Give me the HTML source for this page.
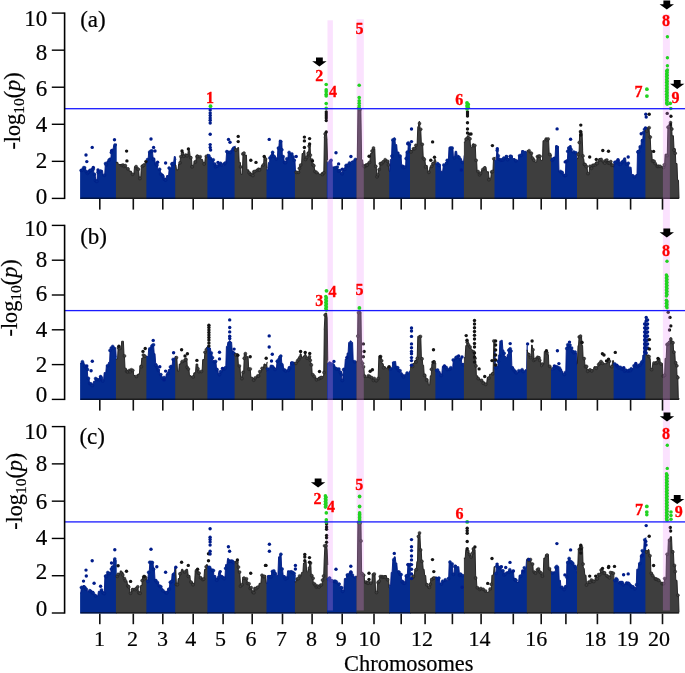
<!DOCTYPE html><html><head><meta charset="utf-8"><style>html,body{margin:0;padding:0;background:#fff;}svg{display:block;will-change:transform;}text{font-family:"Liberation Serif",serif;}</style></head><body>
<svg width="685" height="673" viewBox="0 0 685 673">
<path d="M80.1,199.0 L80.1,169.6 L80.4,169.6 L81.0,169.6 L82.6,169.6 L83.2,168.2 L85.4,168.2 L86.0,171.8 L88.0,171.8 L88.5,170.4 L90.9,170.4 L91.5,168.2 L93.4,168.2 L94.0,174.7 L95.2,174.7 L95.8,180.6 L97.0,180.6 L97.6,171.1 L99.6,171.1 L100.2,170.4 L102.5,170.4 L103.1,175.5 L104.7,175.5 L105.3,163.8 L106.5,163.8 L107.1,160.9 L108.7,160.9 L109.3,158.0 L110.9,158.0 L111.5,149.2 L113.1,149.2 L113.7,145.5 L115.3,145.5 L115.9,144.0 L116.7,144.0 L116.7,199.0Z" fill="#042b90"/>
<path d="M80.1,169.6 L80.4,169.6 L81.0,169.6 L82.6,169.6 L83.2,168.2 L85.4,168.2 L86.0,171.8 L88.0,171.8 L88.5,170.4 L90.9,170.4 L91.5,168.2 L93.4,168.2 L94.0,174.7 L95.2,174.7 L95.8,180.6 L97.0,180.6 L97.6,171.1 L99.6,171.1 L100.2,170.4 L102.5,170.4 L103.1,175.5 L104.7,175.5 L105.3,163.8 L106.5,163.8 L107.1,160.9 L108.7,160.9 L109.3,158.0 L110.9,158.0 L111.5,149.2 L113.1,149.2 L113.7,145.5 L115.3,145.5 L115.9,144.0 L116.7,144.0" fill="none" stroke="#001a85" stroke-width="0.9" stroke-linejoin="round"/>
<g fill="#042b90" stroke="#001a85" stroke-width="0.45"><circle cx="81.1" cy="170.4" r="1.5"/><circle cx="82.5" cy="169.8" r="1.5"/><circle cx="83.7" cy="167.7" r="1.5"/><circle cx="84.6" cy="167.8" r="1.5"/><circle cx="86.3" cy="171.5" r="1.5"/><circle cx="87.4" cy="173.3" r="1.5"/><circle cx="88.4" cy="172.1" r="1.5"/><circle cx="89.9" cy="170.4" r="1.5"/><circle cx="90.7" cy="170.3" r="1.5"/><circle cx="93.3" cy="169.0" r="1.5"/><circle cx="94.5" cy="174.2" r="1.5"/><circle cx="95.5" cy="180.5" r="1.5"/><circle cx="96.8" cy="181.3" r="1.5"/><circle cx="98.0" cy="172.2" r="1.5"/><circle cx="100.5" cy="171.0" r="1.5"/><circle cx="104.4" cy="175.2" r="1.5"/><circle cx="105.5" cy="163.5" r="1.5"/><circle cx="106.2" cy="164.7" r="1.5"/><circle cx="109.1" cy="160.0" r="1.5"/><circle cx="111.3" cy="152.5" r="1.5"/><circle cx="115.0" cy="145.0" r="1.5"/></g>
<path d="M115.9,199.0 L115.9,162.3 L117.8,162.3 L118.4,164.5 L122.2,164.5 L122.8,165.3 L125.9,165.3 L126.5,168.2 L128.8,168.2 L129.4,171.1 L131.3,171.1 L131.9,174.0 L133.9,174.0 L134.5,166.7 L136.5,166.7 L137.1,168.2 L138.6,168.2 L139.2,177.0 L140.8,177.0 L141.4,165.3 L143.0,165.3 L143.6,163.8 L145.5,163.8 L146.1,162.3 L147.2,162.3 L147.2,199.0Z" fill="#3e3e3e"/>
<path d="M115.9,162.3 L117.8,162.3 L118.4,164.5 L122.2,164.5 L122.8,165.3 L125.9,165.3 L126.5,168.2 L128.8,168.2 L129.4,171.1 L131.3,171.1 L131.9,174.0 L133.9,174.0 L134.5,166.7 L136.5,166.7 L137.1,168.2 L138.6,168.2 L139.2,177.0 L140.8,177.0 L141.4,165.3 L143.0,165.3 L143.6,163.8 L145.5,163.8 L146.1,162.3 L147.2,162.3" fill="none" stroke="#1a1a1a" stroke-width="0.9" stroke-linejoin="round"/>
<g fill="#3e3e3e" stroke="#1a1a1a" stroke-width="0.45"><circle cx="121.8" cy="165.4" r="1.5"/><circle cx="123.1" cy="165.1" r="1.5"/><circle cx="124.0" cy="166.4" r="1.5"/><circle cx="125.3" cy="165.6" r="1.5"/><circle cx="127.9" cy="168.8" r="1.5"/><circle cx="132.6" cy="174.2" r="1.5"/><circle cx="136.1" cy="166.6" r="1.5"/><circle cx="137.5" cy="168.9" r="1.5"/><circle cx="138.4" cy="169.3" r="1.5"/><circle cx="139.9" cy="178.5" r="1.5"/><circle cx="142.4" cy="166.2" r="1.5"/><circle cx="143.7" cy="165.2" r="1.5"/></g>
<path d="M146.4,199.0 L146.4,163.8 L146.6,163.8 L147.2,160.0 L148.1,160.0 L148.7,152.1 L150.3,152.1 L150.9,151.4 L152.5,151.4 L153.1,158.0 L154.7,158.0 L155.3,163.8 L157.2,163.8 L157.9,169.6 L160.1,169.6 L160.8,174.0 L163.1,174.0 L163.7,178.4 L166.1,178.4 L166.7,175.5 L168.6,175.5 L169.2,168.2 L171.1,168.2 L171.8,162.3 L173.7,162.3 L174.3,156.5 L175.2,156.5 L175.9,160.0 L176.0,160.0 L176.0,199.0Z" fill="#042b90"/>
<path d="M146.4,163.8 L146.6,163.8 L147.2,160.0 L148.1,160.0 L148.7,152.1 L150.3,152.1 L150.9,151.4 L152.5,151.4 L153.1,158.0 L154.7,158.0 L155.3,163.8 L157.2,163.8 L157.9,169.6 L160.1,169.6 L160.8,174.0 L163.1,174.0 L163.7,178.4 L166.1,178.4 L166.7,175.5 L168.6,175.5 L169.2,168.2 L171.1,168.2 L171.8,162.3 L173.7,162.3 L174.3,156.5 L175.2,156.5 L175.9,160.0 L176.0,160.0" fill="none" stroke="#001a85" stroke-width="0.9" stroke-linejoin="round"/>
<g fill="#042b90" stroke="#001a85" stroke-width="0.45"><circle cx="147.5" cy="159.6" r="1.5"/><circle cx="149.7" cy="152.0" r="1.5"/><circle cx="151.1" cy="150.9" r="1.5"/><circle cx="152.2" cy="151.0" r="1.5"/><circle cx="153.3" cy="159.3" r="1.5"/><circle cx="155.9" cy="164.0" r="1.5"/><circle cx="157.0" cy="165.1" r="1.5"/><circle cx="159.6" cy="169.2" r="1.5"/><circle cx="160.7" cy="174.0" r="1.5"/><circle cx="162.9" cy="176.2" r="1.5"/><circle cx="164.2" cy="179.0" r="1.5"/><circle cx="165.6" cy="180.0" r="1.5"/><circle cx="169.1" cy="168.0" r="1.5"/><circle cx="171.8" cy="163.9" r="1.5"/><circle cx="173.0" cy="163.9" r="1.5"/></g>
<path d="M175.2,199.0 L175.2,165.0 L175.9,165.0 L176.5,169.8 L178.0,169.8 L178.7,163.9 L179.9,163.9 L180.5,156.5 L181.3,156.5 L182.0,152.0 L183.2,152.0 L183.9,156.5 L185.5,156.5 L186.1,155.0 L187.7,155.0 L188.3,150.5 L189.5,150.5 L190.2,156.5 L191.4,156.5 L192.0,165.4 L193.6,165.4 L194.2,160.9 L195.9,160.9 L196.5,155.0 L198.1,155.0 L198.7,156.5 L200.3,156.5 L200.9,159.4 L202.5,159.4 L203.2,162.4 L204.8,162.4 L205.4,156.5 L206.9,156.5 L207.5,154.2 L208.2,154.2 L208.2,199.0Z" fill="#3e3e3e"/>
<path d="M175.2,165.0 L175.9,165.0 L176.5,169.8 L178.0,169.8 L178.7,163.9 L179.9,163.9 L180.5,156.5 L181.3,156.5 L182.0,152.0 L183.2,152.0 L183.9,156.5 L185.5,156.5 L186.1,155.0 L187.7,155.0 L188.3,150.5 L189.5,150.5 L190.2,156.5 L191.4,156.5 L192.0,165.4 L193.6,165.4 L194.2,160.9 L195.9,160.9 L196.5,155.0 L198.1,155.0 L198.7,156.5 L200.3,156.5 L200.9,159.4 L202.5,159.4 L203.2,162.4 L204.8,162.4 L205.4,156.5 L206.9,156.5 L207.5,154.2 L208.2,154.2" fill="none" stroke="#1a1a1a" stroke-width="0.9" stroke-linejoin="round"/>
<g fill="#3e3e3e" stroke="#1a1a1a" stroke-width="0.45"><circle cx="180.0" cy="162.8" r="1.5"/><circle cx="180.9" cy="156.5" r="1.5"/><circle cx="182.5" cy="153.5" r="1.5"/><circle cx="183.9" cy="156.2" r="1.5"/><circle cx="185.8" cy="155.1" r="1.5"/><circle cx="187.0" cy="155.8" r="1.5"/><circle cx="190.9" cy="157.7" r="1.5"/><circle cx="192.1" cy="166.8" r="1.5"/><circle cx="195.4" cy="162.0" r="1.5"/><circle cx="197.0" cy="156.5" r="1.5"/><circle cx="197.9" cy="156.5" r="1.5"/><circle cx="200.2" cy="156.7" r="1.5"/><circle cx="204.2" cy="164.0" r="1.5"/><circle cx="206.4" cy="156.2" r="1.5"/></g>
<path d="M207.4,199.0 L207.4,155.0 L207.6,155.0 L208.2,155.0 L209.2,155.0 L209.9,158.0 L211.5,158.0 L212.1,159.4 L213.3,159.4 L214.0,163.9 L215.2,163.9 L215.8,165.4 L217.8,165.4 L218.4,163.9 L220.8,163.9 L221.4,165.4 L223.7,165.4 L224.3,162.4 L225.9,162.4 L226.6,152.0 L227.8,152.0 L228.4,151.3 L230.0,151.3 L230.7,150.5 L232.3,150.5 L232.9,147.5 L234.2,147.5 L234.9,146.1 L235.4,146.1 L235.4,199.0Z" fill="#042b90"/>
<path d="M207.4,155.0 L207.6,155.0 L208.2,155.0 L209.2,155.0 L209.9,158.0 L211.5,158.0 L212.1,159.4 L213.3,159.4 L214.0,163.9 L215.2,163.9 L215.8,165.4 L217.8,165.4 L218.4,163.9 L220.8,163.9 L221.4,165.4 L223.7,165.4 L224.3,162.4 L225.9,162.4 L226.6,152.0 L227.8,152.0 L228.4,151.3 L230.0,151.3 L230.7,150.5 L232.3,150.5 L232.9,147.5 L234.2,147.5 L234.9,146.1 L235.4,146.1" fill="none" stroke="#001a85" stroke-width="0.9" stroke-linejoin="round"/>
<g fill="#042b90" stroke="#001a85" stroke-width="0.45"><circle cx="208.9" cy="155.8" r="1.5"/><circle cx="210.1" cy="158.1" r="1.5"/><circle cx="213.3" cy="159.8" r="1.5"/><circle cx="214.7" cy="163.9" r="1.5"/><circle cx="215.6" cy="166.8" r="1.5"/><circle cx="217.0" cy="166.1" r="1.5"/><circle cx="219.7" cy="164.4" r="1.5"/><circle cx="220.6" cy="163.3" r="1.5"/><circle cx="221.6" cy="164.8" r="1.5"/><circle cx="224.2" cy="163.9" r="1.5"/><circle cx="225.3" cy="162.9" r="1.5"/><circle cx="226.8" cy="151.6" r="1.5"/><circle cx="227.6" cy="152.0" r="1.5"/><circle cx="230.2" cy="152.2" r="1.5"/><circle cx="232.7" cy="149.5" r="1.5"/><circle cx="233.9" cy="147.9" r="1.5"/></g>
<path d="M234.6,199.0 L234.6,147.5 L235.3,147.5 L235.9,149.0 L237.1,149.0 L237.8,147.5 L238.6,147.5 L239.2,162.4 L240.4,162.4 L241.1,174.3 L242.3,174.3 L243.0,153.5 L244.2,153.5 L244.8,155.0 L246.4,155.0 L247.0,169.8 L248.6,169.8 L249.2,172.8 L250.8,172.8 L251.5,174.3 L253.1,174.3 L253.7,171.3 L255.3,171.3 L255.9,169.8 L257.9,169.8 L258.5,168.4 L260.9,168.4 L261.5,165.4 L263.5,165.4 L264.1,156.5 L265.3,156.5 L265.9,159.4 L266.5,159.4 L267.1,168.0 L267.3,168.0 L267.3,199.0Z" fill="#3e3e3e"/>
<path d="M234.6,147.5 L235.3,147.5 L235.9,149.0 L237.1,149.0 L237.8,147.5 L238.6,147.5 L239.2,162.4 L240.4,162.4 L241.1,174.3 L242.3,174.3 L243.0,153.5 L244.2,153.5 L244.8,155.0 L246.4,155.0 L247.0,169.8 L248.6,169.8 L249.2,172.8 L250.8,172.8 L251.5,174.3 L253.1,174.3 L253.7,171.3 L255.3,171.3 L255.9,169.8 L257.9,169.8 L258.5,168.4 L260.9,168.4 L261.5,165.4 L263.5,165.4 L264.1,156.5 L265.3,156.5 L265.9,159.4 L266.5,159.4 L267.1,168.0 L267.3,168.0" fill="none" stroke="#1a1a1a" stroke-width="0.9" stroke-linejoin="round"/>
<g fill="#3e3e3e" stroke="#1a1a1a" stroke-width="0.45"><circle cx="235.8" cy="150.1" r="1.5"/><circle cx="240.6" cy="166.9" r="1.5"/><circle cx="242.8" cy="153.9" r="1.5"/><circle cx="244.0" cy="153.1" r="1.5"/><circle cx="249.1" cy="172.7" r="1.5"/><circle cx="250.4" cy="174.3" r="1.5"/><circle cx="251.7" cy="174.5" r="1.5"/><circle cx="252.9" cy="175.5" r="1.5"/><circle cx="253.8" cy="171.8" r="1.5"/><circle cx="254.8" cy="171.4" r="1.5"/><circle cx="257.4" cy="170.2" r="1.5"/><circle cx="258.5" cy="169.2" r="1.5"/><circle cx="259.5" cy="170.0" r="1.5"/><circle cx="263.3" cy="164.9" r="1.5"/><circle cx="265.6" cy="159.0" r="1.5"/></g>
<path d="M266.5,199.0 L266.5,169.8 L266.8,169.8 L267.4,169.8 L267.9,169.8 L268.5,162.4 L269.5,162.4 L270.1,156.5 L271.3,156.5 L271.9,152.0 L273.2,152.0 L273.8,156.5 L275.5,156.5 L276.1,159.4 L277.3,159.4 L277.9,147.5 L278.8,147.5 L279.4,140.1 L280.3,140.1 L280.9,140.9 L281.8,140.9 L282.4,156.5 L283.7,156.5 L284.3,162.4 L285.9,162.4 L286.5,159.4 L287.8,159.4 L288.4,152.0 L289.6,152.0 L290.2,153.5 L291.8,153.5 L292.4,156.5 L293.6,156.5 L294.2,159.4 L294.9,159.4 L295.5,171.3 L295.7,171.3 L295.7,199.0Z" fill="#042b90"/>
<path d="M266.5,169.8 L266.8,169.8 L267.4,169.8 L267.9,169.8 L268.5,162.4 L269.5,162.4 L270.1,156.5 L271.3,156.5 L271.9,152.0 L273.2,152.0 L273.8,156.5 L275.5,156.5 L276.1,159.4 L277.3,159.4 L277.9,147.5 L278.8,147.5 L279.4,140.1 L280.3,140.1 L280.9,140.9 L281.8,140.9 L282.4,156.5 L283.7,156.5 L284.3,162.4 L285.9,162.4 L286.5,159.4 L287.8,159.4 L288.4,152.0 L289.6,152.0 L290.2,153.5 L291.8,153.5 L292.4,156.5 L293.6,156.5 L294.2,159.4 L294.9,159.4 L295.5,171.3 L295.7,171.3" fill="none" stroke="#001a85" stroke-width="0.9" stroke-linejoin="round"/>
<g fill="#042b90" stroke="#001a85" stroke-width="0.45"><circle cx="269.9" cy="157.9" r="1.5"/><circle cx="271.4" cy="156.1" r="1.5"/><circle cx="272.6" cy="152.3" r="1.5"/><circle cx="274.0" cy="156.2" r="1.5"/><circle cx="276.3" cy="158.9" r="1.5"/><circle cx="278.4" cy="148.1" r="1.5"/><circle cx="280.7" cy="141.5" r="1.5"/><circle cx="281.9" cy="149.8" r="1.5"/><circle cx="283.1" cy="156.6" r="1.5"/><circle cx="284.7" cy="162.4" r="1.5"/><circle cx="285.5" cy="162.6" r="1.5"/><circle cx="286.8" cy="158.8" r="1.5"/><circle cx="289.1" cy="152.4" r="1.5"/><circle cx="291.9" cy="153.9" r="1.5"/><circle cx="293.1" cy="156.8" r="1.5"/><circle cx="294.2" cy="160.2" r="1.5"/></g>
<path d="M294.9,199.0 L294.9,171.3 L295.2,171.3 L295.9,171.3 L297.0,171.3 L297.6,172.8 L299.2,172.8 L299.8,165.4 L301.5,165.4 L302.1,153.5 L303.3,153.5 L303.9,150.5 L304.8,150.5 L305.4,159.4 L306.7,159.4 L307.3,152.0 L308.6,152.0 L309.2,144.6 L310.1,144.6 L310.7,159.4 L311.9,159.4 L312.5,165.4 L314.1,165.4 L314.7,171.3 L316.3,171.3 L316.9,172.8 L318.6,172.8 L319.2,174.3 L320.8,174.3 L321.4,172.8 L322.7,172.8 L323.3,172.0 L323.8,172.0 L324.4,138.0 L324.2,138.0 L324.9,132.5 L325.3,132.5 L325.9,132.5 L326.4,132.5 L327.1,140.0 L327.0,140.0 L327.6,160.0 L327.6,160.0 L327.6,199.0Z" fill="#3e3e3e"/>
<path d="M294.9,171.3 L295.2,171.3 L295.9,171.3 L297.0,171.3 L297.6,172.8 L299.2,172.8 L299.8,165.4 L301.5,165.4 L302.1,153.5 L303.3,153.5 L303.9,150.5 L304.8,150.5 L305.4,159.4 L306.7,159.4 L307.3,152.0 L308.6,152.0 L309.2,144.6 L310.1,144.6 L310.7,159.4 L311.9,159.4 L312.5,165.4 L314.1,165.4 L314.7,171.3 L316.3,171.3 L316.9,172.8 L318.6,172.8 L319.2,174.3 L320.8,174.3 L321.4,172.8 L322.7,172.8 L323.3,172.0 L323.8,172.0 L324.4,138.0 L324.2,138.0 L324.9,132.5 L325.3,132.5 L325.9,132.5 L326.4,132.5 L327.1,140.0 L327.0,140.0 L327.6,160.0 L327.6,160.0" fill="none" stroke="#1a1a1a" stroke-width="0.9" stroke-linejoin="round"/>
<g fill="#3e3e3e" stroke="#1a1a1a" stroke-width="0.45"><circle cx="296.3" cy="172.3" r="1.5"/><circle cx="298.4" cy="172.3" r="1.5"/><circle cx="299.4" cy="168.3" r="1.5"/><circle cx="300.7" cy="165.0" r="1.5"/><circle cx="305.5" cy="159.4" r="1.5"/><circle cx="306.7" cy="157.3" r="1.5"/><circle cx="308.4" cy="153.5" r="1.5"/><circle cx="309.1" cy="146.1" r="1.5"/><circle cx="310.4" cy="155.1" r="1.5"/><circle cx="311.7" cy="159.9" r="1.5"/><circle cx="312.9" cy="164.8" r="1.5"/><circle cx="313.9" cy="165.7" r="1.5"/><circle cx="315.0" cy="171.4" r="1.5"/><circle cx="316.6" cy="172.4" r="1.5"/><circle cx="322.4" cy="174.4" r="1.5"/><circle cx="323.8" cy="172.8" r="1.5"/><circle cx="325.1" cy="133.9" r="1.5"/></g>
<path d="M326.8,199.0 L326.8,162.4 L326.8,162.4 L327.4,162.4 L328.6,162.4 L329.2,160.9 L331.6,160.9 L332.2,166.9 L334.6,166.9 L335.2,166.9 L337.5,166.9 L338.1,169.8 L340.1,169.8 L340.7,172.8 L342.3,172.8 L342.9,169.8 L344.6,169.8 L345.2,165.4 L346.8,165.4 L347.4,163.9 L349.0,163.9 L349.6,162.4 L351.2,162.4 L351.8,160.9 L353.5,160.9 L354.1,159.4 L355.7,159.4 L356.3,158.7 L357.2,158.7 L357.2,199.0Z" fill="#042b90"/>
<path d="M326.8,162.4 L326.8,162.4 L327.4,162.4 L328.6,162.4 L329.2,160.9 L331.6,160.9 L332.2,166.9 L334.6,166.9 L335.2,166.9 L337.5,166.9 L338.1,169.8 L340.1,169.8 L340.7,172.8 L342.3,172.8 L342.9,169.8 L344.6,169.8 L345.2,165.4 L346.8,165.4 L347.4,163.9 L349.0,163.9 L349.6,162.4 L351.2,162.4 L351.8,160.9 L353.5,160.9 L354.1,159.4 L355.7,159.4 L356.3,158.7 L357.2,158.7" fill="none" stroke="#001a85" stroke-width="0.9" stroke-linejoin="round"/>
<g fill="#042b90" stroke="#001a85" stroke-width="0.45"><circle cx="330.4" cy="161.4" r="1.5"/><circle cx="335.4" cy="167.8" r="1.5"/><circle cx="337.3" cy="167.1" r="1.5"/><circle cx="338.6" cy="171.0" r="1.5"/><circle cx="340.1" cy="170.6" r="1.5"/><circle cx="342.1" cy="173.7" r="1.5"/><circle cx="344.8" cy="169.2" r="1.5"/><circle cx="346.1" cy="165.4" r="1.5"/><circle cx="347.1" cy="165.4" r="1.5"/><circle cx="348.5" cy="165.4" r="1.5"/><circle cx="349.5" cy="162.9" r="1.5"/><circle cx="355.4" cy="159.4" r="1.5"/></g>
<path d="M356.4,199.0 L356.4,160.0 L356.7,160.0 L357.3,158.0 L357.3,158.0 L357.9,110.0 L357.8,110.0 L358.4,108.5 L359.2,108.5 L359.8,108.5 L360.6,108.5 L361.2,110.0 L360.9,110.0 L361.6,158.0 L361.3,158.0 L361.9,160.0 L362.6,160.0 L363.2,165.4 L364.7,165.4 L365.3,163.9 L367.3,163.9 L367.9,162.4 L369.9,162.4 L370.5,153.5 L371.8,153.5 L372.4,148.3 L373.2,148.3 L373.9,149.0 L374.8,149.0 L375.4,165.4 L376.2,165.4 L376.9,177.3 L377.8,177.3 L378.4,169.8 L379.6,169.8 L380.2,162.4 L381.8,162.4 L382.4,160.9 L384.1,160.9 L384.7,159.4 L386.3,159.4 L386.9,160.9 L388.6,160.9 L389.2,171.3 L390.0,171.3 L390.0,199.0Z" fill="#3e3e3e"/>
<path d="M356.4,160.0 L356.7,160.0 L357.3,158.0 L357.3,158.0 L357.9,110.0 L357.8,110.0 L358.4,108.5 L359.2,108.5 L359.8,108.5 L360.6,108.5 L361.2,110.0 L360.9,110.0 L361.6,158.0 L361.3,158.0 L361.9,160.0 L362.6,160.0 L363.2,165.4 L364.7,165.4 L365.3,163.9 L367.3,163.9 L367.9,162.4 L369.9,162.4 L370.5,153.5 L371.8,153.5 L372.4,148.3 L373.2,148.3 L373.9,149.0 L374.8,149.0 L375.4,165.4 L376.2,165.4 L376.9,177.3 L377.8,177.3 L378.4,169.8 L379.6,169.8 L380.2,162.4 L381.8,162.4 L382.4,160.9 L384.1,160.9 L384.7,159.4 L386.3,159.4 L386.9,160.9 L388.6,160.9 L389.2,171.3 L390.0,171.3" fill="none" stroke="#1a1a1a" stroke-width="0.9" stroke-linejoin="round"/>
<g fill="#3e3e3e" stroke="#1a1a1a" stroke-width="0.45"><circle cx="358.8" cy="107.9" r="1.5"/><circle cx="359.9" cy="109.4" r="1.5"/><circle cx="363.6" cy="165.8" r="1.5"/><circle cx="364.6" cy="166.5" r="1.5"/><circle cx="366.3" cy="165.4" r="1.5"/><circle cx="367.2" cy="165.1" r="1.5"/><circle cx="369.5" cy="162.3" r="1.5"/><circle cx="372.0" cy="151.0" r="1.5"/><circle cx="373.5" cy="148.0" r="1.5"/><circle cx="375.8" cy="166.3" r="1.5"/><circle cx="377.0" cy="176.8" r="1.5"/><circle cx="377.7" cy="174.7" r="1.5"/><circle cx="379.1" cy="169.5" r="1.5"/><circle cx="380.3" cy="163.6" r="1.5"/><circle cx="381.8" cy="163.6" r="1.5"/><circle cx="383.1" cy="161.9" r="1.5"/><circle cx="385.1" cy="159.7" r="1.5"/><circle cx="387.5" cy="161.2" r="1.5"/><circle cx="388.5" cy="164.9" r="1.5"/></g>
<path d="M389.2,199.0 L389.2,171.3 L389.7,171.3 L390.3,159.4 L391.5,159.4 L392.1,140.1 L393.3,140.1 L393.9,137.9 L394.8,137.9 L395.4,144.6 L396.7,144.6 L397.3,152.0 L398.9,152.0 L399.5,156.5 L401.1,156.5 L401.7,165.4 L403.3,165.4 L403.9,166.9 L405.6,166.9 L406.2,152.0 L407.8,152.0 L408.4,143.1 L409.7,143.1 L410.3,144.6 L410.8,144.6 L410.8,199.0Z" fill="#042b90"/>
<path d="M389.2,171.3 L389.7,171.3 L390.3,159.4 L391.5,159.4 L392.1,140.1 L393.3,140.1 L393.9,137.9 L394.8,137.9 L395.4,144.6 L396.7,144.6 L397.3,152.0 L398.9,152.0 L399.5,156.5 L401.1,156.5 L401.7,165.4 L403.3,165.4 L403.9,166.9 L405.6,166.9 L406.2,152.0 L407.8,152.0 L408.4,143.1 L409.7,143.1 L410.3,144.6 L410.8,144.6" fill="none" stroke="#001a85" stroke-width="0.9" stroke-linejoin="round"/>
<g fill="#042b90" stroke="#001a85" stroke-width="0.45"><circle cx="391.9" cy="156.1" r="1.5"/><circle cx="392.8" cy="139.9" r="1.5"/><circle cx="394.3" cy="139.2" r="1.5"/><circle cx="400.1" cy="156.0" r="1.5"/><circle cx="402.6" cy="166.2" r="1.5"/><circle cx="403.3" cy="167.5" r="1.5"/><circle cx="404.8" cy="167.1" r="1.5"/><circle cx="406.1" cy="158.5" r="1.5"/><circle cx="407.3" cy="152.1" r="1.5"/><circle cx="408.3" cy="142.9" r="1.5"/><circle cx="409.4" cy="144.5" r="1.5"/></g>
<path d="M410.0,199.0 L410.0,150.0 L410.4,150.0 L411.1,150.5 L412.6,150.5 L413.2,149.0 L415.2,149.0 L415.8,144.6 L417.1,144.6 L417.8,126.7 L418.4,126.7 L419.0,121.5 L419.5,121.5 L420.1,129.7 L420.8,129.7 L421.4,144.6 L422.7,144.6 L423.3,159.4 L424.9,159.4 L425.5,165.4 L427.2,165.4 L427.8,171.3 L429.4,171.3 L430.0,166.9 L431.6,166.9 L432.2,162.4 L433.8,162.4 L434.4,159.4 L435.4,159.4 L436.0,162.0 L436.2,162.0 L436.2,199.0Z" fill="#3e3e3e"/>
<path d="M410.0,150.0 L410.4,150.0 L411.1,150.5 L412.6,150.5 L413.2,149.0 L415.2,149.0 L415.8,144.6 L417.1,144.6 L417.8,126.7 L418.4,126.7 L419.0,121.5 L419.5,121.5 L420.1,129.7 L420.8,129.7 L421.4,144.6 L422.7,144.6 L423.3,159.4 L424.9,159.4 L425.5,165.4 L427.2,165.4 L427.8,171.3 L429.4,171.3 L430.0,166.9 L431.6,166.9 L432.2,162.4 L433.8,162.4 L434.4,159.4 L435.4,159.4 L436.0,162.0 L436.2,162.0" fill="none" stroke="#1a1a1a" stroke-width="0.9" stroke-linejoin="round"/>
<g fill="#3e3e3e" stroke="#1a1a1a" stroke-width="0.45"><circle cx="411.0" cy="151.9" r="1.5"/><circle cx="413.4" cy="148.8" r="1.5"/><circle cx="414.7" cy="148.6" r="1.5"/><circle cx="415.9" cy="145.3" r="1.5"/><circle cx="419.5" cy="123.4" r="1.5"/><circle cx="420.7" cy="129.2" r="1.5"/><circle cx="422.3" cy="144.3" r="1.5"/><circle cx="423.3" cy="158.2" r="1.5"/><circle cx="424.3" cy="159.3" r="1.5"/><circle cx="425.6" cy="166.9" r="1.5"/><circle cx="428.9" cy="172.3" r="1.5"/><circle cx="431.7" cy="166.3" r="1.5"/><circle cx="433.1" cy="163.6" r="1.5"/></g>
<path d="M435.4,199.0 L435.4,163.9 L435.8,163.9 L436.4,163.9 L437.6,163.9 L438.2,163.9 L440.1,163.9 L440.8,171.3 L442.7,171.3 L443.3,165.4 L445.0,165.4 L445.6,162.4 L446.6,162.4 L447.2,160.3 L448.4,160.3 L449.0,147.2 L450.8,147.2 L451.4,148.0 L452.9,148.0 L453.5,158.6 L454.5,158.6 L455.1,151.3 L456.6,151.3 L457.2,155.4 L459.0,155.4 L459.6,158.6 L461.4,158.6 L462.1,161.9 L463.6,161.9 L464.2,155.4 L464.7,155.4 L464.7,199.0Z" fill="#042b90"/>
<path d="M435.4,163.9 L435.8,163.9 L436.4,163.9 L437.6,163.9 L438.2,163.9 L440.1,163.9 L440.8,171.3 L442.7,171.3 L443.3,165.4 L445.0,165.4 L445.6,162.4 L446.6,162.4 L447.2,160.3 L448.4,160.3 L449.0,147.2 L450.8,147.2 L451.4,148.0 L452.9,148.0 L453.5,158.6 L454.5,158.6 L455.1,151.3 L456.6,151.3 L457.2,155.4 L459.0,155.4 L459.6,158.6 L461.4,158.6 L462.1,161.9 L463.6,161.9 L464.2,155.4 L464.7,155.4" fill="none" stroke="#001a85" stroke-width="0.9" stroke-linejoin="round"/>
<g fill="#042b90" stroke="#001a85" stroke-width="0.45"><circle cx="437.6" cy="163.6" r="1.5"/><circle cx="439.1" cy="165.4" r="1.5"/><circle cx="443.8" cy="164.9" r="1.5"/><circle cx="446.5" cy="163.2" r="1.5"/><circle cx="447.2" cy="160.3" r="1.5"/><circle cx="450.7" cy="148.0" r="1.5"/><circle cx="452.1" cy="147.9" r="1.5"/><circle cx="454.5" cy="157.8" r="1.5"/><circle cx="459.2" cy="157.5" r="1.5"/><circle cx="462.7" cy="162.4" r="1.5"/></g>
<path d="M463.9,199.0 L463.9,142.3 L464.8,142.3 L465.4,138.2 L466.7,138.2 L467.3,135.8 L468.4,135.8 L469.0,139.0 L470.0,139.0 L470.6,147.2 L472.1,147.2 L472.7,143.9 L474.1,143.9 L474.7,145.6 L475.3,145.6 L475.9,160.3 L476.6,160.3 L477.2,171.7 L478.6,171.7 L479.2,173.3 L481.1,173.3 L481.7,170.0 L483.5,170.0 L484.1,166.8 L485.9,166.8 L486.6,171.7 L488.4,171.7 L489.0,178.2 L490.8,178.2 L491.4,171.7 L492.9,171.7 L493.5,158.6 L494.3,158.6 L494.9,157.0 L495.3,157.0 L495.3,199.0Z" fill="#3e3e3e"/>
<path d="M463.9,142.3 L464.8,142.3 L465.4,138.2 L466.7,138.2 L467.3,135.8 L468.4,135.8 L469.0,139.0 L470.0,139.0 L470.6,147.2 L472.1,147.2 L472.7,143.9 L474.1,143.9 L474.7,145.6 L475.3,145.6 L475.9,160.3 L476.6,160.3 L477.2,171.7 L478.6,171.7 L479.2,173.3 L481.1,173.3 L481.7,170.0 L483.5,170.0 L484.1,166.8 L485.9,166.8 L486.6,171.7 L488.4,171.7 L489.0,178.2 L490.8,178.2 L491.4,171.7 L492.9,171.7 L493.5,158.6 L494.3,158.6 L494.9,157.0 L495.3,157.0" fill="none" stroke="#1a1a1a" stroke-width="0.9" stroke-linejoin="round"/>
<g fill="#3e3e3e" stroke="#1a1a1a" stroke-width="0.45"><circle cx="466.2" cy="139.1" r="1.5"/><circle cx="468.4" cy="137.5" r="1.5"/><circle cx="470.0" cy="138.8" r="1.5"/><circle cx="473.3" cy="145.4" r="1.5"/><circle cx="474.9" cy="145.5" r="1.5"/><circle cx="476.1" cy="160.3" r="1.5"/><circle cx="478.1" cy="171.6" r="1.5"/><circle cx="479.6" cy="174.8" r="1.5"/><circle cx="480.6" cy="173.2" r="1.5"/><circle cx="482.8" cy="169.5" r="1.5"/><circle cx="484.5" cy="168.1" r="1.5"/><circle cx="488.9" cy="179.7" r="1.5"/><circle cx="491.6" cy="171.9" r="1.5"/><circle cx="492.6" cy="171.5" r="1.5"/><circle cx="493.8" cy="158.8" r="1.5"/></g>
<path d="M494.5,199.0 L494.5,160.3 L494.8,160.3 L495.4,160.3 L496.2,160.3 L496.8,150.5 L497.8,150.5 L498.4,158.6 L499.8,158.6 L500.4,160.3 L502.3,160.3 L502.9,158.6 L504.8,158.6 L505.4,155.4 L507.2,155.4 L507.8,158.6 L509.6,158.6 L510.2,155.4 L512.1,155.4 L512.7,158.6 L515.0,158.6 L515.5,160.3 L518.2,160.3 L518.8,155.4 L521.1,155.4 L521.7,150.5 L523.6,150.5 L524.1,151.3 L526.1,151.3 L526.6,152.1 L527.6,152.1 L527.6,199.0Z" fill="#042b90"/>
<path d="M494.5,160.3 L494.8,160.3 L495.4,160.3 L496.2,160.3 L496.8,150.5 L497.8,150.5 L498.4,158.6 L499.8,158.6 L500.4,160.3 L502.3,160.3 L502.9,158.6 L504.8,158.6 L505.4,155.4 L507.2,155.4 L507.8,158.6 L509.6,158.6 L510.2,155.4 L512.1,155.4 L512.7,158.6 L515.0,158.6 L515.5,160.3 L518.2,160.3 L518.8,155.4 L521.1,155.4 L521.7,150.5 L523.6,150.5 L524.1,151.3 L526.1,151.3 L526.6,152.1 L527.6,152.1" fill="none" stroke="#001a85" stroke-width="0.9" stroke-linejoin="round"/>
<g fill="#042b90" stroke="#001a85" stroke-width="0.45"><circle cx="497.2" cy="150.4" r="1.5"/><circle cx="498.3" cy="155.8" r="1.5"/><circle cx="499.0" cy="159.0" r="1.5"/><circle cx="500.8" cy="160.1" r="1.5"/><circle cx="501.9" cy="159.8" r="1.5"/><circle cx="503.1" cy="159.7" r="1.5"/><circle cx="503.8" cy="158.1" r="1.5"/><circle cx="506.6" cy="156.8" r="1.5"/><circle cx="507.6" cy="159.6" r="1.5"/><circle cx="510.2" cy="156.3" r="1.5"/><circle cx="511.0" cy="156.5" r="1.5"/><circle cx="515.9" cy="160.7" r="1.5"/><circle cx="519.6" cy="155.7" r="1.5"/><circle cx="521.2" cy="155.2" r="1.5"/></g>
<path d="M526.8,199.0 L526.8,150.5 L527.2,150.5 L527.8,150.5 L529.2,150.5 L529.8,152.1 L531.7,152.1 L532.3,158.6 L534.2,158.6 L534.8,161.9 L536.6,161.9 L537.2,157.0 L538.3,157.0 L538.9,155.4 L540.0,155.4 L540.6,160.3 L542.5,160.3 L543.0,140.7 L544.5,140.7 L545.1,139.0 L546.6,139.0 L547.1,139.0 L548.6,139.0 L549.2,153.7 L550.5,153.7 L551.0,155.4 L551.8,155.4 L551.8,199.0Z" fill="#3e3e3e"/>
<path d="M526.8,150.5 L527.2,150.5 L527.8,150.5 L529.2,150.5 L529.8,152.1 L531.7,152.1 L532.3,158.6 L534.2,158.6 L534.8,161.9 L536.6,161.9 L537.2,157.0 L538.3,157.0 L538.9,155.4 L540.0,155.4 L540.6,160.3 L542.5,160.3 L543.0,140.7 L544.5,140.7 L545.1,139.0 L546.6,139.0 L547.1,139.0 L548.6,139.0 L549.2,153.7 L550.5,153.7 L551.0,155.4 L551.8,155.4" fill="none" stroke="#1a1a1a" stroke-width="0.9" stroke-linejoin="round"/>
<g fill="#3e3e3e" stroke="#1a1a1a" stroke-width="0.45"><circle cx="529.1" cy="150.7" r="1.5"/><circle cx="531.4" cy="153.2" r="1.5"/><circle cx="532.5" cy="158.1" r="1.5"/><circle cx="533.9" cy="160.2" r="1.5"/><circle cx="537.4" cy="156.6" r="1.5"/><circle cx="538.9" cy="156.0" r="1.5"/><circle cx="540.0" cy="156.2" r="1.5"/><circle cx="546.2" cy="139.0" r="1.5"/><circle cx="547.1" cy="140.0" r="1.5"/><circle cx="548.2" cy="138.9" r="1.5"/><circle cx="549.8" cy="154.4" r="1.5"/></g>
<path d="M551.0,199.0 L551.0,158.6 L551.3,158.6 L551.9,158.6 L553.1,158.6 L553.7,157.0 L555.1,157.0 L555.7,145.6 L556.8,145.6 L557.3,146.4 L558.4,146.4 L559.0,171.7 L560.5,171.7 L561.0,171.7 L562.9,171.7 L563.5,175.0 L565.4,175.0 L565.9,160.3 L567.4,160.3 L568.0,147.2 L569.0,147.2 L569.6,145.6 L571.1,145.6 L571.6,152.1 L573.5,152.1 L574.1,152.1 L576.1,152.1 L576.7,158.6 L577.8,158.6 L577.8,199.0Z" fill="#042b90"/>
<path d="M551.0,158.6 L551.3,158.6 L551.9,158.6 L553.1,158.6 L553.7,157.0 L555.1,157.0 L555.7,145.6 L556.8,145.6 L557.3,146.4 L558.4,146.4 L559.0,171.7 L560.5,171.7 L561.0,171.7 L562.9,171.7 L563.5,175.0 L565.4,175.0 L565.9,160.3 L567.4,160.3 L568.0,147.2 L569.0,147.2 L569.6,145.6 L571.1,145.6 L571.6,152.1 L573.5,152.1 L574.1,152.1 L576.1,152.1 L576.7,158.6 L577.8,158.6" fill="none" stroke="#001a85" stroke-width="0.9" stroke-linejoin="round"/>
<g fill="#042b90" stroke="#001a85" stroke-width="0.45"><circle cx="552.1" cy="160.2" r="1.5"/><circle cx="553.2" cy="159.0" r="1.5"/><circle cx="557.0" cy="147.1" r="1.5"/><circle cx="560.5" cy="171.4" r="1.5"/><circle cx="562.1" cy="172.4" r="1.5"/><circle cx="564.4" cy="175.4" r="1.5"/><circle cx="565.6" cy="175.3" r="1.5"/><circle cx="566.7" cy="161.1" r="1.5"/><circle cx="567.7" cy="151.3" r="1.5"/><circle cx="568.9" cy="147.9" r="1.5"/><circle cx="571.1" cy="149.5" r="1.5"/><circle cx="573.7" cy="151.9" r="1.5"/><circle cx="575.9" cy="152.8" r="1.5"/></g>
<path d="M577.0,199.0 L577.0,158.6 L577.8,158.6 L578.3,152.1 L579.1,152.1 L579.6,134.0 L579.9,134.0 L580.5,131.5 L581.2,131.5 L581.8,133.0 L582.1,133.0 L582.7,150.0 L582.6,150.0 L583.2,158.6 L583.7,158.6 L584.3,163.5 L585.4,163.5 L585.9,165.2 L587.0,165.2 L587.6,173.3 L589.1,173.3 L589.6,166.8 L591.9,166.8 L592.5,165.2 L595.2,165.2 L595.8,161.9 L598.5,161.9 L599.0,158.6 L601.7,158.6 L602.3,161.9 L605.0,161.9 L605.5,160.3 L607.5,160.3 L608.1,161.6 L609.2,161.6 L609.8,161.9 L611.0,161.9 L611.6,164.4 L613.1,164.4 L613.7,165.2 L614.4,165.2 L614.4,199.0Z" fill="#3e3e3e"/>
<path d="M577.0,158.6 L577.8,158.6 L578.3,152.1 L579.1,152.1 L579.6,134.0 L579.9,134.0 L580.5,131.5 L581.2,131.5 L581.8,133.0 L582.1,133.0 L582.7,150.0 L582.6,150.0 L583.2,158.6 L583.7,158.6 L584.3,163.5 L585.4,163.5 L585.9,165.2 L587.0,165.2 L587.6,173.3 L589.1,173.3 L589.6,166.8 L591.9,166.8 L592.5,165.2 L595.2,165.2 L595.8,161.9 L598.5,161.9 L599.0,158.6 L601.7,158.6 L602.3,161.9 L605.0,161.9 L605.5,160.3 L607.5,160.3 L608.1,161.6 L609.2,161.6 L609.8,161.9 L611.0,161.9 L611.6,164.4 L613.1,164.4 L613.7,165.2 L614.4,165.2" fill="none" stroke="#1a1a1a" stroke-width="0.9" stroke-linejoin="round"/>
<g fill="#3e3e3e" stroke="#1a1a1a" stroke-width="0.45"><circle cx="578.2" cy="154.5" r="1.5"/><circle cx="579.2" cy="142.5" r="1.5"/><circle cx="580.5" cy="131.6" r="1.5"/><circle cx="583.0" cy="155.9" r="1.5"/><circle cx="584.4" cy="164.3" r="1.5"/><circle cx="585.2" cy="164.6" r="1.5"/><circle cx="586.3" cy="166.6" r="1.5"/><circle cx="588.0" cy="173.6" r="1.5"/><circle cx="590.0" cy="166.2" r="1.5"/><circle cx="591.5" cy="168.2" r="1.5"/><circle cx="592.7" cy="165.4" r="1.5"/><circle cx="593.6" cy="165.2" r="1.5"/><circle cx="595.3" cy="164.8" r="1.5"/><circle cx="596.4" cy="163.4" r="1.5"/><circle cx="597.2" cy="163.4" r="1.5"/><circle cx="599.5" cy="160.0" r="1.5"/><circle cx="601.2" cy="159.4" r="1.5"/><circle cx="603.6" cy="161.8" r="1.5"/><circle cx="604.8" cy="163.1" r="1.5"/><circle cx="605.6" cy="160.6" r="1.5"/><circle cx="606.9" cy="160.0" r="1.5"/><circle cx="608.3" cy="163.0" r="1.5"/><circle cx="609.4" cy="162.8" r="1.5"/><circle cx="610.8" cy="161.6" r="1.5"/><circle cx="611.8" cy="165.2" r="1.5"/><circle cx="613.0" cy="165.1" r="1.5"/></g>
<path d="M613.6,199.0 L613.6,167.2 L614.0,167.2 L614.6,161.9 L616.0,161.9 L616.5,160.3 L617.9,160.3 L618.5,159.8 L619.2,159.8 L619.8,165.2 L620.6,165.2 L621.1,161.6 L621.8,161.6 L622.3,161.9 L623.2,161.9 L623.8,157.9 L625.6,157.9 L626.2,163.5 L628.4,163.5 L628.9,167.2 L631.1,167.2 L631.7,174.6 L633.5,174.6 L634.0,176.5 L635.3,176.5 L635.9,174.6 L637.0,174.6 L637.5,150.5 L638.9,150.5 L639.4,146.8 L640.9,146.8 L641.5,139.4 L642.8,139.4 L643.3,132.0 L644.4,132.0 L645.0,128.2 L645.5,128.2 L646.1,128.0 L646.2,128.0 L646.2,199.0Z" fill="#042b90"/>
<path d="M613.6,167.2 L614.0,167.2 L614.6,161.9 L616.0,161.9 L616.5,160.3 L617.9,160.3 L618.5,159.8 L619.2,159.8 L619.8,165.2 L620.6,165.2 L621.1,161.6 L621.8,161.6 L622.3,161.9 L623.2,161.9 L623.8,157.9 L625.6,157.9 L626.2,163.5 L628.4,163.5 L628.9,167.2 L631.1,167.2 L631.7,174.6 L633.5,174.6 L634.0,176.5 L635.3,176.5 L635.9,174.6 L637.0,174.6 L637.5,150.5 L638.9,150.5 L639.4,146.8 L640.9,146.8 L641.5,139.4 L642.8,139.4 L643.3,132.0 L644.4,132.0 L645.0,128.2 L645.5,128.2 L646.1,128.0 L646.2,128.0" fill="none" stroke="#001a85" stroke-width="0.9" stroke-linejoin="round"/>
<g fill="#042b90" stroke="#001a85" stroke-width="0.45"><circle cx="614.9" cy="162.3" r="1.5"/><circle cx="615.7" cy="162.5" r="1.5"/><circle cx="617.0" cy="161.4" r="1.5"/><circle cx="619.4" cy="164.3" r="1.5"/><circle cx="620.6" cy="164.0" r="1.5"/><circle cx="622.0" cy="162.2" r="1.5"/><circle cx="623.3" cy="161.1" r="1.5"/><circle cx="626.5" cy="164.0" r="1.5"/><circle cx="628.3" cy="163.2" r="1.5"/><circle cx="634.3" cy="176.8" r="1.5"/><circle cx="637.8" cy="151.9" r="1.5"/><circle cx="638.7" cy="151.6" r="1.5"/><circle cx="640.2" cy="146.8" r="1.5"/><circle cx="642.4" cy="140.8" r="1.5"/><circle cx="643.5" cy="132.5" r="1.5"/><circle cx="644.5" cy="129.3" r="1.5"/></g>
<path d="M645.4,199.0 L645.4,130.1 L645.5,130.1 L646.1,130.1 L647.1,130.1 L647.7,127.3 L649.0,127.3 L649.5,135.7 L650.2,135.7 L650.8,150.5 L651.7,150.5 L652.2,159.8 L653.7,159.8 L654.3,163.5 L656.2,163.5 L656.8,165.3 L659.0,165.3 L659.6,166.3 L661.8,166.3 L662.3,167.2 L664.5,167.2 L665.1,154.2 L667.3,154.2 L667.9,126.4 L669.7,126.4 L670.2,122.7 L671.5,122.7 L672.1,135.7 L673.4,135.7 L674.0,148.6 L675.2,148.6 L675.8,163.5 L677.0,163.5 L677.6,180.2 L678.5,180.2 L679.0,198.0 L679.2,198.0 L679.2,199.0Z" fill="#3e3e3e"/>
<path d="M645.4,130.1 L645.5,130.1 L646.1,130.1 L647.1,130.1 L647.7,127.3 L649.0,127.3 L649.5,135.7 L650.2,135.7 L650.8,150.5 L651.7,150.5 L652.2,159.8 L653.7,159.8 L654.3,163.5 L656.2,163.5 L656.8,165.3 L659.0,165.3 L659.6,166.3 L661.8,166.3 L662.3,167.2 L664.5,167.2 L665.1,154.2 L667.3,154.2 L667.9,126.4 L669.7,126.4 L670.2,122.7 L671.5,122.7 L672.1,135.7 L673.4,135.7 L674.0,148.6 L675.2,148.6 L675.8,163.5 L677.0,163.5 L677.6,180.2 L678.5,180.2 L679.0,198.0 L679.2,198.0" fill="none" stroke="#1a1a1a" stroke-width="0.9" stroke-linejoin="round"/>
<g fill="#3e3e3e" stroke="#1a1a1a" stroke-width="0.45"><circle cx="646.9" cy="131.0" r="1.5"/><circle cx="649.2" cy="127.7" r="1.5"/><circle cx="650.3" cy="137.1" r="1.5"/><circle cx="652.6" cy="161.1" r="1.5"/><circle cx="654.1" cy="161.2" r="1.5"/><circle cx="655.2" cy="163.5" r="1.5"/><circle cx="657.3" cy="166.4" r="1.5"/><circle cx="658.4" cy="166.3" r="1.5"/><circle cx="660.0" cy="166.3" r="1.5"/><circle cx="663.5" cy="167.3" r="1.5"/><circle cx="664.3" cy="164.8" r="1.5"/><circle cx="667.0" cy="155.6" r="1.5"/><circle cx="668.0" cy="127.2" r="1.5"/><circle cx="669.1" cy="126.6" r="1.5"/><circle cx="670.5" cy="122.6" r="1.5"/><circle cx="671.9" cy="129.0" r="1.5"/><circle cx="674.0" cy="150.1" r="1.5"/><circle cx="675.2" cy="153.2" r="1.5"/></g>
<rect x="80.5" y="197.5" width="598.3" height="1.5" fill="#000" fill-opacity="0.55"/>
<circle cx="86.0" cy="155.0" r="1.7" fill="#001c8a"/>
<circle cx="86.8" cy="161.6" r="1.7" fill="#001c8a"/>
<circle cx="92.2" cy="147.4" r="1.7" fill="#001c8a"/>
<circle cx="114.5" cy="139.7" r="1.7" fill="#001c8a"/>
<circle cx="111.6" cy="150.7" r="1.7" fill="#001c8a"/>
<circle cx="93.3" cy="167.4" r="1.7" fill="#001c8a"/>
<circle cx="98.0" cy="170.0" r="1.7" fill="#001c8a"/>
<circle cx="126.6" cy="151.1" r="1.7" fill="#141414"/>
<circle cx="126.9" cy="160.9" r="1.7" fill="#141414"/>
<circle cx="145.9" cy="161.6" r="1.7" fill="#141414"/>
<circle cx="151.0" cy="139.0" r="1.7" fill="#001c8a"/>
<circle cx="153.6" cy="147.4" r="1.7" fill="#001c8a"/>
<circle cx="155.0" cy="151.0" r="1.7" fill="#001c8a"/>
<circle cx="157.6" cy="162.3" r="1.7" fill="#001c8a"/>
<circle cx="165.6" cy="163.0" r="1.7" fill="#001c8a"/>
<circle cx="188.4" cy="149.0" r="1.7" fill="#141414"/>
<circle cx="182.0" cy="151.0" r="1.7" fill="#141414"/>
<circle cx="210.2" cy="109.9" r="1.7" fill="#001c8a"/>
<circle cx="210.2" cy="113.0" r="1.7" fill="#001c8a"/>
<circle cx="210.2" cy="115.5" r="1.7" fill="#001c8a"/>
<circle cx="210.2" cy="118.0" r="1.7" fill="#001c8a"/>
<circle cx="210.2" cy="120.3" r="1.7" fill="#001c8a"/>
<circle cx="210.2" cy="123.0" r="1.7" fill="#001c8a"/>
<circle cx="210.2" cy="134.2" r="1.7" fill="#001c8a"/>
<circle cx="210.2" cy="144.6" r="1.7" fill="#001c8a"/>
<circle cx="210.2" cy="147.5" r="1.7" fill="#001c8a"/>
<circle cx="210.6" cy="150.0" r="1.7" fill="#001c8a"/>
<circle cx="228.5" cy="139.4" r="1.7" fill="#001c8a"/>
<circle cx="230.0" cy="142.3" r="1.7" fill="#001c8a"/>
<circle cx="218.0" cy="162.4" r="1.7" fill="#001c8a"/>
<circle cx="238.2" cy="136.4" r="1.7" fill="#141414"/>
<circle cx="238.2" cy="141.6" r="1.7" fill="#141414"/>
<circle cx="250.8" cy="160.2" r="1.7" fill="#141414"/>
<circle cx="256.0" cy="162.4" r="1.7" fill="#141414"/>
<circle cx="264.2" cy="156.5" r="1.7" fill="#141414"/>
<circle cx="269.2" cy="139.4" r="1.7" fill="#001c8a"/>
<circle cx="296.2" cy="156.5" r="1.7" fill="#001c8a"/>
<circle cx="304.4" cy="137.1" r="1.7" fill="#141414"/>
<circle cx="304.4" cy="140.9" r="1.7" fill="#141414"/>
<circle cx="304.4" cy="147.5" r="1.7" fill="#141414"/>
<circle cx="309.6" cy="138.6" r="1.7" fill="#141414"/>
<circle cx="309.6" cy="144.0" r="1.7" fill="#141414"/>
<circle cx="312.5" cy="161.0" r="1.7" fill="#141414"/>
<circle cx="326.3" cy="111.9" r="1.7" fill="#141414"/>
<circle cx="326.3" cy="114.0" r="1.7" fill="#141414"/>
<circle cx="326.3" cy="116.0" r="1.7" fill="#141414"/>
<circle cx="326.3" cy="118.0" r="1.7" fill="#141414"/>
<circle cx="326.3" cy="120.5" r="1.7" fill="#141414"/>
<circle cx="326.3" cy="132.0" r="1.7" fill="#141414"/>
<circle cx="331.1" cy="160.2" r="1.7" fill="#001c8a"/>
<circle cx="336.0" cy="152.7" r="1.7" fill="#001c8a"/>
<circle cx="338.6" cy="163.9" r="1.7" fill="#001c8a"/>
<circle cx="342.3" cy="169.1" r="1.7" fill="#001c8a"/>
<circle cx="350.9" cy="156.5" r="1.7" fill="#001c8a"/>
<circle cx="369.1" cy="156.2" r="1.7" fill="#141414"/>
<circle cx="411.5" cy="129.0" r="1.7" fill="#001c8a"/>
<circle cx="407.7" cy="143.8" r="1.7" fill="#001c8a"/>
<circle cx="411.5" cy="141.6" r="1.7" fill="#001c8a"/>
<circle cx="432.6" cy="141.9" r="1.7" fill="#141414"/>
<circle cx="434.5" cy="157.2" r="1.7" fill="#141414"/>
<circle cx="430.8" cy="160.2" r="1.7" fill="#141414"/>
<circle cx="461.3" cy="170.0" r="1.7" fill="#001c8a"/>
<circle cx="467.5" cy="112.0" r="1.7" fill="#141414"/>
<circle cx="467.5" cy="114.0" r="1.7" fill="#141414"/>
<circle cx="467.5" cy="116.0" r="1.7" fill="#141414"/>
<circle cx="467.5" cy="122.7" r="1.7" fill="#141414"/>
<circle cx="467.5" cy="129.0" r="1.7" fill="#141414"/>
<circle cx="467.5" cy="133.0" r="1.7" fill="#141414"/>
<circle cx="469.5" cy="134.1" r="1.7" fill="#141414"/>
<circle cx="471.0" cy="134.0" r="1.7" fill="#141414"/>
<circle cx="492.4" cy="145.6" r="1.7" fill="#141414"/>
<circle cx="497.3" cy="148.8" r="1.7" fill="#001c8a"/>
<circle cx="557.1" cy="128.9" r="1.7" fill="#001c8a"/>
<circle cx="570.6" cy="139.3" r="1.7" fill="#001c8a"/>
<circle cx="565.2" cy="161.9" r="1.7" fill="#001c8a"/>
<circle cx="580.8" cy="125.1" r="1.7" fill="#141414"/>
<circle cx="580.8" cy="132.0" r="1.7" fill="#141414"/>
<circle cx="580.8" cy="135.0" r="1.7" fill="#141414"/>
<circle cx="589.7" cy="157.0" r="1.7" fill="#141414"/>
<circle cx="596.3" cy="159.4" r="1.7" fill="#141414"/>
<circle cx="602.8" cy="150.5" r="1.7" fill="#141414"/>
<circle cx="608.5" cy="151.3" r="1.7" fill="#141414"/>
<circle cx="618.0" cy="159.8" r="1.7" fill="#001c8a"/>
<circle cx="628.2" cy="157.0" r="1.7" fill="#001c8a"/>
<circle cx="641.2" cy="133.8" r="1.7" fill="#001c8a"/>
<circle cx="645.8" cy="114.3" r="1.7" fill="#001c8a"/>
<circle cx="646.2" cy="117.1" r="1.7" fill="#001c8a"/>
<circle cx="645.5" cy="128.0" r="1.7" fill="#001c8a"/>
<circle cx="649.2" cy="114.3" r="1.7" fill="#141414"/>
<circle cx="653.6" cy="151.4" r="1.7" fill="#141414"/>
<circle cx="670.9" cy="116.2" r="1.7" fill="#141414"/>
<circle cx="670.3" cy="124.5" r="1.7" fill="#141414"/>
<circle cx="667.2" cy="113.4" r="1.7" fill="#141414"/>
<path d="M80.1,400.0 L80.1,363.1 L80.2,363.1 L80.8,363.1 L81.7,363.1 L82.3,362.3 L83.9,362.3 L84.5,365.3 L85.8,365.3 L86.3,368.2 L87.2,368.2 L87.8,378.4 L89.0,378.4 L89.6,384.2 L91.2,384.2 L91.8,385.0 L93.0,385.0 L93.6,381.3 L94.9,381.3 L95.5,378.4 L97.0,378.4 L97.6,379.1 L99.2,379.1 L99.8,376.2 L101.4,376.2 L102.0,379.9 L103.6,379.9 L104.2,372.6 L105.8,372.6 L106.4,365.3 L108.0,365.3 L108.6,362.3 L109.6,362.3 L110.2,347.0 L111.4,347.0 L112.0,347.0 L113.8,347.0 L114.4,347.7 L115.7,347.7 L116.2,356.5 L116.7,356.5 L116.7,400.0Z" fill="#042b90"/>
<path d="M80.1,363.1 L80.2,363.1 L80.8,363.1 L81.7,363.1 L82.3,362.3 L83.9,362.3 L84.5,365.3 L85.8,365.3 L86.3,368.2 L87.2,368.2 L87.8,378.4 L89.0,378.4 L89.6,384.2 L91.2,384.2 L91.8,385.0 L93.0,385.0 L93.6,381.3 L94.9,381.3 L95.5,378.4 L97.0,378.4 L97.6,379.1 L99.2,379.1 L99.8,376.2 L101.4,376.2 L102.0,379.9 L103.6,379.9 L104.2,372.6 L105.8,372.6 L106.4,365.3 L108.0,365.3 L108.6,362.3 L109.6,362.3 L110.2,347.0 L111.4,347.0 L112.0,347.0 L113.8,347.0 L114.4,347.7 L115.7,347.7 L116.2,356.5 L116.7,356.5" fill="none" stroke="#001a85" stroke-width="0.9" stroke-linejoin="round"/>
<g fill="#042b90" stroke="#001a85" stroke-width="0.45"><circle cx="82.4" cy="361.7" r="1.5"/><circle cx="84.8" cy="366.1" r="1.5"/><circle cx="86.4" cy="368.0" r="1.5"/><circle cx="87.5" cy="369.4" r="1.5"/><circle cx="88.4" cy="378.3" r="1.5"/><circle cx="89.9" cy="383.6" r="1.5"/><circle cx="91.2" cy="383.9" r="1.5"/><circle cx="92.2" cy="385.5" r="1.5"/><circle cx="95.6" cy="378.5" r="1.5"/><circle cx="97.1" cy="379.5" r="1.5"/><circle cx="99.5" cy="379.7" r="1.5"/><circle cx="100.6" cy="376.6" r="1.5"/><circle cx="101.5" cy="378.0" r="1.5"/><circle cx="102.8" cy="380.9" r="1.5"/><circle cx="107.7" cy="365.7" r="1.5"/><circle cx="110.0" cy="350.4" r="1.5"/><circle cx="112.7" cy="346.4" r="1.5"/><circle cx="113.5" cy="348.0" r="1.5"/></g>
<path d="M115.9,400.0 L115.9,359.4 L116.0,359.4 L116.6,359.4 L117.5,359.4 L118.1,347.7 L119.7,347.7 L120.3,349.2 L121.1,349.2 L121.7,341.2 L122.2,341.2 L122.8,341.2 L123.4,341.2 L124.0,355.0 L124.4,355.0 L125.0,368.2 L126.2,368.2 L126.8,371.1 L128.8,371.1 L129.4,370.4 L131.3,370.4 L131.9,369.6 L133.1,369.6 L133.8,375.5 L135.0,375.5 L135.6,376.2 L137.2,376.2 L137.8,374.0 L139.4,374.0 L140.0,365.3 L141.2,365.3 L141.8,358.0 L143.0,358.0 L143.6,355.0 L145.5,355.0 L146.1,356.5 L147.2,356.5 L147.2,400.0Z" fill="#3e3e3e"/>
<path d="M115.9,359.4 L116.0,359.4 L116.6,359.4 L117.5,359.4 L118.1,347.7 L119.7,347.7 L120.3,349.2 L121.1,349.2 L121.7,341.2 L122.2,341.2 L122.8,341.2 L123.4,341.2 L124.0,355.0 L124.4,355.0 L125.0,368.2 L126.2,368.2 L126.8,371.1 L128.8,371.1 L129.4,370.4 L131.3,370.4 L131.9,369.6 L133.1,369.6 L133.8,375.5 L135.0,375.5 L135.6,376.2 L137.2,376.2 L137.8,374.0 L139.4,374.0 L140.0,365.3 L141.2,365.3 L141.8,358.0 L143.0,358.0 L143.6,355.0 L145.5,355.0 L146.1,356.5 L147.2,356.5" fill="none" stroke="#1a1a1a" stroke-width="0.9" stroke-linejoin="round"/>
<g fill="#3e3e3e" stroke="#1a1a1a" stroke-width="0.45"><circle cx="118.5" cy="347.8" r="1.5"/><circle cx="119.7" cy="348.5" r="1.5"/><circle cx="124.5" cy="355.9" r="1.5"/><circle cx="126.8" cy="371.3" r="1.5"/><circle cx="127.7" cy="371.9" r="1.5"/><circle cx="129.3" cy="370.5" r="1.5"/><circle cx="130.1" cy="371.8" r="1.5"/><circle cx="131.3" cy="369.7" r="1.5"/><circle cx="132.8" cy="370.4" r="1.5"/><circle cx="136.4" cy="376.4" r="1.5"/><circle cx="141.3" cy="366.7" r="1.5"/><circle cx="143.3" cy="355.1" r="1.5"/><circle cx="144.9" cy="356.2" r="1.5"/></g>
<path d="M146.4,400.0 L146.4,356.5 L146.6,356.5 L147.2,356.5 L148.1,356.5 L148.7,349.2 L150.3,349.2 L150.9,345.5 L152.1,345.5 L152.8,344.8 L153.6,344.8 L154.2,353.6 L155.0,353.6 L155.7,363.8 L156.9,363.8 L157.5,369.6 L159.1,369.6 L159.7,374.0 L161.3,374.0 L161.9,378.4 L163.5,378.4 L164.1,377.7 L165.7,377.7 L166.3,374.0 L167.8,374.0 L168.4,369.6 L170.0,369.6 L170.6,365.3 L172.2,365.3 L172.8,359.4 L174.5,359.4 L175.1,356.5 L176.0,356.5 L176.0,400.0Z" fill="#042b90"/>
<path d="M146.4,356.5 L146.6,356.5 L147.2,356.5 L148.1,356.5 L148.7,349.2 L150.3,349.2 L150.9,345.5 L152.1,345.5 L152.8,344.8 L153.6,344.8 L154.2,353.6 L155.0,353.6 L155.7,363.8 L156.9,363.8 L157.5,369.6 L159.1,369.6 L159.7,374.0 L161.3,374.0 L161.9,378.4 L163.5,378.4 L164.1,377.7 L165.7,377.7 L166.3,374.0 L167.8,374.0 L168.4,369.6 L170.0,369.6 L170.6,365.3 L172.2,365.3 L172.8,359.4 L174.5,359.4 L175.1,356.5 L176.0,356.5" fill="none" stroke="#001a85" stroke-width="0.9" stroke-linejoin="round"/>
<g fill="#042b90" stroke="#001a85" stroke-width="0.45"><circle cx="149.8" cy="348.8" r="1.5"/><circle cx="152.3" cy="345.5" r="1.5"/><circle cx="153.5" cy="344.8" r="1.5"/><circle cx="155.9" cy="365.3" r="1.5"/><circle cx="157.4" cy="367.5" r="1.5"/><circle cx="158.3" cy="370.0" r="1.5"/><circle cx="160.9" cy="374.6" r="1.5"/><circle cx="162.2" cy="378.0" r="1.5"/><circle cx="164.1" cy="377.5" r="1.5"/><circle cx="168.0" cy="373.4" r="1.5"/><circle cx="170.4" cy="366.9" r="1.5"/><circle cx="173.1" cy="359.4" r="1.5"/><circle cx="174.1" cy="359.9" r="1.5"/></g>
<path d="M175.2,400.0 L175.2,358.0 L175.5,358.0 L176.2,358.0 L176.9,358.0 L177.5,371.3 L178.7,371.3 L179.3,364.0 L180.5,364.0 L181.2,361.1 L182.4,361.1 L183.0,361.8 L184.6,361.8 L185.2,358.2 L186.8,358.2 L187.4,368.4 L188.9,368.4 L189.5,375.7 L191.1,375.7 L191.7,377.2 L193.3,377.2 L193.9,372.8 L195.5,372.8 L196.1,364.0 L197.7,364.0 L198.3,371.3 L199.9,371.3 L200.5,371.3 L202.1,371.3 L202.7,359.6 L204.3,359.6 L204.9,352.3 L206.1,352.3 L206.7,347.2 L207.3,347.2 L208.0,346.0 L208.2,346.0 L208.2,400.0Z" fill="#3e3e3e"/>
<path d="M175.2,358.0 L175.5,358.0 L176.2,358.0 L176.9,358.0 L177.5,371.3 L178.7,371.3 L179.3,364.0 L180.5,364.0 L181.2,361.1 L182.4,361.1 L183.0,361.8 L184.6,361.8 L185.2,358.2 L186.8,358.2 L187.4,368.4 L188.9,368.4 L189.5,375.7 L191.1,375.7 L191.7,377.2 L193.3,377.2 L193.9,372.8 L195.5,372.8 L196.1,364.0 L197.7,364.0 L198.3,371.3 L199.9,371.3 L200.5,371.3 L202.1,371.3 L202.7,359.6 L204.3,359.6 L204.9,352.3 L206.1,352.3 L206.7,347.2 L207.3,347.2 L208.0,346.0 L208.2,346.0" fill="none" stroke="#1a1a1a" stroke-width="0.9" stroke-linejoin="round"/>
<g fill="#3e3e3e" stroke="#1a1a1a" stroke-width="0.45"><circle cx="176.5" cy="357.6" r="1.5"/><circle cx="182.3" cy="361.4" r="1.5"/><circle cx="185.0" cy="360.1" r="1.5"/><circle cx="185.9" cy="359.6" r="1.5"/><circle cx="187.1" cy="367.2" r="1.5"/><circle cx="188.4" cy="369.0" r="1.5"/><circle cx="193.1" cy="376.9" r="1.5"/><circle cx="198.0" cy="368.8" r="1.5"/><circle cx="199.0" cy="371.7" r="1.5"/><circle cx="201.4" cy="371.4" r="1.5"/><circle cx="205.0" cy="352.2" r="1.5"/><circle cx="206.4" cy="349.5" r="1.5"/></g>
<path d="M207.4,400.0 L207.4,346.0 L208.4,346.0 L209.0,348.0 L210.4,348.0 L211.1,353.8 L211.9,353.8 L212.6,360.4 L213.8,360.4 L214.4,361.1 L215.9,361.1 L216.5,368.4 L217.8,368.4 L218.4,374.2 L219.6,374.2 L220.2,371.3 L221.8,371.3 L222.4,368.4 L224.0,368.4 L224.6,366.9 L225.8,366.9 L226.4,346.5 L227.2,346.5 L227.9,342.1 L228.7,342.1 L229.3,340.7 L230.1,340.7 L230.8,342.1 L231.6,342.1 L232.2,350.9 L233.1,350.9 L233.7,352.3 L234.4,352.3 L235.1,353.0 L235.4,353.0 L235.4,400.0Z" fill="#042b90"/>
<path d="M207.4,346.0 L208.4,346.0 L209.0,348.0 L210.4,348.0 L211.1,353.8 L211.9,353.8 L212.6,360.4 L213.8,360.4 L214.4,361.1 L215.9,361.1 L216.5,368.4 L217.8,368.4 L218.4,374.2 L219.6,374.2 L220.2,371.3 L221.8,371.3 L222.4,368.4 L224.0,368.4 L224.6,366.9 L225.8,366.9 L226.4,346.5 L227.2,346.5 L227.9,342.1 L228.7,342.1 L229.3,340.7 L230.1,340.7 L230.8,342.1 L231.6,342.1 L232.2,350.9 L233.1,350.9 L233.7,352.3 L234.4,352.3 L235.1,353.0 L235.4,353.0" fill="none" stroke="#001a85" stroke-width="0.9" stroke-linejoin="round"/>
<g fill="#042b90" stroke="#001a85" stroke-width="0.45"><circle cx="208.4" cy="348.2" r="1.5"/><circle cx="211.3" cy="352.9" r="1.5"/><circle cx="212.5" cy="357.7" r="1.5"/><circle cx="214.4" cy="361.9" r="1.5"/><circle cx="215.6" cy="361.4" r="1.5"/><circle cx="216.9" cy="369.5" r="1.5"/><circle cx="219.5" cy="374.6" r="1.5"/><circle cx="220.7" cy="371.6" r="1.5"/><circle cx="224.2" cy="368.9" r="1.5"/><circle cx="225.2" cy="367.9" r="1.5"/><circle cx="233.7" cy="353.1" r="1.5"/></g>
<path d="M234.6,400.0 L234.6,353.8 L235.5,353.8 L236.1,353.8 L237.8,353.8 L238.4,365.5 L240.0,365.5 L240.6,377.2 L241.8,377.2 L242.5,371.3 L243.7,371.3 L244.3,353.8 L245.9,353.8 L246.5,356.7 L248.1,356.7 L248.7,368.4 L250.2,368.4 L250.9,377.2 L252.4,377.2 L253.0,378.6 L254.6,378.6 L255.2,377.2 L256.8,377.2 L257.4,375.7 L259.0,375.7 L259.6,371.3 L261.2,371.3 L261.8,368.4 L263.4,368.4 L264.0,364.0 L265.2,364.0 L265.8,365.5 L266.4,365.5 L267.1,362.0 L267.3,362.0 L267.3,400.0Z" fill="#3e3e3e"/>
<path d="M234.6,353.8 L235.5,353.8 L236.1,353.8 L237.8,353.8 L238.4,365.5 L240.0,365.5 L240.6,377.2 L241.8,377.2 L242.5,371.3 L243.7,371.3 L244.3,353.8 L245.9,353.8 L246.5,356.7 L248.1,356.7 L248.7,368.4 L250.2,368.4 L250.9,377.2 L252.4,377.2 L253.0,378.6 L254.6,378.6 L255.2,377.2 L256.8,377.2 L257.4,375.7 L259.0,375.7 L259.6,371.3 L261.2,371.3 L261.8,368.4 L263.4,368.4 L264.0,364.0 L265.2,364.0 L265.8,365.5 L266.4,365.5 L267.1,362.0 L267.3,362.0" fill="none" stroke="#1a1a1a" stroke-width="0.9" stroke-linejoin="round"/>
<g fill="#3e3e3e" stroke="#1a1a1a" stroke-width="0.45"><circle cx="235.8" cy="354.9" r="1.5"/><circle cx="239.4" cy="365.9" r="1.5"/><circle cx="241.9" cy="378.6" r="1.5"/><circle cx="243.1" cy="372.4" r="1.5"/><circle cx="244.2" cy="358.3" r="1.5"/><circle cx="245.4" cy="353.6" r="1.5"/><circle cx="248.8" cy="369.1" r="1.5"/><circle cx="250.3" cy="368.9" r="1.5"/><circle cx="253.7" cy="380.1" r="1.5"/><circle cx="255.1" cy="377.9" r="1.5"/><circle cx="257.7" cy="375.9" r="1.5"/><circle cx="258.5" cy="376.0" r="1.5"/><circle cx="259.8" cy="371.6" r="1.5"/><circle cx="262.1" cy="368.3" r="1.5"/><circle cx="265.6" cy="366.7" r="1.5"/></g>
<path d="M266.5,400.0 L266.5,371.2 L267.3,371.2 L267.9,368.2 L269.7,368.2 L270.3,365.2 L271.9,365.2 L272.5,366.7 L274.2,366.7 L274.8,368.2 L276.4,368.2 L277.1,360.6 L278.3,360.6 L278.9,356.1 L279.8,356.1 L280.4,356.1 L281.3,356.1 L281.9,365.2 L283.2,365.2 L283.8,369.7 L285.6,369.7 L286.2,371.2 L287.8,371.2 L288.4,366.7 L290.1,366.7 L290.7,362.1 L292.3,362.1 L292.9,362.1 L294.4,362.1 L295.1,365.2 L295.7,365.2 L295.7,400.0Z" fill="#042b90"/>
<path d="M266.5,371.2 L267.3,371.2 L267.9,368.2 L269.7,368.2 L270.3,365.2 L271.9,365.2 L272.5,366.7 L274.2,366.7 L274.8,368.2 L276.4,368.2 L277.1,360.6 L278.3,360.6 L278.9,356.1 L279.8,356.1 L280.4,356.1 L281.3,356.1 L281.9,365.2 L283.2,365.2 L283.8,369.7 L285.6,369.7 L286.2,371.2 L287.8,371.2 L288.4,366.7 L290.1,366.7 L290.7,362.1 L292.3,362.1 L292.9,362.1 L294.4,362.1 L295.1,365.2 L295.7,365.2" fill="none" stroke="#001a85" stroke-width="0.9" stroke-linejoin="round"/>
<g fill="#042b90" stroke="#001a85" stroke-width="0.45"><circle cx="267.5" cy="369.1" r="1.5"/><circle cx="272.5" cy="366.6" r="1.5"/><circle cx="275.0" cy="369.4" r="1.5"/><circle cx="277.2" cy="361.2" r="1.5"/><circle cx="278.7" cy="359.7" r="1.5"/><circle cx="280.8" cy="356.1" r="1.5"/><circle cx="281.9" cy="364.6" r="1.5"/><circle cx="284.3" cy="369.8" r="1.5"/><circle cx="285.7" cy="370.9" r="1.5"/><circle cx="288.4" cy="370.2" r="1.5"/><circle cx="289.5" cy="368.1" r="1.5"/><circle cx="291.9" cy="362.9" r="1.5"/><circle cx="292.6" cy="363.6" r="1.5"/></g>
<path d="M294.9,400.0 L294.9,363.6 L295.2,363.6 L295.8,363.6 L296.6,363.6 L297.2,360.6 L298.1,360.6 L298.7,357.6 L299.6,357.6 L300.2,353.8 L301.1,353.8 L301.7,357.6 L302.6,357.6 L303.2,356.1 L304.1,356.1 L304.7,354.5 L306.0,354.5 L306.6,357.6 L308.2,357.6 L308.8,356.1 L310.1,356.1 L310.8,363.6 L311.6,363.6 L312.2,374.2 L313.6,374.2 L314.2,377.3 L315.8,377.3 L316.4,378.8 L318.1,378.8 L318.7,377.3 L320.3,377.3 L320.9,376.5 L322.4,376.5 L323.0,375.8 L323.7,375.8 L324.3,330.0 L324.2,330.0 L324.9,316.0 L324.8,316.0 L325.4,313.0 L325.7,313.0 L326.3,313.0 L326.6,313.0 L327.2,318.0 L327.2,318.0 L327.8,360.6 L327.8,360.6 L327.8,400.0Z" fill="#3e3e3e"/>
<path d="M294.9,363.6 L295.2,363.6 L295.8,363.6 L296.6,363.6 L297.2,360.6 L298.1,360.6 L298.7,357.6 L299.6,357.6 L300.2,353.8 L301.1,353.8 L301.7,357.6 L302.6,357.6 L303.2,356.1 L304.1,356.1 L304.7,354.5 L306.0,354.5 L306.6,357.6 L308.2,357.6 L308.8,356.1 L310.1,356.1 L310.8,363.6 L311.6,363.6 L312.2,374.2 L313.6,374.2 L314.2,377.3 L315.8,377.3 L316.4,378.8 L318.1,378.8 L318.7,377.3 L320.3,377.3 L320.9,376.5 L322.4,376.5 L323.0,375.8 L323.7,375.8 L324.3,330.0 L324.2,330.0 L324.9,316.0 L324.8,316.0 L325.4,313.0 L325.7,313.0 L326.3,313.0 L326.6,313.0 L327.2,318.0 L327.2,318.0 L327.8,360.6 L327.8,360.6" fill="none" stroke="#1a1a1a" stroke-width="0.9" stroke-linejoin="round"/>
<g fill="#3e3e3e" stroke="#1a1a1a" stroke-width="0.45"><circle cx="295.9" cy="363.3" r="1.5"/><circle cx="297.5" cy="360.8" r="1.5"/><circle cx="298.7" cy="359.5" r="1.5"/><circle cx="299.9" cy="357.4" r="1.5"/><circle cx="307.0" cy="358.2" r="1.5"/><circle cx="309.5" cy="356.7" r="1.5"/><circle cx="310.3" cy="360.2" r="1.5"/><circle cx="311.4" cy="364.9" r="1.5"/><circle cx="312.9" cy="374.7" r="1.5"/><circle cx="314.3" cy="376.5" r="1.5"/><circle cx="316.5" cy="379.7" r="1.5"/><circle cx="318.9" cy="378.8" r="1.5"/><circle cx="320.2" cy="378.1" r="1.5"/><circle cx="321.4" cy="377.4" r="1.5"/><circle cx="324.0" cy="372.5" r="1.5"/><circle cx="325.1" cy="315.0" r="1.5"/></g>
<path d="M327.0,400.0 L327.0,363.6 L327.0,363.6 L327.6,363.6 L328.2,363.6 L328.8,362.9 L330.2,362.9 L330.8,363.6 L332.5,363.6 L333.1,365.2 L334.7,365.2 L335.3,368.2 L337.1,368.2 L337.7,368.9 L339.3,368.9 L339.9,371.2 L341.2,371.2 L341.9,380.3 L342.8,380.3 L343.4,368.2 L344.7,368.2 L345.3,359.1 L346.6,359.1 L347.2,353.0 L348.1,353.0 L348.7,342.4 L349.6,342.4 L350.2,340.9 L351.1,340.9 L351.7,342.4 L352.6,342.4 L353.2,360.6 L354.1,360.6 L354.7,362.1 L355.9,362.1 L356.5,362.1 L357.2,362.1 L357.2,400.0Z" fill="#042b90"/>
<path d="M327.0,363.6 L327.0,363.6 L327.6,363.6 L328.2,363.6 L328.8,362.9 L330.2,362.9 L330.8,363.6 L332.5,363.6 L333.1,365.2 L334.7,365.2 L335.3,368.2 L337.1,368.2 L337.7,368.9 L339.3,368.9 L339.9,371.2 L341.2,371.2 L341.9,380.3 L342.8,380.3 L343.4,368.2 L344.7,368.2 L345.3,359.1 L346.6,359.1 L347.2,353.0 L348.1,353.0 L348.7,342.4 L349.6,342.4 L350.2,340.9 L351.1,340.9 L351.7,342.4 L352.6,342.4 L353.2,360.6 L354.1,360.6 L354.7,362.1 L355.9,362.1 L356.5,362.1 L357.2,362.1" fill="none" stroke="#001a85" stroke-width="0.9" stroke-linejoin="round"/>
<g fill="#042b90" stroke="#001a85" stroke-width="0.45"><circle cx="329.6" cy="363.1" r="1.5"/><circle cx="330.6" cy="364.4" r="1.5"/><circle cx="331.8" cy="363.9" r="1.5"/><circle cx="333.2" cy="365.0" r="1.5"/><circle cx="335.4" cy="368.2" r="1.5"/><circle cx="336.9" cy="369.0" r="1.5"/><circle cx="338.9" cy="369.0" r="1.5"/><circle cx="340.3" cy="372.3" r="1.5"/><circle cx="341.5" cy="374.8" r="1.5"/><circle cx="342.3" cy="380.4" r="1.5"/><circle cx="343.6" cy="369.6" r="1.5"/><circle cx="354.7" cy="361.7" r="1.5"/></g>
<path d="M356.4,400.0 L356.4,362.1 L356.7,362.1 L357.3,360.0 L357.3,360.0 L357.9,313.0 L357.7,313.0 L358.3,311.5 L359.2,311.5 L359.8,311.5 L360.6,311.5 L361.2,313.0 L361.0,313.0 L361.6,360.0 L361.3,360.0 L361.9,360.6 L362.2,360.6 L362.9,366.7 L363.8,366.7 L364.4,375.8 L365.7,375.8 L366.3,377.3 L367.9,377.3 L368.6,375.8 L370.2,375.8 L370.8,377.3 L372.5,377.3 L373.1,378.8 L374.7,378.8 L375.3,381.8 L376.6,381.8 L377.2,378.8 L378.1,378.8 L378.8,357.6 L379.7,357.6 L380.3,356.8 L381.2,356.8 L381.9,363.6 L383.1,363.6 L383.7,366.7 L385.3,366.7 L385.9,368.2 L387.2,368.2 L387.9,366.7 L388.8,366.7 L389.4,371.2 L390.0,371.2 L390.0,400.0Z" fill="#3e3e3e"/>
<path d="M356.4,362.1 L356.7,362.1 L357.3,360.0 L357.3,360.0 L357.9,313.0 L357.7,313.0 L358.3,311.5 L359.2,311.5 L359.8,311.5 L360.6,311.5 L361.2,313.0 L361.0,313.0 L361.6,360.0 L361.3,360.0 L361.9,360.6 L362.2,360.6 L362.9,366.7 L363.8,366.7 L364.4,375.8 L365.7,375.8 L366.3,377.3 L367.9,377.3 L368.6,375.8 L370.2,375.8 L370.8,377.3 L372.5,377.3 L373.1,378.8 L374.7,378.8 L375.3,381.8 L376.6,381.8 L377.2,378.8 L378.1,378.8 L378.8,357.6 L379.7,357.6 L380.3,356.8 L381.2,356.8 L381.9,363.6 L383.1,363.6 L383.7,366.7 L385.3,366.7 L385.9,368.2 L387.2,368.2 L387.9,366.7 L388.8,366.7 L389.4,371.2 L390.0,371.2" fill="none" stroke="#1a1a1a" stroke-width="0.9" stroke-linejoin="round"/>
<g fill="#3e3e3e" stroke="#1a1a1a" stroke-width="0.45"><circle cx="357.8" cy="336.1" r="1.5"/><circle cx="358.5" cy="312.6" r="1.5"/><circle cx="362.6" cy="363.3" r="1.5"/><circle cx="363.5" cy="366.8" r="1.5"/><circle cx="364.7" cy="376.1" r="1.5"/><circle cx="368.4" cy="375.7" r="1.5"/><circle cx="369.8" cy="376.5" r="1.5"/><circle cx="371.7" cy="377.6" r="1.5"/><circle cx="373.5" cy="380.4" r="1.5"/><circle cx="374.3" cy="378.4" r="1.5"/><circle cx="376.6" cy="380.5" r="1.5"/><circle cx="378.1" cy="378.5" r="1.5"/><circle cx="380.6" cy="356.5" r="1.5"/><circle cx="381.7" cy="360.7" r="1.5"/><circle cx="383.7" cy="367.8" r="1.5"/><circle cx="388.9" cy="367.7" r="1.5"/></g>
<path d="M389.2,400.0 L389.2,369.7 L390.0,369.7 L390.6,368.2 L392.2,368.2 L392.8,362.1 L394.1,362.1 L394.7,361.4 L395.6,361.4 L396.2,366.7 L397.5,366.7 L398.1,369.7 L399.7,369.7 L400.3,372.7 L402.1,372.7 L402.7,375.8 L404.3,375.8 L404.9,374.2 L406.6,374.2 L407.2,373.5 L408.8,373.5 L409.4,371.2 L410.2,371.2 L410.8,366.7 L410.8,366.7 L410.8,400.0Z" fill="#042b90"/>
<path d="M389.2,369.7 L390.0,369.7 L390.6,368.2 L392.2,368.2 L392.8,362.1 L394.1,362.1 L394.7,361.4 L395.6,361.4 L396.2,366.7 L397.5,366.7 L398.1,369.7 L399.7,369.7 L400.3,372.7 L402.1,372.7 L402.7,375.8 L404.3,375.8 L404.9,374.2 L406.6,374.2 L407.2,373.5 L408.8,373.5 L409.4,371.2 L410.2,371.2 L410.8,366.7 L410.8,366.7" fill="none" stroke="#001a85" stroke-width="0.9" stroke-linejoin="round"/>
<g fill="#042b90" stroke="#001a85" stroke-width="0.45"><circle cx="390.7" cy="368.7" r="1.5"/><circle cx="393.7" cy="362.9" r="1.5"/><circle cx="396.3" cy="367.7" r="1.5"/><circle cx="397.8" cy="367.7" r="1.5"/><circle cx="398.7" cy="370.4" r="1.5"/><circle cx="400.1" cy="370.7" r="1.5"/><circle cx="402.5" cy="375.3" r="1.5"/><circle cx="403.5" cy="376.9" r="1.5"/><circle cx="407.1" cy="373.0" r="1.5"/></g>
<path d="M410.0,400.0 L410.0,366.7 L410.4,366.7 L411.0,366.7 L412.1,366.7 L412.7,363.6 L414.2,363.6 L414.8,360.6 L416.1,360.6 L416.7,357.6 L417.2,357.6 L417.8,336.4 L418.3,336.4 L418.9,335.6 L419.6,335.6 L420.2,336.4 L420.8,336.4 L421.4,357.6 L422.1,357.6 L422.8,365.2 L423.6,365.2 L424.2,374.2 L425.6,374.2 L426.2,378.8 L427.8,378.8 L428.4,384.8 L429.7,384.8 L430.3,375.8 L431.2,375.8 L431.9,363.6 L432.8,363.6 L433.4,360.6 L434.7,360.6 L435.3,363.6 L436.2,363.6 L436.2,400.0Z" fill="#3e3e3e"/>
<path d="M410.0,366.7 L410.4,366.7 L411.0,366.7 L412.1,366.7 L412.7,363.6 L414.2,363.6 L414.8,360.6 L416.1,360.6 L416.7,357.6 L417.2,357.6 L417.8,336.4 L418.3,336.4 L418.9,335.6 L419.6,335.6 L420.2,336.4 L420.8,336.4 L421.4,357.6 L422.1,357.6 L422.8,365.2 L423.6,365.2 L424.2,374.2 L425.6,374.2 L426.2,378.8 L427.8,378.8 L428.4,384.8 L429.7,384.8 L430.3,375.8 L431.2,375.8 L431.9,363.6 L432.8,363.6 L433.4,360.6 L434.7,360.6 L435.3,363.6 L436.2,363.6" fill="none" stroke="#1a1a1a" stroke-width="0.9" stroke-linejoin="round"/>
<g fill="#3e3e3e" stroke="#1a1a1a" stroke-width="0.45"><circle cx="412.5" cy="366.4" r="1.5"/><circle cx="416.0" cy="362.0" r="1.5"/><circle cx="417.3" cy="358.3" r="1.5"/><circle cx="420.5" cy="336.4" r="1.5"/><circle cx="422.1" cy="358.8" r="1.5"/><circle cx="424.6" cy="375.4" r="1.5"/><circle cx="426.7" cy="380.1" r="1.5"/><circle cx="431.4" cy="369.3" r="1.5"/><circle cx="434.2" cy="362.0" r="1.5"/></g>
<path d="M435.4,400.0 L435.4,369.7 L435.8,369.7 L436.4,369.7 L437.7,369.7 L438.3,371.2 L439.9,371.2 L440.6,374.2 L441.8,374.2 L442.4,366.7 L443.3,366.7 L443.9,365.2 L445.2,365.2 L445.8,366.7 L446.7,366.7 L447.3,369.7 L448.1,369.7 L448.7,368.9 L450.3,368.9 L450.9,368.2 L452.7,368.2 L453.3,359.1 L454.9,359.1 L455.6,357.6 L457.2,357.6 L457.8,357.6 L459.4,357.6 L460.1,359.1 L461.3,359.1 L461.9,363.6 L463.2,363.6 L463.8,363.6 L464.7,363.6 L464.7,400.0Z" fill="#042b90"/>
<path d="M435.4,369.7 L435.8,369.7 L436.4,369.7 L437.7,369.7 L438.3,371.2 L439.9,371.2 L440.6,374.2 L441.8,374.2 L442.4,366.7 L443.3,366.7 L443.9,365.2 L445.2,365.2 L445.8,366.7 L446.7,366.7 L447.3,369.7 L448.1,369.7 L448.7,368.9 L450.3,368.9 L450.9,368.2 L452.7,368.2 L453.3,359.1 L454.9,359.1 L455.6,357.6 L457.2,357.6 L457.8,357.6 L459.4,357.6 L460.1,359.1 L461.3,359.1 L461.9,363.6 L463.2,363.6 L463.8,363.6 L464.7,363.6" fill="none" stroke="#001a85" stroke-width="0.9" stroke-linejoin="round"/>
<g fill="#042b90" stroke="#001a85" stroke-width="0.45"><circle cx="436.7" cy="370.6" r="1.5"/><circle cx="437.6" cy="370.0" r="1.5"/><circle cx="441.2" cy="375.4" r="1.5"/><circle cx="443.8" cy="366.9" r="1.5"/><circle cx="446.2" cy="367.4" r="1.5"/><circle cx="447.2" cy="369.5" r="1.5"/><circle cx="449.8" cy="369.2" r="1.5"/><circle cx="450.8" cy="367.7" r="1.5"/><circle cx="453.2" cy="359.9" r="1.5"/><circle cx="455.9" cy="357.8" r="1.5"/><circle cx="456.7" cy="357.1" r="1.5"/><circle cx="460.6" cy="359.1" r="1.5"/><circle cx="463.3" cy="364.7" r="1.5"/></g>
<path d="M463.9,400.0 L463.9,357.6 L464.0,357.6 L464.6,357.6 L465.1,357.6 L465.8,345.5 L466.6,345.5 L467.2,342.4 L468.1,342.4 L468.8,345.5 L469.7,345.5 L470.3,348.5 L471.2,348.5 L471.9,350.0 L472.8,350.0 L473.4,351.5 L474.2,351.5 L474.9,360.6 L475.8,360.6 L476.4,375.8 L477.7,375.8 L478.3,378.8 L479.9,378.8 L480.6,380.3 L482.2,380.3 L482.8,381.8 L484.4,381.8 L485.1,383.3 L486.7,383.3 L487.3,377.3 L489.1,377.3 L489.7,374.2 L491.3,374.2 L491.9,372.7 L493.1,372.7 L493.8,340.9 L494.4,340.9 L495.1,340.9 L495.3,340.9 L495.3,400.0Z" fill="#3e3e3e"/>
<path d="M463.9,357.6 L464.0,357.6 L464.6,357.6 L465.1,357.6 L465.8,345.5 L466.6,345.5 L467.2,342.4 L468.1,342.4 L468.8,345.5 L469.7,345.5 L470.3,348.5 L471.2,348.5 L471.9,350.0 L472.8,350.0 L473.4,351.5 L474.2,351.5 L474.9,360.6 L475.8,360.6 L476.4,375.8 L477.7,375.8 L478.3,378.8 L479.9,378.8 L480.6,380.3 L482.2,380.3 L482.8,381.8 L484.4,381.8 L485.1,383.3 L486.7,383.3 L487.3,377.3 L489.1,377.3 L489.7,374.2 L491.3,374.2 L491.9,372.7 L493.1,372.7 L493.8,340.9 L494.4,340.9 L495.1,340.9 L495.3,340.9" fill="none" stroke="#1a1a1a" stroke-width="0.9" stroke-linejoin="round"/>
<g fill="#3e3e3e" stroke="#1a1a1a" stroke-width="0.45"><circle cx="467.2" cy="342.2" r="1.5"/><circle cx="468.5" cy="344.8" r="1.5"/><circle cx="470.1" cy="346.9" r="1.5"/><circle cx="473.6" cy="351.8" r="1.5"/><circle cx="475.0" cy="358.3" r="1.5"/><circle cx="476.0" cy="365.9" r="1.5"/><circle cx="478.3" cy="378.6" r="1.5"/><circle cx="481.6" cy="380.3" r="1.5"/><circle cx="483.3" cy="383.2" r="1.5"/><circle cx="485.7" cy="384.3" r="1.5"/><circle cx="488.9" cy="378.1" r="1.5"/><circle cx="492.8" cy="373.8" r="1.5"/><circle cx="493.8" cy="340.9" r="1.5"/></g>
<path d="M494.5,400.0 L494.5,350.0 L494.8,350.0 L495.4,368.2 L496.2,368.2 L496.9,366.7 L497.8,366.7 L498.4,357.6 L499.2,357.6 L499.9,340.9 L500.8,340.9 L501.4,340.2 L502.2,340.2 L502.9,350.0 L503.8,350.0 L504.4,356.1 L505.3,356.1 L505.9,357.6 L506.8,357.6 L507.4,354.5 L508.3,354.5 L508.9,348.5 L509.8,348.5 L510.4,350.0 L511.3,350.0 L511.9,366.7 L513.2,366.7 L513.8,371.2 L515.6,371.2 L516.1,372.7 L517.8,372.7 L518.4,371.2 L520.1,371.2 L520.6,369.7 L522.4,369.7 L522.9,371.2 L524.7,371.2 L525.2,369.7 L526.6,369.7 L527.1,345.5 L527.6,345.5 L527.6,400.0Z" fill="#042b90"/>
<path d="M494.5,350.0 L494.8,350.0 L495.4,368.2 L496.2,368.2 L496.9,366.7 L497.8,366.7 L498.4,357.6 L499.2,357.6 L499.9,340.9 L500.8,340.9 L501.4,340.2 L502.2,340.2 L502.9,350.0 L503.8,350.0 L504.4,356.1 L505.3,356.1 L505.9,357.6 L506.8,357.6 L507.4,354.5 L508.3,354.5 L508.9,348.5 L509.8,348.5 L510.4,350.0 L511.3,350.0 L511.9,366.7 L513.2,366.7 L513.8,371.2 L515.6,371.2 L516.1,372.7 L517.8,372.7 L518.4,371.2 L520.1,371.2 L520.6,369.7 L522.4,369.7 L522.9,371.2 L524.7,371.2 L525.2,369.7 L526.6,369.7 L527.1,345.5 L527.6,345.5" fill="none" stroke="#001a85" stroke-width="0.9" stroke-linejoin="round"/>
<g fill="#042b90" stroke="#001a85" stroke-width="0.45"><circle cx="495.7" cy="368.0" r="1.5"/><circle cx="496.7" cy="367.6" r="1.5"/><circle cx="498.2" cy="361.2" r="1.5"/><circle cx="499.6" cy="356.1" r="1.5"/><circle cx="504.1" cy="353.2" r="1.5"/><circle cx="508.8" cy="350.2" r="1.5"/><circle cx="510.2" cy="348.8" r="1.5"/><circle cx="511.0" cy="351.0" r="1.5"/><circle cx="512.3" cy="368.0" r="1.5"/><circle cx="513.6" cy="369.8" r="1.5"/><circle cx="515.1" cy="371.3" r="1.5"/><circle cx="516.1" cy="372.7" r="1.5"/><circle cx="518.8" cy="370.7" r="1.5"/><circle cx="522.1" cy="369.7" r="1.5"/><circle cx="523.1" cy="371.4" r="1.5"/></g>
<path d="M526.8,400.0 L526.8,350.0 L527.2,350.0 L527.8,353.0 L529.2,353.0 L529.8,357.6 L531.1,357.6 L531.6,345.0 L532.2,345.0 L532.8,350.0 L533.4,350.0 L534.0,359.1 L535.2,359.1 L535.8,357.6 L537.5,357.6 L538.1,356.8 L539.4,356.8 L540.0,360.6 L540.5,360.6 L541.1,366.7 L541.9,366.7 L542.5,363.6 L543.8,363.6 L544.3,351.5 L545.3,351.5 L545.9,351.5 L546.9,351.5 L547.4,354.5 L548.4,354.5 L548.9,366.7 L549.9,366.7 L550.4,366.7 L551.0,366.7 L551.6,369.7 L551.8,369.7 L551.8,400.0Z" fill="#3e3e3e"/>
<path d="M526.8,350.0 L527.2,350.0 L527.8,353.0 L529.2,353.0 L529.8,357.6 L531.1,357.6 L531.6,345.0 L532.2,345.0 L532.8,350.0 L533.4,350.0 L534.0,359.1 L535.2,359.1 L535.8,357.6 L537.5,357.6 L538.1,356.8 L539.4,356.8 L540.0,360.6 L540.5,360.6 L541.1,366.7 L541.9,366.7 L542.5,363.6 L543.8,363.6 L544.3,351.5 L545.3,351.5 L545.9,351.5 L546.9,351.5 L547.4,354.5 L548.4,354.5 L548.9,366.7 L549.9,366.7 L550.4,366.7 L551.0,366.7 L551.6,369.7 L551.8,369.7" fill="none" stroke="#1a1a1a" stroke-width="0.9" stroke-linejoin="round"/>
<g fill="#3e3e3e" stroke="#1a1a1a" stroke-width="0.45"><circle cx="529.1" cy="354.8" r="1.5"/><circle cx="530.5" cy="357.6" r="1.5"/><circle cx="533.0" cy="349.7" r="1.5"/><circle cx="533.7" cy="360.3" r="1.5"/><circle cx="535.0" cy="359.5" r="1.5"/><circle cx="537.6" cy="357.2" r="1.5"/><circle cx="539.0" cy="357.8" r="1.5"/><circle cx="539.7" cy="360.2" r="1.5"/><circle cx="542.3" cy="364.0" r="1.5"/><circle cx="547.0" cy="352.8" r="1.5"/><circle cx="549.7" cy="366.2" r="1.5"/></g>
<path d="M551.0,400.0 L551.0,369.7 L551.4,369.7 L552.0,369.7 L552.9,369.7 L553.4,366.7 L554.8,366.7 L555.3,366.7 L557.1,366.7 L557.6,367.4 L559.4,367.4 L559.9,368.9 L561.2,368.9 L561.8,371.2 L562.8,371.2 L563.3,374.2 L564.2,374.2 L564.8,371.2 L565.8,371.2 L566.3,347.0 L567.2,347.0 L567.8,343.9 L568.8,343.9 L569.3,345.5 L570.3,345.5 L570.9,348.5 L571.9,348.5 L572.4,351.5 L573.4,351.5 L573.9,352.3 L574.9,352.3 L575.4,353.0 L576.5,353.0 L577.1,365.2 L577.8,365.2 L577.8,400.0Z" fill="#042b90"/>
<path d="M551.0,369.7 L551.4,369.7 L552.0,369.7 L552.9,369.7 L553.4,366.7 L554.8,366.7 L555.3,366.7 L557.1,366.7 L557.6,367.4 L559.4,367.4 L559.9,368.9 L561.2,368.9 L561.8,371.2 L562.8,371.2 L563.3,374.2 L564.2,374.2 L564.8,371.2 L565.8,371.2 L566.3,347.0 L567.2,347.0 L567.8,343.9 L568.8,343.9 L569.3,345.5 L570.3,345.5 L570.9,348.5 L571.9,348.5 L572.4,351.5 L573.4,351.5 L573.9,352.3 L574.9,352.3 L575.4,353.0 L576.5,353.0 L577.1,365.2 L577.8,365.2" fill="none" stroke="#001a85" stroke-width="0.9" stroke-linejoin="round"/>
<g fill="#042b90" stroke="#001a85" stroke-width="0.45"><circle cx="553.6" cy="368.3" r="1.5"/><circle cx="554.3" cy="368.1" r="1.5"/><circle cx="556.0" cy="366.7" r="1.5"/><circle cx="557.2" cy="366.9" r="1.5"/><circle cx="558.1" cy="368.1" r="1.5"/><circle cx="559.4" cy="367.9" r="1.5"/><circle cx="560.4" cy="369.9" r="1.5"/><circle cx="564.3" cy="374.4" r="1.5"/><circle cx="566.8" cy="348.5" r="1.5"/><circle cx="567.8" cy="344.7" r="1.5"/><circle cx="568.7" cy="346.1" r="1.5"/><circle cx="570.0" cy="345.1" r="1.5"/><circle cx="571.6" cy="348.0" r="1.5"/><circle cx="572.7" cy="351.3" r="1.5"/><circle cx="573.9" cy="352.8" r="1.5"/><circle cx="575.1" cy="352.1" r="1.5"/></g>
<path d="M577.0,400.0 L577.0,363.6 L577.4,363.6 L578.0,345.5 L578.5,345.5 L579.1,336.4 L580.0,336.4 L580.5,336.4 L581.5,336.4 L582.0,345.5 L582.6,345.5 L583.1,357.6 L584.4,357.6 L584.9,365.2 L586.6,365.2 L587.2,369.7 L588.9,369.7 L589.4,369.7 L591.2,369.7 L591.8,369.7 L593.4,369.7 L594.0,366.7 L595.7,366.7 L596.2,366.7 L598.0,366.7 L598.5,363.6 L600.2,363.6 L600.8,362.1 L602.5,362.1 L603.1,363.6 L604.8,363.6 L605.3,363.6 L607.0,363.6 L607.6,360.1 L609.3,360.1 L609.9,366.7 L611.0,366.7 L611.6,365.2 L612.1,365.2 L612.7,360.6 L613.4,360.6 L614.0,363.6 L614.4,363.6 L614.4,400.0Z" fill="#3e3e3e"/>
<path d="M577.0,363.6 L577.4,363.6 L578.0,345.5 L578.5,345.5 L579.1,336.4 L580.0,336.4 L580.5,336.4 L581.5,336.4 L582.0,345.5 L582.6,345.5 L583.1,357.6 L584.4,357.6 L584.9,365.2 L586.6,365.2 L587.2,369.7 L588.9,369.7 L589.4,369.7 L591.2,369.7 L591.8,369.7 L593.4,369.7 L594.0,366.7 L595.7,366.7 L596.2,366.7 L598.0,366.7 L598.5,363.6 L600.2,363.6 L600.8,362.1 L602.5,362.1 L603.1,363.6 L604.8,363.6 L605.3,363.6 L607.0,363.6 L607.6,360.1 L609.3,360.1 L609.9,366.7 L611.0,366.7 L611.6,365.2 L612.1,365.2 L612.7,360.6 L613.4,360.6 L614.0,363.6 L614.4,363.6" fill="none" stroke="#1a1a1a" stroke-width="0.9" stroke-linejoin="round"/>
<g fill="#3e3e3e" stroke="#1a1a1a" stroke-width="0.45"><circle cx="579.2" cy="336.9" r="1.5"/><circle cx="580.5" cy="336.1" r="1.5"/><circle cx="581.6" cy="342.4" r="1.5"/><circle cx="584.2" cy="358.6" r="1.5"/><circle cx="585.6" cy="366.7" r="1.5"/><circle cx="586.6" cy="366.4" r="1.5"/><circle cx="587.7" cy="371.2" r="1.5"/><circle cx="590.0" cy="369.8" r="1.5"/><circle cx="591.7" cy="370.9" r="1.5"/><circle cx="596.2" cy="368.2" r="1.5"/><circle cx="598.6" cy="364.4" r="1.5"/><circle cx="599.8" cy="363.2" r="1.5"/><circle cx="601.0" cy="361.5" r="1.5"/><circle cx="602.5" cy="363.2" r="1.5"/><circle cx="609.5" cy="361.2" r="1.5"/><circle cx="611.8" cy="366.6" r="1.5"/></g>
<path d="M613.6,400.0 L613.6,363.5 L613.7,363.5 L614.3,363.5 L615.4,363.5 L616.0,365.2 L618.0,365.2 L618.5,366.9 L620.5,366.9 L621.1,368.6 L623.1,368.6 L623.7,370.3 L625.7,370.3 L626.2,370.3 L628.2,370.3 L628.8,370.3 L630.8,370.3 L631.4,368.6 L633.4,368.6 L633.9,365.2 L635.9,365.2 L636.5,365.2 L638.5,365.2 L639.0,365.2 L640.6,365.2 L641.2,361.8 L642.4,361.8 L642.9,355.0 L643.8,355.0 L644.4,332.7 L644.7,332.7 L645.2,320.8 L645.4,320.8 L646.0,317.4 L646.2,317.4 L646.2,400.0Z" fill="#042b90"/>
<path d="M613.6,363.5 L613.7,363.5 L614.3,363.5 L615.4,363.5 L616.0,365.2 L618.0,365.2 L618.5,366.9 L620.5,366.9 L621.1,368.6 L623.1,368.6 L623.7,370.3 L625.7,370.3 L626.2,370.3 L628.2,370.3 L628.8,370.3 L630.8,370.3 L631.4,368.6 L633.4,368.6 L633.9,365.2 L635.9,365.2 L636.5,365.2 L638.5,365.2 L639.0,365.2 L640.6,365.2 L641.2,361.8 L642.4,361.8 L642.9,355.0 L643.8,355.0 L644.4,332.7 L644.7,332.7 L645.2,320.8 L645.4,320.8 L646.0,317.4 L646.2,317.4" fill="none" stroke="#001a85" stroke-width="0.9" stroke-linejoin="round"/>
<g fill="#042b90" stroke="#001a85" stroke-width="0.45"><circle cx="614.8" cy="363.9" r="1.5"/><circle cx="617.1" cy="366.0" r="1.5"/><circle cx="618.5" cy="368.0" r="1.5"/><circle cx="619.5" cy="367.3" r="1.5"/><circle cx="620.6" cy="367.4" r="1.5"/><circle cx="621.9" cy="368.9" r="1.5"/><circle cx="623.0" cy="368.5" r="1.5"/><circle cx="624.6" cy="371.0" r="1.5"/><circle cx="625.7" cy="370.1" r="1.5"/><circle cx="628.0" cy="371.0" r="1.5"/><circle cx="629.1" cy="370.2" r="1.5"/><circle cx="630.4" cy="370.5" r="1.5"/><circle cx="631.3" cy="368.8" r="1.5"/><circle cx="634.0" cy="365.7" r="1.5"/><circle cx="635.5" cy="365.3" r="1.5"/><circle cx="637.3" cy="366.5" r="1.5"/><circle cx="638.5" cy="365.5" r="1.5"/><circle cx="640.1" cy="364.8" r="1.5"/><circle cx="641.5" cy="362.8" r="1.5"/><circle cx="642.3" cy="361.4" r="1.5"/></g>
<path d="M645.4,400.0 L645.4,340.0 L645.9,340.0 L646.4,355.0 L647.5,355.0 L648.0,355.0 L648.9,355.0 L649.5,358.4 L650.2,358.4 L650.8,368.6 L652.2,368.6 L652.8,363.5 L654.7,363.5 L655.3,361.8 L657.2,361.8 L657.8,358.4 L659.8,358.4 L660.4,363.5 L662.4,363.5 L663.0,375.5 L664.6,375.5 L665.1,358.4 L666.2,358.4 L666.8,344.7 L668.0,344.7 L668.5,341.3 L669.7,341.3 L670.2,337.9 L671.4,337.9 L671.9,341.3 L673.1,341.3 L673.6,351.5 L674.8,351.5 L675.3,361.8 L676.5,361.8 L677.0,375.5 L677.8,375.5 L678.3,397.7 L678.5,397.7 L679.1,399.0 L679.2,399.0 L679.2,400.0Z" fill="#3e3e3e"/>
<path d="M645.4,340.0 L645.9,340.0 L646.4,355.0 L647.5,355.0 L648.0,355.0 L648.9,355.0 L649.5,358.4 L650.2,358.4 L650.8,368.6 L652.2,368.6 L652.8,363.5 L654.7,363.5 L655.3,361.8 L657.2,361.8 L657.8,358.4 L659.8,358.4 L660.4,363.5 L662.4,363.5 L663.0,375.5 L664.6,375.5 L665.1,358.4 L666.2,358.4 L666.8,344.7 L668.0,344.7 L668.5,341.3 L669.7,341.3 L670.2,337.9 L671.4,337.9 L671.9,341.3 L673.1,341.3 L673.6,351.5 L674.8,351.5 L675.3,361.8 L676.5,361.8 L677.0,375.5 L677.8,375.5 L678.3,397.7 L678.5,397.7 L679.1,399.0 L679.2,399.0" fill="none" stroke="#1a1a1a" stroke-width="0.9" stroke-linejoin="round"/>
<g fill="#3e3e3e" stroke="#1a1a1a" stroke-width="0.45"><circle cx="649.1" cy="356.6" r="1.5"/><circle cx="651.6" cy="369.6" r="1.5"/><circle cx="654.0" cy="362.9" r="1.5"/><circle cx="656.2" cy="363.3" r="1.5"/><circle cx="657.4" cy="362.1" r="1.5"/><circle cx="661.0" cy="363.9" r="1.5"/><circle cx="663.3" cy="376.1" r="1.5"/><circle cx="664.5" cy="375.2" r="1.5"/><circle cx="667.0" cy="344.5" r="1.5"/><circle cx="668.0" cy="343.9" r="1.5"/><circle cx="669.2" cy="342.7" r="1.5"/><circle cx="670.8" cy="339.1" r="1.5"/><circle cx="673.0" cy="342.7" r="1.5"/><circle cx="673.9" cy="352.1" r="1.5"/><circle cx="675.7" cy="362.9" r="1.5"/><circle cx="676.9" cy="365.8" r="1.5"/><circle cx="677.9" cy="377.6" r="1.5"/></g>
<rect x="80.5" y="398.5" width="598.3" height="1.5" fill="#000" fill-opacity="0.55"/>
<circle cx="92.3" cy="361.2" r="1.7" fill="#001c8a"/>
<circle cx="91.1" cy="370.8" r="1.7" fill="#001c8a"/>
<circle cx="86.8" cy="366.0" r="1.7" fill="#001c8a"/>
<circle cx="145.2" cy="348.5" r="1.7" fill="#141414"/>
<circle cx="143.0" cy="351.4" r="1.7" fill="#141414"/>
<circle cx="118.9" cy="346.3" r="1.7" fill="#141414"/>
<circle cx="153.2" cy="340.4" r="1.7" fill="#001c8a"/>
<circle cx="159.8" cy="366.7" r="1.7" fill="#001c8a"/>
<circle cx="165.6" cy="371.1" r="1.7" fill="#001c8a"/>
<circle cx="164.1" cy="379.9" r="1.7" fill="#001c8a"/>
<circle cx="173.6" cy="352.8" r="1.7" fill="#001c8a"/>
<circle cx="181.6" cy="349.7" r="1.7" fill="#141414"/>
<circle cx="187.4" cy="353.8" r="1.7" fill="#141414"/>
<circle cx="185.0" cy="356.0" r="1.7" fill="#141414"/>
<circle cx="196.9" cy="360.4" r="1.7" fill="#141414"/>
<circle cx="208.9" cy="325.3" r="1.7" fill="#141414"/>
<circle cx="208.9" cy="327.5" r="1.7" fill="#141414"/>
<circle cx="208.9" cy="330.0" r="1.7" fill="#141414"/>
<circle cx="208.9" cy="332.5" r="1.7" fill="#141414"/>
<circle cx="208.9" cy="335.0" r="1.7" fill="#141414"/>
<circle cx="208.9" cy="337.5" r="1.7" fill="#141414"/>
<circle cx="208.9" cy="340.0" r="1.7" fill="#141414"/>
<circle cx="208.9" cy="343.0" r="1.7" fill="#141414"/>
<circle cx="208.9" cy="346.0" r="1.7" fill="#141414"/>
<circle cx="229.7" cy="319.9" r="1.7" fill="#001c8a"/>
<circle cx="229.7" cy="327.5" r="1.7" fill="#001c8a"/>
<circle cx="229.7" cy="331.9" r="1.7" fill="#001c8a"/>
<circle cx="229.7" cy="336.3" r="1.7" fill="#001c8a"/>
<circle cx="229.7" cy="338.5" r="1.7" fill="#001c8a"/>
<circle cx="234.1" cy="349.1" r="1.7" fill="#001c8a"/>
<circle cx="219.5" cy="352.3" r="1.7" fill="#001c8a"/>
<circle cx="219.5" cy="358.9" r="1.7" fill="#001c8a"/>
<circle cx="222.4" cy="368.4" r="1.7" fill="#001c8a"/>
<circle cx="237.8" cy="355.3" r="1.7" fill="#141414"/>
<circle cx="250.2" cy="356.7" r="1.7" fill="#141414"/>
<circle cx="266.2" cy="358.2" r="1.7" fill="#141414"/>
<circle cx="269.2" cy="335.9" r="1.7" fill="#001c8a"/>
<circle cx="269.2" cy="347.0" r="1.7" fill="#001c8a"/>
<circle cx="272.3" cy="354.2" r="1.7" fill="#001c8a"/>
<circle cx="271.5" cy="361.0" r="1.7" fill="#001c8a"/>
<circle cx="319.5" cy="371.5" r="1.7" fill="#141414"/>
<circle cx="300.6" cy="351.5" r="1.7" fill="#141414"/>
<circle cx="305.2" cy="352.5" r="1.7" fill="#141414"/>
<circle cx="309.7" cy="353.5" r="1.7" fill="#141414"/>
<circle cx="333.9" cy="361.4" r="1.7" fill="#001c8a"/>
<circle cx="346.8" cy="357.6" r="1.7" fill="#001c8a"/>
<circle cx="363.3" cy="343.9" r="1.7" fill="#141414"/>
<circle cx="364.1" cy="351.5" r="1.7" fill="#141414"/>
<circle cx="363.3" cy="356.8" r="1.7" fill="#141414"/>
<circle cx="370.2" cy="371.2" r="1.7" fill="#141414"/>
<circle cx="372.4" cy="369.7" r="1.7" fill="#141414"/>
<circle cx="380.0" cy="356.8" r="1.7" fill="#141414"/>
<circle cx="389.1" cy="366.7" r="1.7" fill="#141414"/>
<circle cx="411.5" cy="328.0" r="1.7" fill="#001c8a"/>
<circle cx="411.5" cy="331.0" r="1.7" fill="#001c8a"/>
<circle cx="411.5" cy="336.4" r="1.7" fill="#001c8a"/>
<circle cx="411.5" cy="343.9" r="1.7" fill="#001c8a"/>
<circle cx="411.5" cy="347.7" r="1.7" fill="#001c8a"/>
<circle cx="411.5" cy="351.5" r="1.7" fill="#001c8a"/>
<circle cx="411.5" cy="353.8" r="1.7" fill="#001c8a"/>
<circle cx="411.5" cy="357.6" r="1.7" fill="#001c8a"/>
<circle cx="411.5" cy="360.6" r="1.7" fill="#001c8a"/>
<circle cx="411.5" cy="365.2" r="1.7" fill="#001c8a"/>
<circle cx="433.5" cy="349.7" r="1.7" fill="#141414"/>
<circle cx="433.0" cy="362.1" r="1.7" fill="#141414"/>
<circle cx="444.4" cy="365.9" r="1.7" fill="#001c8a"/>
<circle cx="458.6" cy="356.0" r="1.7" fill="#001c8a"/>
<circle cx="462.0" cy="357.0" r="1.7" fill="#001c8a"/>
<circle cx="466.2" cy="335.6" r="1.7" fill="#141414"/>
<circle cx="467.0" cy="340.2" r="1.7" fill="#141414"/>
<circle cx="474.5" cy="320.5" r="1.7" fill="#141414"/>
<circle cx="474.5" cy="324.0" r="1.7" fill="#141414"/>
<circle cx="474.5" cy="327.7" r="1.7" fill="#141414"/>
<circle cx="474.5" cy="331.5" r="1.7" fill="#141414"/>
<circle cx="474.5" cy="335.2" r="1.7" fill="#141414"/>
<circle cx="474.5" cy="339.0" r="1.7" fill="#141414"/>
<circle cx="474.5" cy="343.5" r="1.7" fill="#141414"/>
<circle cx="474.5" cy="347.0" r="1.7" fill="#141414"/>
<circle cx="474.5" cy="353.0" r="1.7" fill="#141414"/>
<circle cx="474.5" cy="357.0" r="1.7" fill="#141414"/>
<circle cx="474.5" cy="362.1" r="1.7" fill="#141414"/>
<circle cx="479.1" cy="368.9" r="1.7" fill="#141414"/>
<circle cx="484.7" cy="376.5" r="1.7" fill="#141414"/>
<circle cx="492.0" cy="360.6" r="1.7" fill="#141414"/>
<circle cx="495.6" cy="341.0" r="1.7" fill="#141414"/>
<circle cx="495.6" cy="345.0" r="1.7" fill="#141414"/>
<circle cx="495.6" cy="350.0" r="1.7" fill="#141414"/>
<circle cx="495.6" cy="355.0" r="1.7" fill="#141414"/>
<circle cx="495.6" cy="360.0" r="1.7" fill="#141414"/>
<circle cx="495.6" cy="365.0" r="1.7" fill="#141414"/>
<circle cx="510.2" cy="343.6" r="1.7" fill="#001c8a"/>
<circle cx="527.6" cy="343.9" r="1.7" fill="#001c8a"/>
<circle cx="532.1" cy="341.0" r="1.7" fill="#141414"/>
<circle cx="546.4" cy="350.8" r="1.7" fill="#141414"/>
<circle cx="557.4" cy="350.8" r="1.7" fill="#001c8a"/>
<circle cx="554.4" cy="365.9" r="1.7" fill="#001c8a"/>
<circle cx="558.9" cy="363.6" r="1.7" fill="#001c8a"/>
<circle cx="569.5" cy="342.1" r="1.7" fill="#001c8a"/>
<circle cx="582.0" cy="342.4" r="1.7" fill="#141414"/>
<circle cx="602.4" cy="353.8" r="1.7" fill="#141414"/>
<circle cx="604.0" cy="355.0" r="1.7" fill="#141414"/>
<circle cx="608.5" cy="359.1" r="1.7" fill="#141414"/>
<circle cx="615.3" cy="352.4" r="1.7" fill="#141414"/>
<circle cx="606.5" cy="361.0" r="1.7" fill="#141414"/>
<circle cx="616.8" cy="365.2" r="1.7" fill="#001c8a"/>
<circle cx="623.8" cy="367.8" r="1.7" fill="#001c8a"/>
<circle cx="635.8" cy="363.5" r="1.7" fill="#001c8a"/>
<circle cx="646.2" cy="317.4" r="1.7" fill="#001c8a"/>
<circle cx="646.2" cy="321.0" r="1.7" fill="#001c8a"/>
<circle cx="646.2" cy="325.0" r="1.7" fill="#001c8a"/>
<circle cx="646.2" cy="329.0" r="1.7" fill="#001c8a"/>
<circle cx="646.2" cy="333.0" r="1.7" fill="#001c8a"/>
<circle cx="646.2" cy="337.0" r="1.7" fill="#001c8a"/>
<circle cx="646.2" cy="341.0" r="1.7" fill="#001c8a"/>
<circle cx="646.2" cy="345.0" r="1.7" fill="#001c8a"/>
<circle cx="646.2" cy="349.0" r="1.7" fill="#001c8a"/>
<circle cx="646.2" cy="353.0" r="1.7" fill="#001c8a"/>
<circle cx="644.6" cy="324.0" r="1.7" fill="#001c8a"/>
<circle cx="644.6" cy="328.0" r="1.7" fill="#001c8a"/>
<circle cx="644.6" cy="332.0" r="1.7" fill="#001c8a"/>
<circle cx="644.6" cy="336.0" r="1.7" fill="#001c8a"/>
<circle cx="644.6" cy="340.0" r="1.7" fill="#001c8a"/>
<circle cx="644.6" cy="344.0" r="1.7" fill="#001c8a"/>
<circle cx="644.6" cy="348.0" r="1.7" fill="#001c8a"/>
<circle cx="644.6" cy="352.0" r="1.7" fill="#001c8a"/>
<circle cx="647.6" cy="320.0" r="1.7" fill="#001c8a"/>
<circle cx="647.6" cy="324.0" r="1.7" fill="#001c8a"/>
<circle cx="647.6" cy="328.0" r="1.7" fill="#001c8a"/>
<circle cx="647.6" cy="332.0" r="1.7" fill="#001c8a"/>
<circle cx="647.6" cy="336.0" r="1.7" fill="#001c8a"/>
<circle cx="647.6" cy="340.0" r="1.7" fill="#001c8a"/>
<circle cx="647.6" cy="344.0" r="1.7" fill="#001c8a"/>
<circle cx="647.6" cy="348.0" r="1.7" fill="#001c8a"/>
<circle cx="649.4" cy="339.6" r="1.7" fill="#141414"/>
<circle cx="649.4" cy="349.0" r="1.7" fill="#141414"/>
<circle cx="658.0" cy="358.4" r="1.7" fill="#141414"/>
<circle cx="668.2" cy="312.2" r="1.7" fill="#141414"/>
<circle cx="670.0" cy="317.4" r="1.7" fill="#141414"/>
<circle cx="670.8" cy="325.9" r="1.7" fill="#141414"/>
<circle cx="669.5" cy="330.0" r="1.7" fill="#141414"/>
<path d="M80.1,613.6 L80.1,592.8 L80.0,592.8 L80.6,592.8 L80.8,592.8 L81.4,586.2 L82.4,586.2 L83.0,585.5 L84.6,585.5 L85.2,588.4 L86.8,588.4 L87.4,591.3 L89.0,591.3 L89.6,589.9 L91.2,589.9 L91.8,591.3 L93.4,591.3 L94.0,594.2 L95.6,594.2 L96.2,595.7 L97.8,595.7 L98.4,591.3 L100.0,591.3 L100.6,589.9 L102.2,589.9 L102.8,592.8 L104.3,592.8 L104.9,575.3 L106.5,575.3 L107.1,573.1 L108.7,573.1 L109.3,572.3 L110.9,572.3 L111.5,566.5 L113.1,566.5 L113.7,559.2 L115.3,559.2 L115.9,560.7 L116.7,560.7 L116.7,613.6Z" fill="#042b90"/>
<path d="M80.1,592.8 L80.0,592.8 L80.6,592.8 L80.8,592.8 L81.4,586.2 L82.4,586.2 L83.0,585.5 L84.6,585.5 L85.2,588.4 L86.8,588.4 L87.4,591.3 L89.0,591.3 L89.6,589.9 L91.2,589.9 L91.8,591.3 L93.4,591.3 L94.0,594.2 L95.6,594.2 L96.2,595.7 L97.8,595.7 L98.4,591.3 L100.0,591.3 L100.6,589.9 L102.2,589.9 L102.8,592.8 L104.3,592.8 L104.9,575.3 L106.5,575.3 L107.1,573.1 L108.7,573.1 L109.3,572.3 L110.9,572.3 L111.5,566.5 L113.1,566.5 L113.7,559.2 L115.3,559.2 L115.9,560.7 L116.7,560.7" fill="none" stroke="#001a85" stroke-width="0.9" stroke-linejoin="round"/>
<g fill="#042b90" stroke="#001a85" stroke-width="0.45"><circle cx="81.4" cy="587.5" r="1.5"/><circle cx="84.7" cy="587.2" r="1.5"/><circle cx="86.1" cy="589.1" r="1.5"/><circle cx="89.7" cy="590.7" r="1.5"/><circle cx="92.1" cy="592.5" r="1.5"/><circle cx="93.2" cy="592.9" r="1.5"/><circle cx="95.5" cy="595.8" r="1.5"/><circle cx="101.5" cy="589.9" r="1.5"/><circle cx="102.9" cy="592.6" r="1.5"/><circle cx="104.2" cy="593.5" r="1.5"/><circle cx="105.6" cy="576.1" r="1.5"/><circle cx="106.4" cy="576.4" r="1.5"/><circle cx="107.8" cy="572.5" r="1.5"/><circle cx="109.1" cy="573.5" r="1.5"/><circle cx="111.3" cy="569.1" r="1.5"/><circle cx="112.6" cy="567.1" r="1.5"/><circle cx="114.8" cy="558.9" r="1.5"/></g>
<path d="M115.9,613.6 L115.9,576.7 L116.0,576.7 L116.6,576.7 L117.5,576.7 L118.1,573.8 L119.7,573.8 L120.3,570.9 L121.5,570.9 L122.1,572.3 L123.0,572.3 L123.5,578.2 L124.8,578.2 L125.4,581.1 L127.0,581.1 L127.6,585.5 L129.2,585.5 L129.8,592.8 L131.3,592.8 L131.9,588.4 L133.5,588.4 L134.1,588.4 L135.7,588.4 L136.3,586.9 L137.9,586.9 L138.5,592.8 L140.1,592.8 L140.7,585.5 L141.9,585.5 L142.6,576.7 L143.8,576.7 L144.4,578.2 L145.9,578.2 L146.5,579.6 L147.2,579.6 L147.2,613.6Z" fill="#3e3e3e"/>
<path d="M115.9,576.7 L116.0,576.7 L116.6,576.7 L117.5,576.7 L118.1,573.8 L119.7,573.8 L120.3,570.9 L121.5,570.9 L122.1,572.3 L123.0,572.3 L123.5,578.2 L124.8,578.2 L125.4,581.1 L127.0,581.1 L127.6,585.5 L129.2,585.5 L129.8,592.8 L131.3,592.8 L131.9,588.4 L133.5,588.4 L134.1,588.4 L135.7,588.4 L136.3,586.9 L137.9,586.9 L138.5,592.8 L140.1,592.8 L140.7,585.5 L141.9,585.5 L142.6,576.7 L143.8,576.7 L144.4,578.2 L145.9,578.2 L146.5,579.6 L147.2,579.6" fill="none" stroke="#1a1a1a" stroke-width="0.9" stroke-linejoin="round"/>
<g fill="#3e3e3e" stroke="#1a1a1a" stroke-width="0.45"><circle cx="117.3" cy="576.3" r="1.5"/><circle cx="118.1" cy="574.3" r="1.5"/><circle cx="122.8" cy="574.9" r="1.5"/><circle cx="124.4" cy="578.4" r="1.5"/><circle cx="125.4" cy="580.7" r="1.5"/><circle cx="127.8" cy="585.9" r="1.5"/><circle cx="128.8" cy="586.9" r="1.5"/><circle cx="130.6" cy="593.2" r="1.5"/><circle cx="132.4" cy="589.8" r="1.5"/><circle cx="135.3" cy="589.6" r="1.5"/><circle cx="136.4" cy="588.4" r="1.5"/><circle cx="137.8" cy="586.8" r="1.5"/><circle cx="138.8" cy="592.7" r="1.5"/><circle cx="140.1" cy="593.3" r="1.5"/><circle cx="142.1" cy="580.6" r="1.5"/><circle cx="143.8" cy="576.7" r="1.5"/><circle cx="144.5" cy="578.8" r="1.5"/><circle cx="145.8" cy="577.7" r="1.5"/></g>
<path d="M146.4,613.6 L146.4,581.1 L146.6,581.1 L147.2,581.1 L147.8,581.1 L148.4,572.3 L149.2,572.3 L149.9,561.4 L151.1,561.4 L151.7,561.4 L152.9,561.4 L153.5,568.0 L154.3,568.0 L155.0,579.6 L156.2,579.6 L156.8,582.6 L158.4,582.6 L159.0,585.5 L160.6,585.5 L161.2,588.4 L162.7,588.4 L163.3,591.3 L164.9,591.3 L165.5,592.8 L167.1,592.8 L167.7,588.4 L169.3,588.4 L169.9,582.6 L171.5,582.6 L172.1,573.8 L174.1,573.8 L174.8,568.0 L176.0,568.0 L176.0,613.6Z" fill="#042b90"/>
<path d="M146.4,581.1 L146.6,581.1 L147.2,581.1 L147.8,581.1 L148.4,572.3 L149.2,572.3 L149.9,561.4 L151.1,561.4 L151.7,561.4 L152.9,561.4 L153.5,568.0 L154.3,568.0 L155.0,579.6 L156.2,579.6 L156.8,582.6 L158.4,582.6 L159.0,585.5 L160.6,585.5 L161.2,588.4 L162.7,588.4 L163.3,591.3 L164.9,591.3 L165.5,592.8 L167.1,592.8 L167.7,588.4 L169.3,588.4 L169.9,582.6 L171.5,582.6 L172.1,573.8 L174.1,573.8 L174.8,568.0 L176.0,568.0" fill="none" stroke="#001a85" stroke-width="0.9" stroke-linejoin="round"/>
<g fill="#042b90" stroke="#001a85" stroke-width="0.45"><circle cx="147.8" cy="581.3" r="1.5"/><circle cx="148.6" cy="572.3" r="1.5"/><circle cx="149.7" cy="562.3" r="1.5"/><circle cx="151.0" cy="562.4" r="1.5"/><circle cx="152.3" cy="562.6" r="1.5"/><circle cx="153.6" cy="569.2" r="1.5"/><circle cx="155.9" cy="580.6" r="1.5"/><circle cx="157.5" cy="582.5" r="1.5"/><circle cx="159.4" cy="585.9" r="1.5"/><circle cx="160.9" cy="586.7" r="1.5"/><circle cx="163.1" cy="590.8" r="1.5"/><circle cx="165.8" cy="592.5" r="1.5"/><circle cx="166.8" cy="592.8" r="1.5"/><circle cx="169.3" cy="589.0" r="1.5"/><circle cx="170.3" cy="582.2" r="1.5"/><circle cx="171.8" cy="581.2" r="1.5"/><circle cx="174.0" cy="574.0" r="1.5"/></g>
<path d="M175.2,613.6 L175.2,568.0 L175.8,568.0 L176.4,584.9 L177.6,584.9 L178.2,578.6 L179.4,578.6 L180.0,572.4 L180.9,572.4 L181.6,569.3 L182.9,569.3 L183.5,572.4 L185.2,572.4 L185.9,569.3 L187.5,569.3 L188.2,575.5 L189.9,575.5 L190.5,581.8 L192.2,581.8 L192.9,583.3 L194.6,583.3 L195.2,570.8 L196.9,570.8 L197.6,572.4 L199.2,572.4 L199.9,577.1 L201.6,577.1 L202.2,578.6 L203.9,578.6 L204.6,569.3 L205.9,569.3 L206.5,564.6 L207.3,564.6 L207.9,566.2 L208.2,566.2 L208.2,613.6Z" fill="#3e3e3e"/>
<path d="M175.2,568.0 L175.8,568.0 L176.4,584.9 L177.6,584.9 L178.2,578.6 L179.4,578.6 L180.0,572.4 L180.9,572.4 L181.6,569.3 L182.9,569.3 L183.5,572.4 L185.2,572.4 L185.9,569.3 L187.5,569.3 L188.2,575.5 L189.9,575.5 L190.5,581.8 L192.2,581.8 L192.9,583.3 L194.6,583.3 L195.2,570.8 L196.9,570.8 L197.6,572.4 L199.2,572.4 L199.9,577.1 L201.6,577.1 L202.2,578.6 L203.9,578.6 L204.6,569.3 L205.9,569.3 L206.5,564.6 L207.3,564.6 L207.9,566.2 L208.2,566.2" fill="none" stroke="#1a1a1a" stroke-width="0.9" stroke-linejoin="round"/>
<g fill="#3e3e3e" stroke="#1a1a1a" stroke-width="0.45"><circle cx="176.3" cy="584.4" r="1.5"/><circle cx="177.4" cy="584.6" r="1.5"/><circle cx="179.9" cy="573.8" r="1.5"/><circle cx="184.7" cy="571.9" r="1.5"/><circle cx="188.3" cy="576.3" r="1.5"/><circle cx="191.0" cy="582.0" r="1.5"/><circle cx="193.0" cy="584.7" r="1.5"/><circle cx="196.5" cy="570.6" r="1.5"/><circle cx="197.9" cy="572.6" r="1.5"/><circle cx="199.1" cy="573.2" r="1.5"/><circle cx="200.6" cy="577.8" r="1.5"/><circle cx="202.8" cy="579.5" r="1.5"/><circle cx="203.7" cy="579.1" r="1.5"/><circle cx="206.1" cy="566.7" r="1.5"/></g>
<path d="M207.4,613.6 L207.4,566.2 L207.4,566.2 L208.1,566.2 L208.8,566.2 L209.4,567.7 L210.9,567.7 L211.6,569.3 L213.3,569.3 L213.9,575.5 L215.6,575.5 L216.2,578.6 L218.0,578.6 L218.6,572.4 L220.3,572.4 L221.0,575.5 L222.6,575.5 L223.2,577.1 L225.0,577.1 L225.6,564.6 L226.9,564.6 L227.6,558.4 L228.5,558.4 L229.1,559.9 L230.1,559.9 L230.7,561.5 L231.6,561.5 L232.2,561.5 L233.8,561.5 L234.4,563.0 L235.4,563.0 L235.4,613.6Z" fill="#042b90"/>
<path d="M207.4,566.2 L207.4,566.2 L208.1,566.2 L208.8,566.2 L209.4,567.7 L210.9,567.7 L211.6,569.3 L213.3,569.3 L213.9,575.5 L215.6,575.5 L216.2,578.6 L218.0,578.6 L218.6,572.4 L220.3,572.4 L221.0,575.5 L222.6,575.5 L223.2,577.1 L225.0,577.1 L225.6,564.6 L226.9,564.6 L227.6,558.4 L228.5,558.4 L229.1,559.9 L230.1,559.9 L230.7,561.5 L231.6,561.5 L232.2,561.5 L233.8,561.5 L234.4,563.0 L235.4,563.0" fill="none" stroke="#001a85" stroke-width="0.9" stroke-linejoin="round"/>
<g fill="#042b90" stroke="#001a85" stroke-width="0.45"><circle cx="209.6" cy="567.3" r="1.5"/><circle cx="212.4" cy="570.3" r="1.5"/><circle cx="213.5" cy="570.6" r="1.5"/><circle cx="216.8" cy="580.1" r="1.5"/><circle cx="218.5" cy="577.5" r="1.5"/><circle cx="222.7" cy="577.4" r="1.5"/><circle cx="224.2" cy="578.5" r="1.5"/><circle cx="225.6" cy="568.3" r="1.5"/><circle cx="229.0" cy="561.2" r="1.5"/><circle cx="231.2" cy="561.0" r="1.5"/><circle cx="232.5" cy="561.3" r="1.5"/><circle cx="233.6" cy="562.6" r="1.5"/></g>
<path d="M234.6,613.6 L234.6,561.5 L234.9,561.5 L235.5,561.5 L236.3,561.5 L236.9,561.5 L237.9,561.5 L238.5,572.4 L239.8,572.4 L240.5,584.9 L242.1,584.9 L242.8,577.1 L244.5,577.1 L245.1,578.6 L246.8,578.6 L247.5,583.3 L249.2,583.3 L249.8,588.0 L251.5,588.0 L252.2,591.1 L253.8,591.1 L254.5,588.0 L256.2,588.0 L256.8,586.4 L258.6,586.4 L259.2,583.3 L260.9,583.3 L261.5,575.5 L263.2,575.5 L263.8,575.5 L265.7,575.5 L266.3,583.3 L267.3,583.3 L267.3,613.6Z" fill="#3e3e3e"/>
<path d="M234.6,561.5 L234.9,561.5 L235.5,561.5 L236.3,561.5 L236.9,561.5 L237.9,561.5 L238.5,572.4 L239.8,572.4 L240.5,584.9 L242.1,584.9 L242.8,577.1 L244.5,577.1 L245.1,578.6 L246.8,578.6 L247.5,583.3 L249.2,583.3 L249.8,588.0 L251.5,588.0 L252.2,591.1 L253.8,591.1 L254.5,588.0 L256.2,588.0 L256.8,586.4 L258.6,586.4 L259.2,583.3 L260.9,583.3 L261.5,575.5 L263.2,575.5 L263.8,575.5 L265.7,575.5 L266.3,583.3 L267.3,583.3" fill="none" stroke="#1a1a1a" stroke-width="0.9" stroke-linejoin="round"/>
<g fill="#3e3e3e" stroke="#1a1a1a" stroke-width="0.45"><circle cx="236.8" cy="562.0" r="1.5"/><circle cx="238.5" cy="567.1" r="1.5"/><circle cx="239.6" cy="572.1" r="1.5"/><circle cx="240.5" cy="586.1" r="1.5"/><circle cx="242.0" cy="584.7" r="1.5"/><circle cx="244.2" cy="578.2" r="1.5"/><circle cx="246.5" cy="578.8" r="1.5"/><circle cx="247.5" cy="583.3" r="1.5"/><circle cx="249.1" cy="583.7" r="1.5"/><circle cx="250.1" cy="588.4" r="1.5"/><circle cx="251.2" cy="587.6" r="1.5"/><circle cx="252.9" cy="592.2" r="1.5"/><circle cx="253.9" cy="592.7" r="1.5"/><circle cx="254.8" cy="588.5" r="1.5"/><circle cx="256.0" cy="588.6" r="1.5"/><circle cx="257.7" cy="587.2" r="1.5"/><circle cx="262.0" cy="575.2" r="1.5"/><circle cx="263.6" cy="576.7" r="1.5"/><circle cx="264.4" cy="576.3" r="1.5"/></g>
<path d="M266.5,613.6 L266.5,583.3 L267.0,583.3 L267.6,575.5 L269.0,575.5 L269.6,575.5 L271.3,575.5 L271.9,570.8 L273.7,570.8 L274.3,572.4 L276.0,572.4 L276.6,575.5 L277.9,575.5 L278.6,556.8 L279.5,556.8 L280.1,554.5 L281.1,554.5 L281.7,569.3 L282.6,569.3 L283.2,575.5 L284.6,575.5 L285.2,578.6 L286.9,578.6 L287.6,570.8 L289.2,570.8 L289.8,570.8 L291.6,570.8 L292.2,572.4 L294.1,572.4 L294.7,575.5 L295.7,575.5 L295.7,613.6Z" fill="#042b90"/>
<path d="M266.5,583.3 L267.0,583.3 L267.6,575.5 L269.0,575.5 L269.6,575.5 L271.3,575.5 L271.9,570.8 L273.7,570.8 L274.3,572.4 L276.0,572.4 L276.6,575.5 L277.9,575.5 L278.6,556.8 L279.5,556.8 L280.1,554.5 L281.1,554.5 L281.7,569.3 L282.6,569.3 L283.2,575.5 L284.6,575.5 L285.2,578.6 L286.9,578.6 L287.6,570.8 L289.2,570.8 L289.8,570.8 L291.6,570.8 L292.2,572.4 L294.1,572.4 L294.7,575.5 L295.7,575.5" fill="none" stroke="#001a85" stroke-width="0.9" stroke-linejoin="round"/>
<g fill="#042b90" stroke="#001a85" stroke-width="0.45"><circle cx="269.1" cy="576.7" r="1.5"/><circle cx="271.1" cy="576.7" r="1.5"/><circle cx="272.4" cy="571.4" r="1.5"/><circle cx="273.9" cy="570.9" r="1.5"/><circle cx="274.9" cy="573.2" r="1.5"/><circle cx="280.9" cy="554.2" r="1.5"/><circle cx="282.1" cy="568.9" r="1.5"/><circle cx="284.5" cy="577.0" r="1.5"/><circle cx="285.4" cy="579.0" r="1.5"/><circle cx="287.0" cy="578.0" r="1.5"/><circle cx="291.6" cy="571.9" r="1.5"/><circle cx="292.9" cy="572.5" r="1.5"/><circle cx="294.2" cy="573.6" r="1.5"/></g>
<path d="M294.9,613.6 L294.9,581.8 L294.8,581.8 L295.4,581.8 L296.3,581.8 L296.9,578.6 L298.7,578.6 L299.3,575.5 L300.9,575.5 L301.6,572.4 L302.9,572.4 L303.5,563.0 L304.5,563.0 L305.1,561.5 L306.1,561.5 L306.7,572.4 L307.6,572.4 L308.2,569.3 L309.1,569.3 L309.8,561.5 L310.7,561.5 L311.3,575.5 L312.7,575.5 L313.3,583.3 L315.0,583.3 L315.6,586.4 L317.3,586.4 L317.9,586.4 L319.7,586.4 L320.3,584.9 L322.1,584.9 L322.7,578.6 L323.6,578.6 L324.2,560.0 L324.2,560.0 L324.9,545.5 L325.4,545.5 L326.0,544.5 L326.6,544.5 L327.2,550.0 L327.2,550.0 L327.8,565.0 L327.8,565.0 L327.8,613.6Z" fill="#3e3e3e"/>
<path d="M294.9,581.8 L294.8,581.8 L295.4,581.8 L296.3,581.8 L296.9,578.6 L298.7,578.6 L299.3,575.5 L300.9,575.5 L301.6,572.4 L302.9,572.4 L303.5,563.0 L304.5,563.0 L305.1,561.5 L306.1,561.5 L306.7,572.4 L307.6,572.4 L308.2,569.3 L309.1,569.3 L309.8,561.5 L310.7,561.5 L311.3,575.5 L312.7,575.5 L313.3,583.3 L315.0,583.3 L315.6,586.4 L317.3,586.4 L317.9,586.4 L319.7,586.4 L320.3,584.9 L322.1,584.9 L322.7,578.6 L323.6,578.6 L324.2,560.0 L324.2,560.0 L324.9,545.5 L325.4,545.5 L326.0,544.5 L326.6,544.5 L327.2,550.0 L327.2,550.0 L327.8,565.0 L327.8,565.0" fill="none" stroke="#1a1a1a" stroke-width="0.9" stroke-linejoin="round"/>
<g fill="#3e3e3e" stroke="#1a1a1a" stroke-width="0.45"><circle cx="297.2" cy="579.0" r="1.5"/><circle cx="298.4" cy="578.4" r="1.5"/><circle cx="299.6" cy="575.9" r="1.5"/><circle cx="309.4" cy="568.1" r="1.5"/><circle cx="310.5" cy="563.0" r="1.5"/><circle cx="311.8" cy="575.6" r="1.5"/><circle cx="313.1" cy="578.2" r="1.5"/><circle cx="314.2" cy="583.7" r="1.5"/><circle cx="315.4" cy="585.1" r="1.5"/><circle cx="316.4" cy="587.0" r="1.5"/><circle cx="317.6" cy="586.1" r="1.5"/><circle cx="319.1" cy="587.0" r="1.5"/><circle cx="320.3" cy="585.4" r="1.5"/><circle cx="321.3" cy="584.9" r="1.5"/><circle cx="322.5" cy="580.1" r="1.5"/><circle cx="323.5" cy="576.0" r="1.5"/><circle cx="324.6" cy="545.8" r="1.5"/><circle cx="326.1" cy="545.8" r="1.5"/></g>
<path d="M327.0,613.6 L327.0,578.6 L327.0,578.6 L327.6,578.6 L328.0,578.6 L328.6,577.1 L329.8,577.1 L330.4,580.2 L332.2,580.2 L332.8,581.8 L334.5,581.8 L335.1,581.8 L336.8,581.8 L337.4,583.3 L339.2,583.3 L339.8,586.4 L341.6,586.4 L342.2,591.1 L343.8,591.1 L344.4,578.6 L346.2,578.6 L346.8,574.0 L348.6,574.0 L349.2,572.4 L350.9,572.4 L351.5,575.5 L353.2,575.5 L353.8,577.1 L355.6,577.1 L356.2,577.1 L357.2,577.1 L357.2,613.6Z" fill="#042b90"/>
<path d="M327.0,578.6 L327.0,578.6 L327.6,578.6 L328.0,578.6 L328.6,577.1 L329.8,577.1 L330.4,580.2 L332.2,580.2 L332.8,581.8 L334.5,581.8 L335.1,581.8 L336.8,581.8 L337.4,583.3 L339.2,583.3 L339.8,586.4 L341.6,586.4 L342.2,591.1 L343.8,591.1 L344.4,578.6 L346.2,578.6 L346.8,574.0 L348.6,574.0 L349.2,572.4 L350.9,572.4 L351.5,575.5 L353.2,575.5 L353.8,577.1 L355.6,577.1 L356.2,577.1 L357.2,577.1" fill="none" stroke="#001a85" stroke-width="0.9" stroke-linejoin="round"/>
<g fill="#042b90" stroke="#001a85" stroke-width="0.45"><circle cx="328.3" cy="579.2" r="1.5"/><circle cx="329.7" cy="578.1" r="1.5"/><circle cx="330.8" cy="580.5" r="1.5"/><circle cx="332.1" cy="580.8" r="1.5"/><circle cx="334.4" cy="581.3" r="1.5"/><circle cx="335.3" cy="581.2" r="1.5"/><circle cx="336.4" cy="581.9" r="1.5"/><circle cx="339.2" cy="584.1" r="1.5"/><circle cx="341.7" cy="587.7" r="1.5"/><circle cx="342.7" cy="591.3" r="1.5"/><circle cx="347.3" cy="575.0" r="1.5"/><circle cx="351.1" cy="572.5" r="1.5"/><circle cx="352.4" cy="575.1" r="1.5"/><circle cx="355.6" cy="577.5" r="1.5"/></g>
<path d="M356.4,613.6 L356.4,577.1 L356.7,577.1 L357.3,575.0 L357.3,575.0 L357.9,524.0 L357.8,524.0 L358.4,523.0 L359.2,523.0 L359.8,523.0 L360.6,523.0 L361.2,524.0 L361.0,524.0 L361.6,572.0 L361.4,572.0 L362.0,572.4 L362.5,572.4 L363.1,574.0 L364.1,574.0 L364.7,583.3 L365.6,583.3 L366.2,581.8 L367.6,581.8 L368.2,581.8 L369.9,581.8 L370.5,583.3 L371.8,583.3 L372.4,574.0 L373.4,574.0 L374.0,574.0 L375.0,574.0 L375.6,592.7 L376.9,592.7 L377.6,581.8 L379.2,581.8 L379.8,577.1 L381.6,577.1 L382.2,577.1 L383.9,577.1 L384.6,575.5 L386.3,575.5 L386.9,578.6 L388.6,578.6 L389.2,588.0 L390.0,588.0 L390.0,613.6Z" fill="#3e3e3e"/>
<path d="M356.4,577.1 L356.7,577.1 L357.3,575.0 L357.3,575.0 L357.9,524.0 L357.8,524.0 L358.4,523.0 L359.2,523.0 L359.8,523.0 L360.6,523.0 L361.2,524.0 L361.0,524.0 L361.6,572.0 L361.4,572.0 L362.0,572.4 L362.5,572.4 L363.1,574.0 L364.1,574.0 L364.7,583.3 L365.6,583.3 L366.2,581.8 L367.6,581.8 L368.2,581.8 L369.9,581.8 L370.5,583.3 L371.8,583.3 L372.4,574.0 L373.4,574.0 L374.0,574.0 L375.0,574.0 L375.6,592.7 L376.9,592.7 L377.6,581.8 L379.2,581.8 L379.8,577.1 L381.6,577.1 L382.2,577.1 L383.9,577.1 L384.6,575.5 L386.3,575.5 L386.9,578.6 L388.6,578.6 L389.2,588.0 L390.0,588.0" fill="none" stroke="#1a1a1a" stroke-width="0.9" stroke-linejoin="round"/>
<g fill="#3e3e3e" stroke="#1a1a1a" stroke-width="0.45"><circle cx="358.6" cy="522.4" r="1.5"/><circle cx="360.2" cy="522.8" r="1.5"/><circle cx="361.1" cy="540.9" r="1.5"/><circle cx="362.2" cy="573.7" r="1.5"/><circle cx="363.7" cy="575.2" r="1.5"/><circle cx="365.9" cy="582.0" r="1.5"/><circle cx="367.4" cy="583.0" r="1.5"/><circle cx="368.2" cy="583.0" r="1.5"/><circle cx="370.8" cy="583.0" r="1.5"/><circle cx="373.4" cy="574.7" r="1.5"/><circle cx="374.3" cy="573.9" r="1.5"/><circle cx="376.5" cy="592.5" r="1.5"/><circle cx="378.0" cy="582.5" r="1.5"/><circle cx="379.1" cy="581.2" r="1.5"/><circle cx="380.3" cy="576.5" r="1.5"/><circle cx="381.9" cy="576.6" r="1.5"/><circle cx="382.9" cy="577.1" r="1.5"/><circle cx="384.0" cy="576.9" r="1.5"/><circle cx="385.2" cy="577.0" r="1.5"/><circle cx="387.6" cy="579.7" r="1.5"/></g>
<path d="M389.2,613.6 L389.2,584.9 L389.4,584.9 L390.0,584.9 L390.6,584.9 L391.2,572.4 L392.1,572.4 L392.8,559.9 L393.7,559.9 L394.3,556.8 L395.2,556.8 L395.9,563.0 L396.8,563.0 L397.4,570.8 L398.7,570.8 L399.3,574.0 L401.1,574.0 L401.7,580.2 L403.1,580.2 L403.7,583.3 L405.0,583.3 L405.6,575.5 L407.3,575.5 L407.9,564.6 L409.5,564.6 L410.1,563.0 L410.8,563.0 L410.8,613.6Z" fill="#042b90"/>
<path d="M389.2,584.9 L389.4,584.9 L390.0,584.9 L390.6,584.9 L391.2,572.4 L392.1,572.4 L392.8,559.9 L393.7,559.9 L394.3,556.8 L395.2,556.8 L395.9,563.0 L396.8,563.0 L397.4,570.8 L398.7,570.8 L399.3,574.0 L401.1,574.0 L401.7,580.2 L403.1,580.2 L403.7,583.3 L405.0,583.3 L405.6,575.5 L407.3,575.5 L407.9,564.6 L409.5,564.6 L410.1,563.0 L410.8,563.0" fill="none" stroke="#001a85" stroke-width="0.9" stroke-linejoin="round"/>
<g fill="#042b90" stroke="#001a85" stroke-width="0.45"><circle cx="393.9" cy="559.5" r="1.5"/><circle cx="399.0" cy="572.1" r="1.5"/><circle cx="400.1" cy="574.2" r="1.5"/><circle cx="401.1" cy="574.6" r="1.5"/><circle cx="402.3" cy="581.8" r="1.5"/><circle cx="403.5" cy="583.0" r="1.5"/><circle cx="404.7" cy="583.0" r="1.5"/><circle cx="406.2" cy="575.9" r="1.5"/><circle cx="407.2" cy="575.6" r="1.5"/><circle cx="408.1" cy="564.7" r="1.5"/><circle cx="409.7" cy="564.9" r="1.5"/></g>
<path d="M410.0,613.6 L410.0,578.6 L410.3,578.6 L410.9,578.6 L412.1,578.6 L412.7,575.5 L414.3,575.5 L414.9,569.3 L416.3,569.3 L416.9,561.5 L417.5,561.5 L418.1,535.0 L418.6,535.0 L419.2,533.4 L419.9,533.4 L420.6,549.0 L421.2,549.0 L421.8,561.5 L422.6,561.5 L423.2,569.3 L424.1,569.3 L424.7,575.5 L425.7,575.5 L426.3,583.3 L427.2,583.3 L427.9,588.0 L428.8,588.0 L429.4,584.9 L430.3,584.9 L430.9,578.6 L431.9,578.6 L432.5,577.1 L434.3,577.1 L434.9,577.1 L436.2,577.1 L436.2,613.6Z" fill="#3e3e3e"/>
<path d="M410.0,578.6 L410.3,578.6 L410.9,578.6 L412.1,578.6 L412.7,575.5 L414.3,575.5 L414.9,569.3 L416.3,569.3 L416.9,561.5 L417.5,561.5 L418.1,535.0 L418.6,535.0 L419.2,533.4 L419.9,533.4 L420.6,549.0 L421.2,549.0 L421.8,561.5 L422.6,561.5 L423.2,569.3 L424.1,569.3 L424.7,575.5 L425.7,575.5 L426.3,583.3 L427.2,583.3 L427.9,588.0 L428.8,588.0 L429.4,584.9 L430.3,584.9 L430.9,578.6 L431.9,578.6 L432.5,577.1 L434.3,577.1 L434.9,577.1 L436.2,577.1" fill="none" stroke="#1a1a1a" stroke-width="0.9" stroke-linejoin="round"/>
<g fill="#3e3e3e" stroke="#1a1a1a" stroke-width="0.45"><circle cx="412.7" cy="577.5" r="1.5"/><circle cx="413.4" cy="576.2" r="1.5"/><circle cx="416.2" cy="569.6" r="1.5"/><circle cx="418.4" cy="536.4" r="1.5"/><circle cx="419.5" cy="532.9" r="1.5"/><circle cx="420.7" cy="549.9" r="1.5"/><circle cx="421.9" cy="561.3" r="1.5"/><circle cx="426.9" cy="584.8" r="1.5"/><circle cx="429.4" cy="587.3" r="1.5"/><circle cx="430.2" cy="584.2" r="1.5"/><circle cx="431.8" cy="579.4" r="1.5"/><circle cx="433.9" cy="578.1" r="1.5"/></g>
<path d="M435.4,613.6 L435.4,577.1 L435.4,577.1 L436.1,577.1 L437.0,577.1 L437.6,578.6 L439.3,578.6 L439.9,583.3 L441.7,583.3 L442.3,581.8 L443.8,581.8 L444.4,580.3 L446.0,580.3 L446.6,580.3 L448.6,580.3 L449.2,562.4 L450.7,562.4 L451.3,563.2 L452.3,563.2 L452.9,573.5 L454.1,573.5 L454.7,565.0 L456.2,565.0 L456.9,566.7 L458.8,566.7 L459.4,573.5 L461.3,573.5 L461.9,575.2 L463.5,575.2 L464.1,575.2 L464.7,575.2 L464.7,613.6Z" fill="#042b90"/>
<path d="M435.4,577.1 L435.4,577.1 L436.1,577.1 L437.0,577.1 L437.6,578.6 L439.3,578.6 L439.9,583.3 L441.7,583.3 L442.3,581.8 L443.8,581.8 L444.4,580.3 L446.0,580.3 L446.6,580.3 L448.6,580.3 L449.2,562.4 L450.7,562.4 L451.3,563.2 L452.3,563.2 L452.9,573.5 L454.1,573.5 L454.7,565.0 L456.2,565.0 L456.9,566.7 L458.8,566.7 L459.4,573.5 L461.3,573.5 L461.9,575.2 L463.5,575.2 L464.1,575.2 L464.7,575.2" fill="none" stroke="#001a85" stroke-width="0.9" stroke-linejoin="round"/>
<g fill="#042b90" stroke="#001a85" stroke-width="0.45"><circle cx="437.9" cy="578.7" r="1.5"/><circle cx="438.9" cy="578.1" r="1.5"/><circle cx="441.4" cy="584.0" r="1.5"/><circle cx="442.6" cy="581.2" r="1.5"/><circle cx="445.3" cy="579.8" r="1.5"/><circle cx="448.4" cy="578.6" r="1.5"/><circle cx="450.0" cy="562.0" r="1.5"/><circle cx="452.2" cy="563.9" r="1.5"/><circle cx="453.5" cy="574.2" r="1.5"/><circle cx="454.7" cy="566.4" r="1.5"/><circle cx="459.6" cy="575.1" r="1.5"/><circle cx="460.5" cy="574.1" r="1.5"/><circle cx="462.7" cy="575.6" r="1.5"/></g>
<path d="M463.9,613.6 L463.9,558.1 L464.0,558.1 L464.6,558.1 L465.2,558.1 L465.8,549.6 L466.9,549.6 L467.6,551.3 L468.7,551.3 L469.3,554.7 L470.3,554.7 L470.9,556.4 L472.1,556.4 L472.7,547.9 L473.7,547.9 L474.3,549.6 L475.1,549.6 L475.7,576.9 L476.3,576.9 L476.9,587.2 L478.4,587.2 L479.1,588.9 L481.0,588.9 L481.6,588.9 L483.6,588.9 L484.2,590.6 L486.1,590.6 L486.8,592.3 L488.7,592.3 L489.3,588.9 L491.3,588.9 L491.9,575.2 L493.4,575.2 L494.1,566.7 L494.6,566.7 L495.2,566.0 L495.3,566.0 L495.3,613.6Z" fill="#3e3e3e"/>
<path d="M463.9,558.1 L464.0,558.1 L464.6,558.1 L465.2,558.1 L465.8,549.6 L466.9,549.6 L467.6,551.3 L468.7,551.3 L469.3,554.7 L470.3,554.7 L470.9,556.4 L472.1,556.4 L472.7,547.9 L473.7,547.9 L474.3,549.6 L475.1,549.6 L475.7,576.9 L476.3,576.9 L476.9,587.2 L478.4,587.2 L479.1,588.9 L481.0,588.9 L481.6,588.9 L483.6,588.9 L484.2,590.6 L486.1,590.6 L486.8,592.3 L488.7,592.3 L489.3,588.9 L491.3,588.9 L491.9,575.2 L493.4,575.2 L494.1,566.7 L494.6,566.7 L495.2,566.0 L495.3,566.0" fill="none" stroke="#1a1a1a" stroke-width="0.9" stroke-linejoin="round"/>
<g fill="#3e3e3e" stroke="#1a1a1a" stroke-width="0.45"><circle cx="467.8" cy="551.1" r="1.5"/><circle cx="469.6" cy="554.4" r="1.5"/><circle cx="471.1" cy="557.0" r="1.5"/><circle cx="472.6" cy="553.1" r="1.5"/><circle cx="473.3" cy="548.9" r="1.5"/><circle cx="475.6" cy="578.0" r="1.5"/><circle cx="477.4" cy="587.7" r="1.5"/><circle cx="479.7" cy="589.3" r="1.5"/><circle cx="480.9" cy="588.5" r="1.5"/><circle cx="483.2" cy="589.2" r="1.5"/><circle cx="485.5" cy="590.9" r="1.5"/><circle cx="490.2" cy="588.9" r="1.5"/><circle cx="491.3" cy="584.2" r="1.5"/></g>
<path d="M494.5,613.6 L494.5,573.5 L494.6,573.5 L495.2,573.5 L495.9,573.5 L496.6,565.0 L498.1,565.0 L498.7,566.7 L500.7,566.7 L501.3,570.1 L503.2,570.1 L503.9,573.5 L505.8,573.5 L506.4,571.8 L508.4,571.8 L509.0,570.1 L510.9,570.1 L511.6,571.8 L513.5,571.8 L514.1,578.6 L516.1,578.6 L516.6,582.1 L518.6,582.1 L519.2,575.2 L521.2,575.2 L521.8,571.8 L523.8,571.8 L524.3,568.4 L525.9,568.4 L526.5,559.8 L527.1,559.8 L527.6,559.8 L527.6,559.8 L527.6,613.6Z" fill="#042b90"/>
<path d="M494.5,573.5 L494.6,573.5 L495.2,573.5 L495.9,573.5 L496.6,565.0 L498.1,565.0 L498.7,566.7 L500.7,566.7 L501.3,570.1 L503.2,570.1 L503.9,573.5 L505.8,573.5 L506.4,571.8 L508.4,571.8 L509.0,570.1 L510.9,570.1 L511.6,571.8 L513.5,571.8 L514.1,578.6 L516.1,578.6 L516.6,582.1 L518.6,582.1 L519.2,575.2 L521.2,575.2 L521.8,571.8 L523.8,571.8 L524.3,568.4 L525.9,568.4 L526.5,559.8 L527.1,559.8 L527.6,559.8 L527.6,559.8" fill="none" stroke="#001a85" stroke-width="0.9" stroke-linejoin="round"/>
<g fill="#042b90" stroke="#001a85" stroke-width="0.45"><circle cx="496.0" cy="573.4" r="1.5"/><circle cx="496.7" cy="566.3" r="1.5"/><circle cx="499.5" cy="567.9" r="1.5"/><circle cx="500.4" cy="567.2" r="1.5"/><circle cx="503.0" cy="570.8" r="1.5"/><circle cx="504.1" cy="574.8" r="1.5"/><circle cx="505.5" cy="573.7" r="1.5"/><circle cx="509.1" cy="572.0" r="1.5"/><circle cx="509.8" cy="569.7" r="1.5"/><circle cx="512.7" cy="571.5" r="1.5"/><circle cx="514.7" cy="579.5" r="1.5"/><circle cx="516.0" cy="580.3" r="1.5"/><circle cx="520.7" cy="576.3" r="1.5"/><circle cx="523.3" cy="571.7" r="1.5"/><circle cx="524.3" cy="567.8" r="1.5"/></g>
<path d="M526.8,613.6 L526.8,559.8 L527.9,559.8 L528.5,559.8 L530.6,559.8 L531.2,563.2 L532.8,563.2 L533.3,571.8 L534.2,571.8 L534.8,571.8 L535.6,571.8 L536.1,571.8 L537.2,571.8 L537.8,568.4 L539.0,568.4 L539.5,571.8 L541.1,571.8 L541.7,575.2 L543.2,575.2 L543.8,558.1 L545.0,558.1 L545.5,554.7 L546.7,554.7 L547.2,554.7 L548.4,554.7 L548.9,568.4 L550.4,568.4 L550.9,571.8 L551.8,571.8 L551.8,613.6Z" fill="#3e3e3e"/>
<path d="M526.8,559.8 L527.9,559.8 L528.5,559.8 L530.6,559.8 L531.2,563.2 L532.8,563.2 L533.3,571.8 L534.2,571.8 L534.8,571.8 L535.6,571.8 L536.1,571.8 L537.2,571.8 L537.8,568.4 L539.0,568.4 L539.5,571.8 L541.1,571.8 L541.7,575.2 L543.2,575.2 L543.8,558.1 L545.0,558.1 L545.5,554.7 L546.7,554.7 L547.2,554.7 L548.4,554.7 L548.9,568.4 L550.4,568.4 L550.9,571.8 L551.8,571.8" fill="none" stroke="#1a1a1a" stroke-width="0.9" stroke-linejoin="round"/>
<g fill="#3e3e3e" stroke="#1a1a1a" stroke-width="0.45"><circle cx="528.2" cy="559.5" r="1.5"/><circle cx="529.0" cy="560.1" r="1.5"/><circle cx="530.5" cy="559.5" r="1.5"/><circle cx="532.6" cy="564.1" r="1.5"/><circle cx="534.3" cy="572.0" r="1.5"/><circle cx="535.5" cy="573.1" r="1.5"/><circle cx="537.4" cy="569.8" r="1.5"/><circle cx="538.5" cy="568.9" r="1.5"/><circle cx="540.0" cy="572.0" r="1.5"/><circle cx="541.3" cy="573.2" r="1.5"/><circle cx="542.4" cy="576.1" r="1.5"/><circle cx="547.1" cy="555.0" r="1.5"/><circle cx="549.5" cy="568.7" r="1.5"/></g>
<path d="M551.0,613.6 L551.0,573.5 L551.2,573.5 L551.8,573.5 L553.1,573.5 L553.7,571.8 L555.2,571.8 L555.8,566.7 L557.0,566.7 L557.5,566.7 L558.7,566.7 L559.2,580.3 L560.4,580.3 L560.9,587.2 L562.5,587.2 L563.1,588.0 L564.7,588.0 L565.2,585.5 L566.4,585.5 L566.9,561.5 L568.1,561.5 L568.6,558.1 L569.8,558.1 L570.3,561.5 L571.5,561.5 L572.0,563.2 L573.2,563.2 L573.8,565.0 L574.9,565.0 L575.4,568.4 L576.6,568.4 L577.2,573.5 L577.8,573.5 L577.8,613.6Z" fill="#042b90"/>
<path d="M551.0,573.5 L551.2,573.5 L551.8,573.5 L553.1,573.5 L553.7,571.8 L555.2,571.8 L555.8,566.7 L557.0,566.7 L557.5,566.7 L558.7,566.7 L559.2,580.3 L560.4,580.3 L560.9,587.2 L562.5,587.2 L563.1,588.0 L564.7,588.0 L565.2,585.5 L566.4,585.5 L566.9,561.5 L568.1,561.5 L568.6,558.1 L569.8,558.1 L570.3,561.5 L571.5,561.5 L572.0,563.2 L573.2,563.2 L573.8,565.0 L574.9,565.0 L575.4,568.4 L576.6,568.4 L577.2,573.5 L577.8,573.5" fill="none" stroke="#001a85" stroke-width="0.9" stroke-linejoin="round"/>
<g fill="#042b90" stroke="#001a85" stroke-width="0.45"><circle cx="552.5" cy="572.9" r="1.5"/><circle cx="555.9" cy="567.4" r="1.5"/><circle cx="556.8" cy="566.4" r="1.5"/><circle cx="561.9" cy="587.3" r="1.5"/><circle cx="564.1" cy="589.5" r="1.5"/><circle cx="565.5" cy="586.8" r="1.5"/><circle cx="566.7" cy="577.1" r="1.5"/><circle cx="567.9" cy="562.5" r="1.5"/><circle cx="569.1" cy="558.4" r="1.5"/><circle cx="570.3" cy="561.5" r="1.5"/><circle cx="571.5" cy="562.1" r="1.5"/><circle cx="572.7" cy="563.2" r="1.5"/><circle cx="575.1" cy="566.4" r="1.5"/><circle cx="576.0" cy="568.1" r="1.5"/></g>
<path d="M577.0,613.6 L577.0,565.0 L577.1,565.0 L577.6,565.0 L577.8,565.0 L578.4,549.0 L579.4,549.0 L579.9,545.5 L581.4,545.5 L582.0,547.0 L582.5,547.0 L583.1,566.0 L583.1,566.0 L583.6,568.4 L584.2,568.4 L584.8,575.2 L586.0,575.2 L586.5,583.8 L587.7,583.8 L588.2,582.1 L589.8,582.1 L590.4,580.3 L592.4,580.3 L593.0,580.3 L595.0,580.3 L595.5,578.6 L597.5,578.6 L598.1,575.2 L600.1,575.2 L600.7,570.1 L602.7,570.1 L603.2,571.8 L605.2,571.8 L605.8,575.2 L607.5,575.2 L608.0,576.6 L610.0,576.6 L610.6,571.8 L612.9,571.8 L613.4,573.5 L614.4,573.5 L614.4,613.6Z" fill="#3e3e3e"/>
<path d="M577.0,565.0 L577.1,565.0 L577.6,565.0 L577.8,565.0 L578.4,549.0 L579.4,549.0 L579.9,545.5 L581.4,545.5 L582.0,547.0 L582.5,547.0 L583.1,566.0 L583.1,566.0 L583.6,568.4 L584.2,568.4 L584.8,575.2 L586.0,575.2 L586.5,583.8 L587.7,583.8 L588.2,582.1 L589.8,582.1 L590.4,580.3 L592.4,580.3 L593.0,580.3 L595.0,580.3 L595.5,578.6 L597.5,578.6 L598.1,575.2 L600.1,575.2 L600.7,570.1 L602.7,570.1 L603.2,571.8 L605.2,571.8 L605.8,575.2 L607.5,575.2 L608.0,576.6 L610.0,576.6 L610.6,571.8 L612.9,571.8 L613.4,573.5 L614.4,573.5" fill="none" stroke="#1a1a1a" stroke-width="0.9" stroke-linejoin="round"/>
<g fill="#3e3e3e" stroke="#1a1a1a" stroke-width="0.45"><circle cx="579.4" cy="549.3" r="1.5"/><circle cx="581.6" cy="547.7" r="1.5"/><circle cx="583.1" cy="564.1" r="1.5"/><circle cx="586.5" cy="585.0" r="1.5"/><circle cx="588.8" cy="582.1" r="1.5"/><circle cx="590.1" cy="582.1" r="1.5"/><circle cx="591.4" cy="579.9" r="1.5"/><circle cx="592.9" cy="581.2" r="1.5"/><circle cx="593.8" cy="581.5" r="1.5"/><circle cx="596.3" cy="578.8" r="1.5"/><circle cx="597.2" cy="578.8" r="1.5"/><circle cx="598.5" cy="574.6" r="1.5"/><circle cx="599.8" cy="574.7" r="1.5"/><circle cx="601.1" cy="570.1" r="1.5"/><circle cx="602.0" cy="571.3" r="1.5"/><circle cx="603.5" cy="573.1" r="1.5"/><circle cx="604.6" cy="572.9" r="1.5"/><circle cx="606.7" cy="575.6" r="1.5"/><circle cx="608.3" cy="576.6" r="1.5"/><circle cx="609.5" cy="577.8" r="1.5"/><circle cx="610.5" cy="572.5" r="1.5"/><circle cx="613.3" cy="573.2" r="1.5"/></g>
<path d="M613.6,613.6 L613.6,580.3 L613.7,580.3 L614.2,580.3 L614.9,580.3 L615.5,578.5 L617.2,578.5 L617.8,582.2 L620.0,582.2 L620.6,582.2 L622.8,582.2 L623.4,584.1 L625.6,584.1 L626.2,582.2 L628.4,582.2 L628.9,584.1 L631.1,584.1 L631.7,585.9 L633.9,585.9 L634.5,587.8 L636.2,587.8 L636.8,569.2 L638.1,569.2 L638.7,563.6 L640.0,563.6 L640.5,556.2 L641.8,556.2 L642.4,550.7 L643.7,550.7 L644.2,539.5 L645.2,539.5 L645.8,537.7 L646.2,537.7 L646.2,613.6Z" fill="#042b90"/>
<path d="M613.6,580.3 L613.7,580.3 L614.2,580.3 L614.9,580.3 L615.5,578.5 L617.2,578.5 L617.8,582.2 L620.0,582.2 L620.6,582.2 L622.8,582.2 L623.4,584.1 L625.6,584.1 L626.2,582.2 L628.4,582.2 L628.9,584.1 L631.1,584.1 L631.7,585.9 L633.9,585.9 L634.5,587.8 L636.2,587.8 L636.8,569.2 L638.1,569.2 L638.7,563.6 L640.0,563.6 L640.5,556.2 L641.8,556.2 L642.4,550.7 L643.7,550.7 L644.2,539.5 L645.2,539.5 L645.8,537.7 L646.2,537.7" fill="none" stroke="#001a85" stroke-width="0.9" stroke-linejoin="round"/>
<g fill="#042b90" stroke="#001a85" stroke-width="0.45"><circle cx="614.9" cy="580.4" r="1.5"/><circle cx="616.2" cy="578.7" r="1.5"/><circle cx="617.2" cy="579.9" r="1.5"/><circle cx="619.7" cy="582.6" r="1.5"/><circle cx="621.0" cy="582.5" r="1.5"/><circle cx="622.2" cy="582.6" r="1.5"/><circle cx="623.2" cy="584.7" r="1.5"/><circle cx="626.5" cy="583.1" r="1.5"/><circle cx="628.2" cy="583.3" r="1.5"/><circle cx="629.0" cy="583.7" r="1.5"/><circle cx="631.4" cy="586.7" r="1.5"/><circle cx="632.5" cy="586.8" r="1.5"/><circle cx="634.9" cy="588.7" r="1.5"/><circle cx="636.5" cy="584.7" r="1.5"/><circle cx="639.9" cy="563.5" r="1.5"/><circle cx="641.5" cy="556.2" r="1.5"/><circle cx="642.3" cy="550.7" r="1.5"/><circle cx="644.8" cy="539.8" r="1.5"/></g>
<path d="M645.4,613.6 L645.4,550.7 L645.8,550.7 L646.3,550.7 L647.4,550.7 L648.0,549.7 L649.0,549.7 L649.5,556.2 L650.4,556.2 L650.9,572.9 L652.2,572.9 L652.8,576.6 L654.5,576.6 L655.1,578.5 L657.1,578.5 L657.7,580.3 L659.9,580.3 L660.5,582.2 L662.2,582.2 L662.8,584.1 L664.0,584.1 L664.6,578.5 L666.0,578.5 L666.5,554.4 L667.8,554.4 L668.4,539.5 L669.7,539.5 L670.2,536.7 L671.5,536.7 L672.1,550.7 L673.4,550.7 L674.0,565.5 L675.2,565.5 L675.8,580.3 L677.0,580.3 L677.6,595.2 L678.5,595.2 L679.0,611.9 L679.2,611.9 L679.2,613.6Z" fill="#3e3e3e"/>
<path d="M645.4,550.7 L645.8,550.7 L646.3,550.7 L647.4,550.7 L648.0,549.7 L649.0,549.7 L649.5,556.2 L650.4,556.2 L650.9,572.9 L652.2,572.9 L652.8,576.6 L654.5,576.6 L655.1,578.5 L657.1,578.5 L657.7,580.3 L659.9,580.3 L660.5,582.2 L662.2,582.2 L662.8,584.1 L664.0,584.1 L664.6,578.5 L666.0,578.5 L666.5,554.4 L667.8,554.4 L668.4,539.5 L669.7,539.5 L670.2,536.7 L671.5,536.7 L672.1,550.7 L673.4,550.7 L674.0,565.5 L675.2,565.5 L675.8,580.3 L677.0,580.3 L677.6,595.2 L678.5,595.2 L679.0,611.9 L679.2,611.9" fill="none" stroke="#1a1a1a" stroke-width="0.9" stroke-linejoin="round"/>
<g fill="#3e3e3e" stroke="#1a1a1a" stroke-width="0.45"><circle cx="646.5" cy="552.0" r="1.5"/><circle cx="650.0" cy="555.7" r="1.5"/><circle cx="651.3" cy="573.3" r="1.5"/><circle cx="652.7" cy="575.6" r="1.5"/><circle cx="655.3" cy="578.8" r="1.5"/><circle cx="656.1" cy="579.1" r="1.5"/><circle cx="657.4" cy="579.5" r="1.5"/><circle cx="658.8" cy="580.3" r="1.5"/><circle cx="662.2" cy="583.7" r="1.5"/><circle cx="663.6" cy="583.6" r="1.5"/><circle cx="664.7" cy="578.5" r="1.5"/><circle cx="667.1" cy="554.2" r="1.5"/><circle cx="669.6" cy="540.0" r="1.5"/><circle cx="672.8" cy="551.9" r="1.5"/><circle cx="674.5" cy="565.4" r="1.5"/><circle cx="675.2" cy="571.6" r="1.5"/><circle cx="677.9" cy="595.2" r="1.5"/></g>
<rect x="80.5" y="612.1" width="598.3" height="1.5" fill="#000" fill-opacity="0.55"/>
<circle cx="86.0" cy="570.1" r="1.7" fill="#001c8a"/>
<circle cx="86.3" cy="576.0" r="1.7" fill="#001c8a"/>
<circle cx="83.5" cy="581.1" r="1.7" fill="#001c8a"/>
<circle cx="92.2" cy="560.7" r="1.7" fill="#001c8a"/>
<circle cx="114.8" cy="549.7" r="1.7" fill="#001c8a"/>
<circle cx="111.5" cy="563.0" r="1.7" fill="#001c8a"/>
<circle cx="94.1" cy="583.3" r="1.7" fill="#001c8a"/>
<circle cx="100.6" cy="586.2" r="1.7" fill="#001c8a"/>
<circle cx="118.1" cy="565.8" r="1.7" fill="#141414"/>
<circle cx="126.5" cy="571.3" r="1.7" fill="#141414"/>
<circle cx="130.6" cy="581.4" r="1.7" fill="#141414"/>
<circle cx="144.4" cy="576.4" r="1.7" fill="#141414"/>
<circle cx="151.0" cy="549.3" r="1.7" fill="#001c8a"/>
<circle cx="156.8" cy="566.8" r="1.7" fill="#001c8a"/>
<circle cx="165.6" cy="572.3" r="1.7" fill="#001c8a"/>
<circle cx="175.8" cy="567.2" r="1.7" fill="#001c8a"/>
<circle cx="181.6" cy="562.3" r="1.7" fill="#141414"/>
<circle cx="188.3" cy="565.4" r="1.7" fill="#141414"/>
<circle cx="197.6" cy="569.3" r="1.7" fill="#141414"/>
<circle cx="208.5" cy="553.7" r="1.7" fill="#141414"/>
<circle cx="208.5" cy="560.7" r="1.7" fill="#141414"/>
<circle cx="210.1" cy="528.7" r="1.7" fill="#001c8a"/>
<circle cx="210.1" cy="537.3" r="1.7" fill="#001c8a"/>
<circle cx="210.1" cy="539.5" r="1.7" fill="#001c8a"/>
<circle cx="210.1" cy="542.0" r="1.7" fill="#001c8a"/>
<circle cx="210.1" cy="545.1" r="1.7" fill="#001c8a"/>
<circle cx="210.1" cy="551.3" r="1.7" fill="#001c8a"/>
<circle cx="210.1" cy="554.0" r="1.7" fill="#001c8a"/>
<circle cx="228.4" cy="546.7" r="1.7" fill="#001c8a"/>
<circle cx="229.6" cy="551.3" r="1.7" fill="#001c8a"/>
<circle cx="220.2" cy="571.6" r="1.7" fill="#001c8a"/>
<circle cx="237.4" cy="559.9" r="1.7" fill="#141414"/>
<circle cx="250.7" cy="573.2" r="1.7" fill="#141414"/>
<circle cx="265.5" cy="565.4" r="1.7" fill="#141414"/>
<circle cx="269.4" cy="544.3" r="1.7" fill="#001c8a"/>
<circle cx="269.4" cy="551.3" r="1.7" fill="#001c8a"/>
<circle cx="295.4" cy="565.4" r="1.7" fill="#001c8a"/>
<circle cx="295.4" cy="569.0" r="1.7" fill="#001c8a"/>
<circle cx="266.0" cy="565.4" r="1.7" fill="#141414"/>
<circle cx="304.8" cy="554.5" r="1.7" fill="#141414"/>
<circle cx="304.8" cy="557.0" r="1.7" fill="#141414"/>
<circle cx="304.8" cy="560.7" r="1.7" fill="#141414"/>
<circle cx="309.5" cy="557.6" r="1.7" fill="#141414"/>
<circle cx="309.5" cy="562.3" r="1.7" fill="#141414"/>
<circle cx="326.6" cy="524.0" r="1.7" fill="#141414"/>
<circle cx="326.6" cy="526.9" r="1.7" fill="#141414"/>
<circle cx="326.6" cy="529.2" r="1.7" fill="#141414"/>
<circle cx="326.6" cy="535.4" r="1.7" fill="#141414"/>
<circle cx="326.6" cy="537.7" r="1.7" fill="#141414"/>
<circle cx="326.6" cy="542.2" r="1.7" fill="#141414"/>
<circle cx="336.0" cy="569.3" r="1.7" fill="#001c8a"/>
<circle cx="350.8" cy="566.2" r="1.7" fill="#001c8a"/>
<circle cx="350.8" cy="572.0" r="1.7" fill="#001c8a"/>
<circle cx="369.0" cy="573.2" r="1.7" fill="#141414"/>
<circle cx="369.0" cy="579.4" r="1.7" fill="#141414"/>
<circle cx="394.3" cy="553.4" r="1.7" fill="#001c8a"/>
<circle cx="408.0" cy="564.6" r="1.7" fill="#001c8a"/>
<circle cx="411.5" cy="539.6" r="1.7" fill="#001c8a"/>
<circle cx="411.5" cy="546.7" r="1.7" fill="#001c8a"/>
<circle cx="411.5" cy="550.6" r="1.7" fill="#001c8a"/>
<circle cx="411.5" cy="556.0" r="1.7" fill="#001c8a"/>
<circle cx="411.5" cy="559.9" r="1.7" fill="#001c8a"/>
<circle cx="411.5" cy="564.6" r="1.7" fill="#001c8a"/>
<circle cx="411.5" cy="569.3" r="1.7" fill="#001c8a"/>
<circle cx="411.5" cy="574.0" r="1.7" fill="#001c8a"/>
<circle cx="411.5" cy="578.6" r="1.7" fill="#001c8a"/>
<circle cx="432.5" cy="559.6" r="1.7" fill="#141414"/>
<circle cx="433.8" cy="571.6" r="1.7" fill="#141414"/>
<circle cx="462.1" cy="587.2" r="1.7" fill="#001c8a"/>
<circle cx="467.2" cy="528.2" r="1.7" fill="#141414"/>
<circle cx="467.2" cy="530.8" r="1.7" fill="#141414"/>
<circle cx="467.2" cy="533.3" r="1.7" fill="#141414"/>
<circle cx="467.2" cy="541.5" r="1.7" fill="#141414"/>
<circle cx="467.2" cy="548.7" r="1.7" fill="#141414"/>
<circle cx="492.0" cy="558.5" r="1.7" fill="#141414"/>
<circle cx="487.7" cy="583.4" r="1.7" fill="#141414"/>
<circle cx="474.9" cy="547.0" r="1.7" fill="#141414"/>
<circle cx="497.1" cy="564.1" r="1.7" fill="#001c8a"/>
<circle cx="501.4" cy="566.7" r="1.7" fill="#001c8a"/>
<circle cx="505.7" cy="567.5" r="1.7" fill="#001c8a"/>
<circle cx="510.0" cy="562.4" r="1.7" fill="#001c8a"/>
<circle cx="513.4" cy="570.9" r="1.7" fill="#001c8a"/>
<circle cx="522.8" cy="570.9" r="1.7" fill="#001c8a"/>
<circle cx="528.8" cy="559.5" r="1.7" fill="#001c8a"/>
<circle cx="556.9" cy="543.6" r="1.7" fill="#001c8a"/>
<circle cx="570.6" cy="549.9" r="1.7" fill="#001c8a"/>
<circle cx="564.9" cy="574.9" r="1.7" fill="#001c8a"/>
<circle cx="580.8" cy="545.3" r="1.7" fill="#141414"/>
<circle cx="580.8" cy="549.0" r="1.7" fill="#141414"/>
<circle cx="580.8" cy="553.0" r="1.7" fill="#141414"/>
<circle cx="589.7" cy="576.1" r="1.7" fill="#141414"/>
<circle cx="595.7" cy="576.1" r="1.7" fill="#141414"/>
<circle cx="602.5" cy="568.4" r="1.7" fill="#141414"/>
<circle cx="608.5" cy="567.5" r="1.7" fill="#141414"/>
<circle cx="614.5" cy="566.4" r="1.7" fill="#141414"/>
<circle cx="608.7" cy="566.4" r="1.7" fill="#141414"/>
<circle cx="623.6" cy="574.8" r="1.7" fill="#001c8a"/>
<circle cx="628.2" cy="573.9" r="1.7" fill="#001c8a"/>
<circle cx="642.1" cy="555.3" r="1.7" fill="#001c8a"/>
<circle cx="645.8" cy="541.4" r="1.7" fill="#001c8a"/>
<circle cx="646.2" cy="525.6" r="1.7" fill="#001c8a"/>
<circle cx="646.0" cy="545.0" r="1.7" fill="#001c8a"/>
<circle cx="649.2" cy="536.2" r="1.7" fill="#141414"/>
<circle cx="653.6" cy="565.5" r="1.7" fill="#141414"/>
<circle cx="670.3" cy="527.5" r="1.7" fill="#141414"/>
<circle cx="670.6" cy="531.0" r="1.7" fill="#141414"/>
<rect x="327.5" y="20.3" width="5.4" height="590.2" fill="rgb(240,144,250)" fill-opacity="0.26"/>
<rect x="356.6" y="19.2" width="7.2" height="591.3" fill="rgb(240,144,250)" fill-opacity="0.26"/>
<rect x="662.9" y="14.5" width="7.0" height="596.0" fill="rgb(240,144,250)" fill-opacity="0.26"/>
<circle cx="210.5" cy="106.2" r="1.9" fill="#22d322"/>
<circle cx="326.2" cy="84.5" r="1.8" fill="#22d322"/>
<circle cx="326.2" cy="89.9" r="1.8" fill="#22d322"/>
<circle cx="326.2" cy="91.8" r="1.8" fill="#22d322"/>
<circle cx="326.2" cy="94.3" r="1.8" fill="#22d322"/>
<circle cx="326.2" cy="95.9" r="1.8" fill="#22d322"/>
<circle cx="326.2" cy="103.6" r="1.8" fill="#22d322"/>
<circle cx="326.2" cy="108.2" r="1.8" fill="#22d322"/>
<circle cx="359.2" cy="85.3" r="1.8" fill="#22d322"/>
<circle cx="359.2" cy="97.6" r="1.8" fill="#22d322"/>
<circle cx="359.2" cy="100.8" r="1.8" fill="#22d322"/>
<circle cx="359.2" cy="103.3" r="1.8" fill="#22d322"/>
<circle cx="359.2" cy="105.7" r="1.8" fill="#22d322"/>
<circle cx="359.2" cy="108.2" r="1.8" fill="#22d322"/>
<circle cx="467.0" cy="103.0" r="1.9" fill="#22d322"/>
<circle cx="468.2" cy="104.5" r="1.9" fill="#22d322"/>
<circle cx="467.0" cy="106.0" r="1.9" fill="#22d322"/>
<circle cx="468.2" cy="107.5" r="1.9" fill="#22d322"/>
<circle cx="467.0" cy="108.8" r="1.9" fill="#22d322"/>
<circle cx="646.9" cy="89.2" r="1.9" fill="#22d322"/>
<circle cx="646.9" cy="96.1" r="1.9" fill="#22d322"/>
<circle cx="667.4" cy="36.8" r="1.7" fill="#22d322"/>
<circle cx="667.4" cy="57.8" r="1.7" fill="#22d322"/>
<circle cx="667.4" cy="65.8" r="1.7" fill="#22d322"/>
<circle cx="667.4" cy="70.0" r="1.7" fill="#22d322"/>
<circle cx="666.6" cy="71.0" r="1.75" fill="#22d322"/>
<circle cx="667.2" cy="72.5" r="1.75" fill="#22d322"/>
<circle cx="666.6" cy="73.9" r="1.75" fill="#22d322"/>
<circle cx="667.2" cy="75.3" r="1.75" fill="#22d322"/>
<circle cx="666.6" cy="76.8" r="1.75" fill="#22d322"/>
<circle cx="667.2" cy="78.2" r="1.75" fill="#22d322"/>
<circle cx="666.6" cy="79.7" r="1.75" fill="#22d322"/>
<circle cx="667.2" cy="81.2" r="1.75" fill="#22d322"/>
<circle cx="666.6" cy="82.6" r="1.75" fill="#22d322"/>
<circle cx="667.2" cy="84.0" r="1.75" fill="#22d322"/>
<circle cx="666.6" cy="85.5" r="1.75" fill="#22d322"/>
<circle cx="667.2" cy="87.0" r="1.75" fill="#22d322"/>
<circle cx="666.6" cy="88.4" r="1.75" fill="#22d322"/>
<circle cx="667.2" cy="89.8" r="1.75" fill="#22d322"/>
<circle cx="666.6" cy="91.3" r="1.75" fill="#22d322"/>
<circle cx="667.2" cy="92.8" r="1.75" fill="#22d322"/>
<circle cx="666.6" cy="94.2" r="1.75" fill="#22d322"/>
<circle cx="667.2" cy="95.7" r="1.75" fill="#22d322"/>
<circle cx="666.6" cy="97.1" r="1.75" fill="#22d322"/>
<circle cx="667.2" cy="98.5" r="1.75" fill="#22d322"/>
<circle cx="666.6" cy="100.0" r="1.75" fill="#22d322"/>
<circle cx="667.2" cy="101.5" r="1.75" fill="#22d322"/>
<circle cx="666.6" cy="102.9" r="1.75" fill="#22d322"/>
<circle cx="667.2" cy="104.3" r="1.75" fill="#22d322"/>
<circle cx="670.3" cy="103.4" r="1.8" fill="#22d322"/>
<circle cx="670.8" cy="108.5" r="1.8" fill="#22d322"/>
<rect x="65" y="108.05" width="620" height="1.3" fill="#1a1aff"/>
<rect x="63.8" y="12.4" width="1.6" height="186.7" fill="#000"/>
<rect x="51.8" y="197.70" width="12.5" height="1.4" fill="#000"/>
<text x="47.2" y="203.6" font-size="23" text-anchor="end" fill="#000" stroke="#000" stroke-width="0.2">0</text>
<rect x="51.8" y="160.64" width="12.5" height="1.4" fill="#000"/>
<text x="47.2" y="168.2" font-size="23" text-anchor="end" fill="#000" stroke="#000" stroke-width="0.2">2</text>
<rect x="51.8" y="123.58" width="12.5" height="1.4" fill="#000"/>
<text x="47.2" y="131.6" font-size="23" text-anchor="end" fill="#000" stroke="#000" stroke-width="0.2">4</text>
<rect x="51.8" y="86.52" width="12.5" height="1.4" fill="#000"/>
<text x="47.2" y="95.9" font-size="23" text-anchor="end" fill="#000" stroke="#000" stroke-width="0.2">6</text>
<rect x="51.8" y="49.46" width="12.5" height="1.4" fill="#000"/>
<text x="47.2" y="59.9" font-size="23" text-anchor="end" fill="#000" stroke="#000" stroke-width="0.2">8</text>
<rect x="51.8" y="12.40" width="12.5" height="1.4" fill="#000"/>
<text x="47.2" y="26.2" font-size="23" text-anchor="end" fill="#000" stroke="#000" stroke-width="0.2">10</text>
<rect x="99.00" y="199.0" width="1.6" height="10.6" fill="#111"/>
<rect x="132.50" y="199.0" width="1.6" height="10.6" fill="#111"/>
<rect x="162.00" y="199.0" width="1.6" height="10.6" fill="#111"/>
<rect x="192.40" y="199.0" width="1.6" height="10.6" fill="#111"/>
<rect x="222.30" y="199.0" width="1.6" height="10.6" fill="#111"/>
<rect x="251.40" y="199.0" width="1.6" height="10.6" fill="#111"/>
<rect x="281.70" y="199.0" width="1.6" height="10.6" fill="#111"/>
<rect x="311.30" y="199.0" width="1.6" height="10.6" fill="#111"/>
<rect x="341.40" y="199.0" width="1.6" height="10.6" fill="#111"/>
<rect x="373.20" y="199.0" width="1.6" height="10.6" fill="#111"/>
<rect x="400.40" y="199.0" width="1.6" height="10.6" fill="#111"/>
<rect x="424.30" y="199.0" width="1.6" height="10.6" fill="#111"/>
<rect x="451.60" y="199.0" width="1.6" height="10.6" fill="#111"/>
<rect x="480.30" y="199.0" width="1.6" height="10.6" fill="#111"/>
<rect x="512.50" y="199.0" width="1.6" height="10.6" fill="#111"/>
<rect x="540.40" y="199.0" width="1.6" height="10.6" fill="#111"/>
<rect x="565.10" y="199.0" width="1.6" height="10.6" fill="#111"/>
<rect x="596.60" y="199.0" width="1.6" height="10.6" fill="#111"/>
<rect x="629.80" y="199.0" width="1.6" height="10.6" fill="#111"/>
<rect x="661.70" y="199.0" width="1.6" height="10.6" fill="#111"/>
<text x="80.2" y="26.9" font-size="23" fill="#000" stroke="#000" stroke-width="0.2">(a)</text>
<text transform="translate(19.6,111.0) rotate(-90)" font-size="22.2" stroke="#000" stroke-width="0.2" text-anchor="middle" fill="#000">-log<tspan font-size="15.5" dy="4">10</tspan><tspan dy="-4">(</tspan><tspan font-style="italic">p</tspan>)</text>
<text x="209.9" y="102.7" font-size="16" font-weight="bold" fill="#ff0000" stroke="#ff0000" stroke-width="0.3" text-anchor="middle">1</text>
<text x="319.2" y="81.1" font-size="16" font-weight="bold" fill="#ff0000" stroke="#ff0000" stroke-width="0.3" text-anchor="middle">2</text>
<text x="333.1" y="97.4" font-size="16" font-weight="bold" fill="#ff0000" stroke="#ff0000" stroke-width="0.3" text-anchor="middle">4</text>
<text x="359.5" y="34.4" font-size="16" font-weight="bold" fill="#ff0000" stroke="#ff0000" stroke-width="0.3" text-anchor="middle">5</text>
<text x="459.3" y="104.7" font-size="16" font-weight="bold" fill="#ff0000" stroke="#ff0000" stroke-width="0.3" text-anchor="middle">6</text>
<text x="638.5" y="97.3" font-size="16" font-weight="bold" fill="#ff0000" stroke="#ff0000" stroke-width="0.3" text-anchor="middle">7</text>
<text x="666" y="26.0" font-size="16" font-weight="bold" fill="#ff0000" stroke="#ff0000" stroke-width="0.3" text-anchor="middle">8</text>
<text x="675.5" y="103.3" font-size="16" font-weight="bold" fill="#ff0000" stroke="#ff0000" stroke-width="0.3" text-anchor="middle">9</text>
<path d="M316.0,57.5 L322.8,57.5 L322.8,61.3 L326.6,61.3 L319.4,66.5 L312.2,61.3 L316.0,61.3Z" fill="#000"/>
<path d="M663.4,0.4 L670.2,0.4 L670.2,4.2 L674.0,4.2 L666.8,9.4 L659.6,4.2 L663.4,4.2Z" fill="#000"/>
<path d="M673.8,79.9 L680.6,79.9 L680.6,83.7 L684.4,83.7 L677.2,88.9 L670.0,83.7 L673.8,83.7Z" fill="#000"/>
<circle cx="326.5" cy="290.8" r="1.9" fill="#22d322"/>
<circle cx="325.8" cy="296.5" r="1.8" fill="#22d322"/>
<circle cx="326.4" cy="298.0" r="1.8" fill="#22d322"/>
<circle cx="325.8" cy="299.5" r="1.8" fill="#22d322"/>
<circle cx="326.4" cy="301.0" r="1.8" fill="#22d322"/>
<circle cx="325.8" cy="302.5" r="1.8" fill="#22d322"/>
<circle cx="326.4" cy="304.0" r="1.8" fill="#22d322"/>
<circle cx="325.8" cy="305.5" r="1.8" fill="#22d322"/>
<circle cx="326.4" cy="307.0" r="1.8" fill="#22d322"/>
<circle cx="325.8" cy="308.5" r="1.8" fill="#22d322"/>
<circle cx="326.4" cy="310.0" r="1.8" fill="#22d322"/>
<circle cx="359.4" cy="307.9" r="1.9" fill="#22d322"/>
<circle cx="667.0" cy="261.3" r="1.7" fill="#22d322"/>
<circle cx="666.4" cy="275.0" r="1.75" fill="#22d322"/>
<circle cx="667.0" cy="276.5" r="1.75" fill="#22d322"/>
<circle cx="666.4" cy="278.0" r="1.75" fill="#22d322"/>
<circle cx="667.0" cy="279.5" r="1.75" fill="#22d322"/>
<circle cx="666.4" cy="281.0" r="1.75" fill="#22d322"/>
<circle cx="667.0" cy="282.5" r="1.75" fill="#22d322"/>
<circle cx="666.4" cy="284.0" r="1.75" fill="#22d322"/>
<circle cx="667.0" cy="285.5" r="1.75" fill="#22d322"/>
<circle cx="666.4" cy="287.0" r="1.75" fill="#22d322"/>
<circle cx="667.0" cy="288.5" r="1.75" fill="#22d322"/>
<circle cx="666.4" cy="290.0" r="1.75" fill="#22d322"/>
<circle cx="667.0" cy="291.5" r="1.75" fill="#22d322"/>
<circle cx="666.4" cy="293.0" r="1.75" fill="#22d322"/>
<circle cx="667.0" cy="294.5" r="1.75" fill="#22d322"/>
<circle cx="666.4" cy="296.0" r="1.75" fill="#22d322"/>
<circle cx="666.4" cy="300.2" r="1.75" fill="#22d322"/>
<circle cx="667.0" cy="301.7" r="1.75" fill="#22d322"/>
<circle cx="666.4" cy="303.2" r="1.75" fill="#22d322"/>
<circle cx="667.0" cy="304.7" r="1.75" fill="#22d322"/>
<circle cx="666.4" cy="306.2" r="1.75" fill="#22d322"/>
<circle cx="667.0" cy="307.7" r="1.75" fill="#22d322"/>
<rect x="65" y="309.95" width="620" height="1.3" fill="#1a1aff"/>
<rect x="63.8" y="224.7" width="1.6" height="175.4" fill="#000"/>
<rect x="51.8" y="398.70" width="12.5" height="1.4" fill="#000"/>
<text x="47.2" y="402.4" font-size="23" text-anchor="end" fill="#000" stroke="#000" stroke-width="0.2">0</text>
<rect x="51.8" y="363.90" width="12.5" height="1.4" fill="#000"/>
<text x="47.2" y="371.9" font-size="23" text-anchor="end" fill="#000" stroke="#000" stroke-width="0.2">2</text>
<rect x="51.8" y="329.10" width="12.5" height="1.4" fill="#000"/>
<text x="47.2" y="336.6" font-size="23" text-anchor="end" fill="#000" stroke="#000" stroke-width="0.2">4</text>
<rect x="51.8" y="294.30" width="12.5" height="1.4" fill="#000"/>
<text x="47.2" y="301.2" font-size="23" text-anchor="end" fill="#000" stroke="#000" stroke-width="0.2">6</text>
<rect x="51.8" y="259.50" width="12.5" height="1.4" fill="#000"/>
<text x="47.2" y="266.8" font-size="23" text-anchor="end" fill="#000" stroke="#000" stroke-width="0.2">8</text>
<rect x="51.8" y="224.70" width="12.5" height="1.4" fill="#000"/>
<text x="47.2" y="235.5" font-size="23" text-anchor="end" fill="#000" stroke="#000" stroke-width="0.2">10</text>
<rect x="99.00" y="400.0" width="1.6" height="10.6" fill="#111"/>
<rect x="132.50" y="400.0" width="1.6" height="10.6" fill="#111"/>
<rect x="162.00" y="400.0" width="1.6" height="10.6" fill="#111"/>
<rect x="192.40" y="400.0" width="1.6" height="10.6" fill="#111"/>
<rect x="222.30" y="400.0" width="1.6" height="10.6" fill="#111"/>
<rect x="251.40" y="400.0" width="1.6" height="10.6" fill="#111"/>
<rect x="281.70" y="400.0" width="1.6" height="10.6" fill="#111"/>
<rect x="311.30" y="400.0" width="1.6" height="10.6" fill="#111"/>
<rect x="341.40" y="400.0" width="1.6" height="10.6" fill="#111"/>
<rect x="373.20" y="400.0" width="1.6" height="10.6" fill="#111"/>
<rect x="400.40" y="400.0" width="1.6" height="10.6" fill="#111"/>
<rect x="424.30" y="400.0" width="1.6" height="10.6" fill="#111"/>
<rect x="451.60" y="400.0" width="1.6" height="10.6" fill="#111"/>
<rect x="480.30" y="400.0" width="1.6" height="10.6" fill="#111"/>
<rect x="512.50" y="400.0" width="1.6" height="10.6" fill="#111"/>
<rect x="540.40" y="400.0" width="1.6" height="10.6" fill="#111"/>
<rect x="565.10" y="400.0" width="1.6" height="10.6" fill="#111"/>
<rect x="596.60" y="400.0" width="1.6" height="10.6" fill="#111"/>
<rect x="629.80" y="400.0" width="1.6" height="10.6" fill="#111"/>
<rect x="661.70" y="400.0" width="1.6" height="10.6" fill="#111"/>
<text x="80.2" y="244.0" font-size="23" fill="#000" stroke="#000" stroke-width="0.2">(b)</text>
<text transform="translate(17.1,297.9) rotate(-90)" font-size="22.2" stroke="#000" stroke-width="0.2" text-anchor="middle" fill="#000">-log<tspan font-size="15.5" dy="4">10</tspan><tspan dy="-4">(</tspan><tspan font-style="italic">p</tspan>)</text>
<text x="319.3" y="306.2" font-size="16" font-weight="bold" fill="#ff0000" stroke="#ff0000" stroke-width="0.3" text-anchor="middle">3</text>
<text x="332.6" y="297.0" font-size="16" font-weight="bold" fill="#ff0000" stroke="#ff0000" stroke-width="0.3" text-anchor="middle">4</text>
<text x="359.4" y="294.5" font-size="16" font-weight="bold" fill="#ff0000" stroke="#ff0000" stroke-width="0.3" text-anchor="middle">5</text>
<text x="666" y="255.6" font-size="16" font-weight="bold" fill="#ff0000" stroke="#ff0000" stroke-width="0.3" text-anchor="middle">8</text>
<path d="M663.4,228.5 L670.2,228.5 L670.2,232.3 L674.0,232.3 L666.8,237.5 L659.6,232.3 L663.4,232.3Z" fill="#000"/>
<circle cx="325.4" cy="495.9" r="1.8" fill="#22d322"/>
<circle cx="326.0" cy="497.3" r="1.8" fill="#22d322"/>
<circle cx="325.4" cy="498.7" r="1.8" fill="#22d322"/>
<circle cx="326.0" cy="500.1" r="1.8" fill="#22d322"/>
<circle cx="325.4" cy="501.5" r="1.8" fill="#22d322"/>
<circle cx="326.0" cy="502.9" r="1.8" fill="#22d322"/>
<circle cx="325.4" cy="504.3" r="1.8" fill="#22d322"/>
<circle cx="326.0" cy="505.7" r="1.8" fill="#22d322"/>
<circle cx="325.4" cy="507.1" r="1.8" fill="#22d322"/>
<circle cx="326.3" cy="512.9" r="1.8" fill="#22d322"/>
<circle cx="326.3" cy="519.9" r="1.8" fill="#22d322"/>
<circle cx="326.3" cy="522.2" r="1.8" fill="#22d322"/>
<circle cx="359.6" cy="496.5" r="1.9" fill="#22d322"/>
<circle cx="359.6" cy="506.5" r="1.9" fill="#22d322"/>
<circle cx="359.6" cy="512.9" r="1.8" fill="#22d322"/>
<circle cx="359.6" cy="514.4" r="1.8" fill="#22d322"/>
<circle cx="359.6" cy="515.9" r="1.8" fill="#22d322"/>
<circle cx="359.6" cy="517.4" r="1.8" fill="#22d322"/>
<circle cx="359.6" cy="518.9" r="1.8" fill="#22d322"/>
<circle cx="359.6" cy="520.4" r="1.8" fill="#22d322"/>
<circle cx="359.6" cy="521.9" r="1.8" fill="#22d322"/>
<circle cx="467.2" cy="521.9" r="1.9" fill="#22d322"/>
<circle cx="646.8" cy="506.4" r="1.9" fill="#22d322"/>
<circle cx="646.8" cy="512.1" r="1.9" fill="#22d322"/>
<circle cx="646.8" cy="514.8" r="1.8" fill="#22d322"/>
<circle cx="667.3" cy="445.2" r="1.7" fill="#22d322"/>
<circle cx="667.3" cy="468.4" r="1.7" fill="#22d322"/>
<circle cx="666.5" cy="473.8" r="1.75" fill="#22d322"/>
<circle cx="667.1" cy="475.2" r="1.75" fill="#22d322"/>
<circle cx="666.5" cy="476.8" r="1.75" fill="#22d322"/>
<circle cx="667.1" cy="478.2" r="1.75" fill="#22d322"/>
<circle cx="666.5" cy="479.8" r="1.75" fill="#22d322"/>
<circle cx="667.1" cy="481.2" r="1.75" fill="#22d322"/>
<circle cx="666.5" cy="482.8" r="1.75" fill="#22d322"/>
<circle cx="667.1" cy="484.2" r="1.75" fill="#22d322"/>
<circle cx="666.5" cy="485.8" r="1.75" fill="#22d322"/>
<circle cx="667.1" cy="487.2" r="1.75" fill="#22d322"/>
<circle cx="666.5" cy="488.8" r="1.75" fill="#22d322"/>
<circle cx="667.1" cy="490.2" r="1.75" fill="#22d322"/>
<circle cx="666.5" cy="491.8" r="1.75" fill="#22d322"/>
<circle cx="667.1" cy="493.2" r="1.75" fill="#22d322"/>
<circle cx="666.5" cy="494.8" r="1.75" fill="#22d322"/>
<circle cx="667.1" cy="496.2" r="1.75" fill="#22d322"/>
<circle cx="666.5" cy="497.8" r="1.75" fill="#22d322"/>
<circle cx="667.1" cy="499.2" r="1.75" fill="#22d322"/>
<circle cx="666.5" cy="500.8" r="1.75" fill="#22d322"/>
<circle cx="667.1" cy="502.2" r="1.75" fill="#22d322"/>
<circle cx="666.5" cy="503.8" r="1.75" fill="#22d322"/>
<circle cx="667.1" cy="505.2" r="1.75" fill="#22d322"/>
<circle cx="666.5" cy="506.8" r="1.75" fill="#22d322"/>
<circle cx="667.1" cy="508.2" r="1.75" fill="#22d322"/>
<circle cx="666.5" cy="509.8" r="1.75" fill="#22d322"/>
<circle cx="667.1" cy="511.2" r="1.75" fill="#22d322"/>
<circle cx="666.5" cy="512.8" r="1.75" fill="#22d322"/>
<circle cx="667.1" cy="514.2" r="1.75" fill="#22d322"/>
<circle cx="666.5" cy="515.8" r="1.75" fill="#22d322"/>
<circle cx="667.1" cy="517.2" r="1.75" fill="#22d322"/>
<circle cx="666.5" cy="518.8" r="1.75" fill="#22d322"/>
<circle cx="667.1" cy="520.2" r="1.75" fill="#22d322"/>
<circle cx="671.0" cy="512.0" r="1.8" fill="#22d322"/>
<circle cx="671.0" cy="515.5" r="1.8" fill="#22d322"/>
<circle cx="671.0" cy="519.3" r="1.8" fill="#22d322"/>
<rect x="65" y="521.25" width="620" height="1.3" fill="#1a1aff"/>
<rect x="63.8" y="425.9" width="1.6" height="187.8" fill="#000"/>
<rect x="51.8" y="612.30" width="12.5" height="1.4" fill="#000"/>
<text x="47.2" y="616.2" font-size="23" text-anchor="end" fill="#000" stroke="#000" stroke-width="0.2">0</text>
<rect x="51.8" y="575.02" width="12.5" height="1.4" fill="#000"/>
<text x="47.2" y="579.1" font-size="23" text-anchor="end" fill="#000" stroke="#000" stroke-width="0.2">2</text>
<rect x="51.8" y="537.74" width="12.5" height="1.4" fill="#000"/>
<text x="47.2" y="545.1" font-size="23" text-anchor="end" fill="#000" stroke="#000" stroke-width="0.2">4</text>
<rect x="51.8" y="500.46" width="12.5" height="1.4" fill="#000"/>
<text x="47.2" y="508.5" font-size="23" text-anchor="end" fill="#000" stroke="#000" stroke-width="0.2">6</text>
<rect x="51.8" y="463.18" width="12.5" height="1.4" fill="#000"/>
<text x="47.2" y="471.2" font-size="23" text-anchor="end" fill="#000" stroke="#000" stroke-width="0.2">8</text>
<rect x="51.8" y="425.90" width="12.5" height="1.4" fill="#000"/>
<text x="47.2" y="439.2" font-size="23" text-anchor="end" fill="#000" stroke="#000" stroke-width="0.2">10</text>
<rect x="99.00" y="613.6" width="1.6" height="10.6" fill="#111"/>
<rect x="132.50" y="613.6" width="1.6" height="10.6" fill="#111"/>
<rect x="162.00" y="613.6" width="1.6" height="10.6" fill="#111"/>
<rect x="192.40" y="613.6" width="1.6" height="10.6" fill="#111"/>
<rect x="222.30" y="613.6" width="1.6" height="10.6" fill="#111"/>
<rect x="251.40" y="613.6" width="1.6" height="10.6" fill="#111"/>
<rect x="281.70" y="613.6" width="1.6" height="10.6" fill="#111"/>
<rect x="311.30" y="613.6" width="1.6" height="10.6" fill="#111"/>
<rect x="341.40" y="613.6" width="1.6" height="10.6" fill="#111"/>
<rect x="373.20" y="613.6" width="1.6" height="10.6" fill="#111"/>
<rect x="400.40" y="613.6" width="1.6" height="10.6" fill="#111"/>
<rect x="424.30" y="613.6" width="1.6" height="10.6" fill="#111"/>
<rect x="451.60" y="613.6" width="1.6" height="10.6" fill="#111"/>
<rect x="480.30" y="613.6" width="1.6" height="10.6" fill="#111"/>
<rect x="512.50" y="613.6" width="1.6" height="10.6" fill="#111"/>
<rect x="540.40" y="613.6" width="1.6" height="10.6" fill="#111"/>
<rect x="565.10" y="613.6" width="1.6" height="10.6" fill="#111"/>
<rect x="596.60" y="613.6" width="1.6" height="10.6" fill="#111"/>
<rect x="629.80" y="613.6" width="1.6" height="10.6" fill="#111"/>
<rect x="661.70" y="613.6" width="1.6" height="10.6" fill="#111"/>
<text x="79.4" y="443.9" font-size="23" fill="#000" stroke="#000" stroke-width="0.2">(c)</text>
<text transform="translate(21.5,491.3) rotate(-90)" font-size="22.2" stroke="#000" stroke-width="0.2" text-anchor="middle" fill="#000">-log<tspan font-size="15.5" dy="4">10</tspan><tspan dy="-4">(</tspan><tspan font-style="italic">p</tspan>)</text>
<text x="317.5" y="503.7" font-size="16" font-weight="bold" fill="#ff0000" stroke="#ff0000" stroke-width="0.3" text-anchor="middle">2</text>
<text x="331.1" y="511.7" font-size="16" font-weight="bold" fill="#ff0000" stroke="#ff0000" stroke-width="0.3" text-anchor="middle">4</text>
<text x="359.3" y="489.6" font-size="16" font-weight="bold" fill="#ff0000" stroke="#ff0000" stroke-width="0.3" text-anchor="middle">5</text>
<text x="459.5" y="518.7" font-size="16" font-weight="bold" fill="#ff0000" stroke="#ff0000" stroke-width="0.3" text-anchor="middle">6</text>
<text x="639" y="515.3" font-size="16" font-weight="bold" fill="#ff0000" stroke="#ff0000" stroke-width="0.3" text-anchor="middle">7</text>
<text x="666" y="438.7" font-size="16" font-weight="bold" fill="#ff0000" stroke="#ff0000" stroke-width="0.3" text-anchor="middle">8</text>
<text x="678.8" y="517.1" font-size="16" font-weight="bold" fill="#ff0000" stroke="#ff0000" stroke-width="0.3" text-anchor="middle">9</text>
<path d="M314.7,478.4 L321.5,478.4 L321.5,482.2 L325.3,482.2 L318.1,487.4 L310.9,482.2 L314.7,482.2Z" fill="#000"/>
<path d="M663.6,412.4 L670.4,412.4 L670.4,416.2 L674.2,416.2 L667.0,421.4 L659.8,416.2 L663.6,416.2Z" fill="#000"/>
<path d="M673.8,495.1 L680.6,495.1 L680.6,498.9 L684.4,498.9 L677.2,504.1 L670.0,498.9 L673.8,498.9Z" fill="#000"/>
<text x="99.5" y="645.6" font-size="22" text-anchor="middle" fill="#000" stroke="#000" stroke-width="0.2">1</text>
<text x="132.4" y="645.6" font-size="22" text-anchor="middle" fill="#000" stroke="#000" stroke-width="0.2">2</text>
<text x="162.4" y="645.6" font-size="22" text-anchor="middle" fill="#000" stroke="#000" stroke-width="0.2">3</text>
<text x="190.8" y="645.6" font-size="22" text-anchor="middle" fill="#000" stroke="#000" stroke-width="0.2">4</text>
<text x="220.6" y="645.6" font-size="22" text-anchor="middle" fill="#000" stroke="#000" stroke-width="0.2">5</text>
<text x="251.0" y="645.6" font-size="22" text-anchor="middle" fill="#000" stroke="#000" stroke-width="0.2">6</text>
<text x="281.6" y="645.6" font-size="22" text-anchor="middle" fill="#000" stroke="#000" stroke-width="0.2">7</text>
<text x="311.6" y="645.6" font-size="22" text-anchor="middle" fill="#000" stroke="#000" stroke-width="0.2">8</text>
<text x="341.2" y="645.6" font-size="22" text-anchor="middle" fill="#000" stroke="#000" stroke-width="0.2">9</text>
<text x="369.4" y="645.6" font-size="22" text-anchor="middle" fill="#000" stroke="#000" stroke-width="0.2">10</text>
<text x="422.0" y="645.6" font-size="22" text-anchor="middle" fill="#000" stroke="#000" stroke-width="0.2">12</text>
<text x="479.6" y="645.6" font-size="22" text-anchor="middle" fill="#000" stroke="#000" stroke-width="0.2">14</text>
<text x="536.2" y="645.6" font-size="22" text-anchor="middle" fill="#000" stroke="#000" stroke-width="0.2">16</text>
<text x="595.2" y="645.6" font-size="22" text-anchor="middle" fill="#000" stroke="#000" stroke-width="0.2">18</text>
<text x="627.8" y="645.6" font-size="22" text-anchor="middle" fill="#000" stroke="#000" stroke-width="0.2">19</text>
<text x="659.0" y="645.6" font-size="22" text-anchor="middle" fill="#000" stroke="#000" stroke-width="0.2">20</text>
<text x="408.8" y="670.6" font-size="22.4" text-anchor="middle" fill="#000" stroke="#000" stroke-width="0.2">Chromosomes</text>
</svg></body></html>
